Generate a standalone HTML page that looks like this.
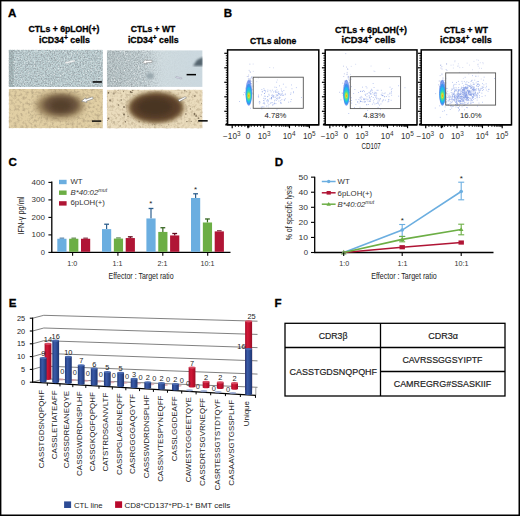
<!DOCTYPE html>
<html><head><meta charset="utf-8"><style>
html,body{margin:0;padding:0;background:#fff;}
svg{display:block;font-family:"Liberation Sans", sans-serif;}
text.hv{stroke:#222;stroke-width:0.2px;}
text[font-weight=bold]{stroke:#000;stroke-width:0.3px;}
</style></head><body>
<svg width="520" height="516" viewBox="0 0 520 516">
<rect width="520" height="516" fill="#fff"/>
<text x="8.1" y="17.3" font-size="11.6" font-weight="bold" fill="#000" >A</text>
<text x="223.8" y="17.3" font-size="11.6" font-weight="bold" fill="#000" >B</text>
<text x="8.6" y="165.5" font-size="11.6" font-weight="bold" fill="#000" >C</text>
<text x="274.7" y="165.6" font-size="11.6" font-weight="bold" fill="#000" >D</text>
<text x="8.7" y="307.0" font-size="11.6" font-weight="bold" fill="#000" >E</text>
<text x="274.5" y="307.1" font-size="11.6" font-weight="bold" fill="#000" >F</text>
<text x="64.0" y="32.2" font-size="8.7" font-weight="bold" text-anchor="middle" textLength="70.9" lengthAdjust="spacingAndGlyphs" fill="#000" >CTLs + 6pLOH(+)</text>
<text x="64.5" y="42.8" font-size="8.7" font-weight="bold" text-anchor="middle" textLength="51" lengthAdjust="spacingAndGlyphs">iCD34<tspan font-size="6.6" dy="-3.0">+</tspan><tspan dy="3.0"> cells</tspan></text>
<text x="153.0" y="32.1" font-size="8.7" font-weight="bold" text-anchor="middle" textLength="44.5" lengthAdjust="spacingAndGlyphs" fill="#000" >CTLs + WT</text>
<text x="153.3" y="42.8" font-size="8.7" font-weight="bold" text-anchor="middle" textLength="50.7" lengthAdjust="spacingAndGlyphs">iCD34<tspan font-size="6.6" dy="-3.0">+</tspan><tspan dy="3.0"> cells</tspan></text>
<defs>
<filter id="speck" x="0" y="0" width="100%" height="100%">
 <feTurbulence type="fractalNoise" baseFrequency="0.9" numOctaves="2" seed="3" result="n"/>
 <feColorMatrix in="n" type="matrix" values="0 0 0 0 0  0 0 0 0 0  0 0 0 0 0  0.9 0.9 0.9 0 -0.95" result="a"/>
 <feComposite in="SourceGraphic" in2="a" operator="over"/>
</filter>
<filter id="noiseD" x="0" y="0" width="100%" height="100%">
 <feTurbulence type="fractalNoise" baseFrequency="0.7" numOctaves="2" seed="5"/>
 <feColorMatrix type="matrix" values="0 0 0 0 0.25  0 0 0 0 0.28  0 0 0 0 0.3  0 0 0 -2.2 1.35"/>
</filter>
<filter id="noiseL" x="0" y="0" width="100%" height="100%">
 <feTurbulence type="fractalNoise" baseFrequency="0.7" numOctaves="2" seed="9"/>
 <feColorMatrix type="matrix" values="0 0 0 0 1  0 0 0 0 1  0 0 0 0 1  0 0 0 2.2 -1.25"/>
</filter>
<filter id="noiseB" x="0" y="0" width="100%" height="100%">
 <feTurbulence type="fractalNoise" baseFrequency="0.25" numOctaves="3" seed="11"/>
 <feColorMatrix type="matrix" values="0 0 0 0 0.45  0 0 0 0 0.35  0 0 0 0 0.2  0 0 0 -2.0 1.25"/>
</filter>
<filter id="blur1"><feGaussianBlur stdDeviation="1.2"/></filter>
<filter id="blur2"><feGaussianBlur stdDeviation="2.5"/></filter>
<filter id="blur3"><feGaussianBlur stdDeviation="4"/></filter>
<radialGradient id="blob1" cx="0.5" cy="0.5" r="0.5">
 <stop offset="0" stop-color="#5a4028"/><stop offset="0.55" stop-color="#6e5535"/><stop offset="0.8" stop-color="#98835e" stop-opacity="0.7"/><stop offset="1" stop-color="#c8b48a" stop-opacity="0"/>
</radialGradient>
<radialGradient id="blob2" cx="0.5" cy="0.5" r="0.5">
 <stop offset="0" stop-color="#4e3520"/><stop offset="0.6" stop-color="#5e4229"/><stop offset="0.85" stop-color="#7d6242" stop-opacity="0.85"/><stop offset="1" stop-color="#b09a74" stop-opacity="0"/>
</radialGradient>
<linearGradient id="g2top" x1="0" y1="0" x2="1" y2="0">
 <stop offset="0" stop-color="#b9c6c8"/><stop offset="0.35" stop-color="#c3d0d3"/><stop offset="0.55" stop-color="#d0dce0"/><stop offset="1" stop-color="#cbd8df"/>
</linearGradient>
<clipPath id="c1t"><rect x="8.7" y="49.7" width="94.2" height="37.3"/></clipPath>
<clipPath id="c1b"><rect x="8.7" y="89" width="94.2" height="39.3"/></clipPath>
<clipPath id="c2t"><rect x="106.8" y="50.2" width="95.8" height="36.7"/></clipPath>
<clipPath id="c2b"><rect x="106.8" y="89.6" width="95.8" height="38.8"/></clipPath>
</defs>
<defs>
<linearGradient id="m2g" x1="0" y1="0" x2="1" y2="0"><stop offset="0" stop-color="#fff"/><stop offset="0.38" stop-color="#fff"/><stop offset="0.6" stop-color="#fff" stop-opacity="0.15"/><stop offset="1" stop-color="#fff" stop-opacity="0"/></linearGradient>
<mask id="m2"><rect x="106.8" y="50.2" width="95.8" height="36.7" fill="url(#m2g)"/></mask>
<filter id="noiseB2" x="0" y="0" width="100%" height="100%">
 <feTurbulence type="fractalNoise" baseFrequency="0.35" numOctaves="3" seed="21"/>
 <feColorMatrix type="matrix" values="0 0 0 0 0.45  0 0 0 0 0.36  0 0 0 0 0.22  0 0 0 -2.6 1.45"/>
</filter>
<filter id="bl3"><feGaussianBlur stdDeviation="3"/></filter>
<filter id="bl2"><feGaussianBlur stdDeviation="2"/></filter>
<filter id="bl1"><feGaussianBlur stdDeviation="1"/></filter>
<filter id="bl05"><feGaussianBlur stdDeviation="0.5"/></filter>
</defs>
<g clip-path="url(#c1t)">
<rect x="8.70" y="49.70" width="94.20" height="37.30" fill="#c0d2d5" />
<rect x="8.70" y="49.70" width="5.00" height="37.30" fill="#9eb0b2" opacity="0.8"/>
<rect x="8.7" y="49.7" width="94.2" height="37.3" filter="url(#noiseD)" opacity="0.85"/>
<rect x="8.7" y="49.7" width="94.2" height="37.3" filter="url(#noiseL)"/>
<path d="M65,62.6 L73.5,60.2 L74.3,61.4 L65.8,63.6 Z" fill="#fff" stroke="#ccc" stroke-width="0.4"/>
<rect x="92.60" y="81.20" width="9.30" height="1.50" fill="#000" />
</g>
<g clip-path="url(#c1b)">
<rect x="8.70" y="89.00" width="94.20" height="39.30" fill="#e1cfa4" />
<rect x="8.7" y="89" width="94.2" height="39.3" filter="url(#noiseB2)" opacity="0.75"/>
<ellipse cx="60" cy="105.5" rx="24" ry="13" fill="#8f7854" filter="url(#bl3)"/>
<ellipse cx="61" cy="105" rx="17" ry="9.5" fill="#66503a" filter="url(#bl2)"/>
<ellipse cx="61" cy="105.5" rx="10" ry="5.5" fill="#54402c" filter="url(#bl2)"/>
<path d="M81.5,101.2 L85.5,97.8 L85.8,99.2 L92.5,96.8 L93.2,98.8 L86.5,101.2 L87,102.4 Z" fill="#fff" stroke="#6a6a6a" stroke-width="0.5" stroke-linejoin="round"/>
<rect x="92.00" y="120.40" width="9.30" height="1.40" fill="#000" />
</g>
<g clip-path="url(#c2t)">
<rect x="106.80" y="50.20" width="95.80" height="36.70" fill="url(#g2top)" />
<g mask="url(#m2)"><rect x="106.8" y="50.2" width="95.8" height="36.7" filter="url(#noiseD)" opacity="0.75"/><rect x="106.8" y="50.2" width="95.8" height="36.7" filter="url(#noiseL)"/></g>
<path d="M193,66 L197,60 L203,57 L203,66 Z" fill="#55656e" filter="url(#bl1)"/>
<ellipse cx="150" cy="76" rx="4" ry="3" fill="#9aa8ae" filter="url(#bl1)"/>
<path d="M142.5,62.5 L146,59.5 L146,60.6 L152,60.2 L152,62.4 L146.2,62.8 L146.4,64 Z" fill="#fff" stroke="#777" stroke-width="0.5"/>
<path d="M176,76.5 L182,78 L181.5,79 L175.5,77.5 Z" fill="#eef" stroke="#889" stroke-width="0.4"/>
<rect x="186.60" y="73.90" width="9.40" height="1.50" fill="#000" />
</g>
<g clip-path="url(#c2b)">
<rect x="106.80" y="89.60" width="95.80" height="38.80" fill="#eadcbd" />
<rect x="106.8" y="89.6" width="95.8" height="38.8" filter="url(#noiseB2)" opacity="0.6"/>
<circle cx="188.9" cy="96.7" r="0.56" fill="#5a4a35" opacity="0.41"/>
<circle cx="118.1" cy="90.3" r="0.51" fill="#5a4a35" opacity="0.66"/>
<circle cx="201.0" cy="116.4" r="0.66" fill="#5a4a35" opacity="0.60"/>
<circle cx="114.0" cy="122.0" r="0.83" fill="#5a4a35" opacity="0.46"/>
<circle cx="113.7" cy="93.6" r="1.07" fill="#5a4a35" opacity="0.45"/>
<circle cx="166.4" cy="126.8" r="0.42" fill="#5a4a35" opacity="0.59"/>
<circle cx="152.3" cy="124.8" r="0.53" fill="#5a4a35" opacity="0.53"/>
<circle cx="130.6" cy="91.9" r="0.87" fill="#5a4a35" opacity="0.81"/>
<circle cx="185.9" cy="114.0" r="0.81" fill="#5a4a35" opacity="0.67"/>
<circle cx="186.7" cy="91.7" r="0.51" fill="#5a4a35" opacity="0.51"/>
<circle cx="108.4" cy="118.6" r="0.85" fill="#5a4a35" opacity="0.67"/>
<circle cx="201.5" cy="103.6" r="0.54" fill="#5a4a35" opacity="0.46"/>
<circle cx="139.3" cy="121.8" r="0.82" fill="#5a4a35" opacity="0.43"/>
<circle cx="124.0" cy="114.4" r="0.98" fill="#5a4a35" opacity="0.71"/>
<circle cx="132.8" cy="90.3" r="0.59" fill="#5a4a35" opacity="0.74"/>
<circle cx="186.9" cy="121.6" r="0.60" fill="#5a4a35" opacity="0.88"/>
<circle cx="131.9" cy="92.5" r="0.76" fill="#5a4a35" opacity="0.83"/>
<circle cx="159.0" cy="125.8" r="0.45" fill="#5a4a35" opacity="0.53"/>
<circle cx="196.6" cy="115.0" r="0.45" fill="#5a4a35" opacity="0.62"/>
<circle cx="168.8" cy="124.7" r="0.46" fill="#5a4a35" opacity="0.85"/>
<circle cx="120.3" cy="125.9" r="0.58" fill="#5a4a35" opacity="0.52"/>
<circle cx="154.2" cy="124.6" r="0.46" fill="#5a4a35" opacity="0.86"/>
<circle cx="196.1" cy="116.0" r="0.96" fill="#5a4a35" opacity="0.59"/>
<circle cx="198.5" cy="118.2" r="0.88" fill="#5a4a35" opacity="0.62"/>
<circle cx="128.0" cy="116.3" r="0.92" fill="#5a4a35" opacity="0.40"/>
<circle cx="127.1" cy="94.9" r="0.53" fill="#5a4a35" opacity="0.41"/>
<circle cx="118.5" cy="104.9" r="0.75" fill="#5a4a35" opacity="0.72"/>
<circle cx="194.4" cy="114.0" r="0.88" fill="#5a4a35" opacity="0.74"/>
<circle cx="184.7" cy="90.6" r="0.96" fill="#5a4a35" opacity="0.46"/>
<circle cx="108.5" cy="92.9" r="0.79" fill="#5a4a35" opacity="0.83"/>
<circle cx="194.9" cy="96.0" r="0.70" fill="#5a4a35" opacity="0.87"/>
<circle cx="191.3" cy="121.4" r="0.57" fill="#5a4a35" opacity="0.54"/>
<circle cx="121.2" cy="100.0" r="0.68" fill="#5a4a35" opacity="0.80"/>
<circle cx="124.0" cy="107.1" r="1.02" fill="#5a4a35" opacity="0.64"/>
<circle cx="190.4" cy="108.9" r="0.66" fill="#5a4a35" opacity="0.63"/>
<circle cx="125.4" cy="121.8" r="0.74" fill="#5a4a35" opacity="0.72"/>
<circle cx="123.5" cy="91.6" r="0.56" fill="#5a4a35" opacity="0.61"/>
<circle cx="110.1" cy="100.4" r="1.06" fill="#5a4a35" opacity="0.62"/>
<circle cx="107.4" cy="120.5" r="0.61" fill="#5a4a35" opacity="0.49"/>
<ellipse cx="156" cy="107.5" rx="28" ry="15.5" fill="#8a7048" filter="url(#bl2)"/>
<ellipse cx="156" cy="107.5" rx="25" ry="13.5" fill="#5a4129" filter="url(#bl2)"/>
<ellipse cx="155" cy="107" rx="17" ry="8.5" fill="#4a3420" filter="url(#bl2)"/>
<path d="M178,100 L185,96.7 L186.5,97.8 L179.5,101.5 Z" fill="#fff" stroke="#666" stroke-width="0.5"/>
</g>
<rect x="198.20" y="120.10" width="9.50" height="1.50" fill="#000" />
<text x="273.1" y="44.1" font-size="8.9" font-weight="bold" text-anchor="middle" textLength="46.2" lengthAdjust="spacingAndGlyphs" fill="#000" >CTLs alone</text>
<text x="371.0" y="32.5" font-size="8.7" font-weight="bold" text-anchor="middle" textLength="72" lengthAdjust="spacingAndGlyphs" fill="#000" >CTLs + 6pLOH(+)</text>
<text x="368.5" y="42.6" font-size="8.7" font-weight="bold" text-anchor="middle" textLength="54.2" lengthAdjust="spacingAndGlyphs">iCD34<tspan font-size="6.6" dy="-3.0">+</tspan><tspan dy="3.0"> cells</tspan></text>
<text x="466.0" y="32.5" font-size="8.7" font-weight="bold" text-anchor="middle" textLength="44.0" lengthAdjust="spacingAndGlyphs" fill="#000" >CTLs + WT</text>
<text x="465.9" y="42.6" font-size="8.7" font-weight="bold" text-anchor="middle" textLength="51.8" lengthAdjust="spacingAndGlyphs">iCD34<tspan font-size="6.6" dy="-3.0">+</tspan><tspan dy="3.0"> cells</tspan></text>
<rect x="227.60" y="49.90" width="91.20" height="74.90" fill="#fff" stroke="#000" stroke-width="1.5"/>
<line x1="224.30" y1="53.30" x2="227.60" y2="53.30" stroke="#000" stroke-width="1.2" />
<line x1="225.80" y1="55.72" x2="227.60" y2="55.72" stroke="#000" stroke-width="0.9" />
<line x1="225.80" y1="58.13" x2="227.60" y2="58.13" stroke="#000" stroke-width="0.9" />
<line x1="225.80" y1="60.55" x2="227.60" y2="60.55" stroke="#000" stroke-width="0.9" />
<line x1="225.80" y1="62.97" x2="227.60" y2="62.97" stroke="#000" stroke-width="0.9" />
<line x1="225.80" y1="65.38" x2="227.60" y2="65.38" stroke="#000" stroke-width="0.9" />
<line x1="224.30" y1="67.80" x2="227.60" y2="67.80" stroke="#000" stroke-width="1.2" />
<line x1="225.80" y1="70.22" x2="227.60" y2="70.22" stroke="#000" stroke-width="0.9" />
<line x1="225.80" y1="72.63" x2="227.60" y2="72.63" stroke="#000" stroke-width="0.9" />
<line x1="225.80" y1="75.05" x2="227.60" y2="75.05" stroke="#000" stroke-width="0.9" />
<line x1="225.80" y1="77.47" x2="227.60" y2="77.47" stroke="#000" stroke-width="0.9" />
<line x1="225.80" y1="79.88" x2="227.60" y2="79.88" stroke="#000" stroke-width="0.9" />
<line x1="224.30" y1="82.30" x2="227.60" y2="82.30" stroke="#000" stroke-width="1.2" />
<line x1="225.80" y1="84.72" x2="227.60" y2="84.72" stroke="#000" stroke-width="0.9" />
<line x1="225.80" y1="87.13" x2="227.60" y2="87.13" stroke="#000" stroke-width="0.9" />
<line x1="225.80" y1="89.55" x2="227.60" y2="89.55" stroke="#000" stroke-width="0.9" />
<line x1="225.80" y1="91.97" x2="227.60" y2="91.97" stroke="#000" stroke-width="0.9" />
<line x1="225.80" y1="94.38" x2="227.60" y2="94.38" stroke="#000" stroke-width="0.9" />
<line x1="224.30" y1="96.80" x2="227.60" y2="96.80" stroke="#000" stroke-width="1.2" />
<line x1="225.80" y1="99.22" x2="227.60" y2="99.22" stroke="#000" stroke-width="0.9" />
<line x1="225.80" y1="101.63" x2="227.60" y2="101.63" stroke="#000" stroke-width="0.9" />
<line x1="225.80" y1="104.05" x2="227.60" y2="104.05" stroke="#000" stroke-width="0.9" />
<line x1="225.80" y1="106.47" x2="227.60" y2="106.47" stroke="#000" stroke-width="0.9" />
<line x1="225.80" y1="108.88" x2="227.60" y2="108.88" stroke="#000" stroke-width="0.9" />
<line x1="224.30" y1="111.30" x2="227.60" y2="111.30" stroke="#000" stroke-width="1.2" />
<line x1="225.80" y1="113.72" x2="227.60" y2="113.72" stroke="#000" stroke-width="0.9" />
<line x1="225.80" y1="116.13" x2="227.60" y2="116.13" stroke="#000" stroke-width="0.9" />
<line x1="225.80" y1="118.55" x2="227.60" y2="118.55" stroke="#000" stroke-width="0.9" />
<line x1="225.80" y1="120.97" x2="227.60" y2="120.97" stroke="#000" stroke-width="0.9" />
<line x1="225.80" y1="123.38" x2="227.60" y2="123.38" stroke="#000" stroke-width="0.9" />
<line x1="225.30" y1="124.80" x2="318.80" y2="124.80" stroke="#000" stroke-width="1.5" />
<line x1="232.19" y1="124.80" x2="232.19" y2="128.20" stroke="#000" stroke-width="1.2" />
<line x1="248.06" y1="124.80" x2="248.06" y2="128.20" stroke="#000" stroke-width="1.2" />
<line x1="263.82" y1="124.80" x2="263.82" y2="128.20" stroke="#000" stroke-width="1.2" />
<line x1="289.46" y1="124.80" x2="289.46" y2="128.20" stroke="#000" stroke-width="1.2" />
<line x1="309.42" y1="124.80" x2="309.42" y2="128.20" stroke="#000" stroke-width="1.2" />
<line x1="235.36" y1="124.80" x2="235.36" y2="126.80" stroke="#000" stroke-width="0.9" />
<line x1="238.54" y1="124.80" x2="238.54" y2="126.80" stroke="#000" stroke-width="0.9" />
<line x1="241.71" y1="124.80" x2="241.71" y2="126.80" stroke="#000" stroke-width="0.9" />
<line x1="244.88" y1="124.80" x2="244.88" y2="126.80" stroke="#000" stroke-width="0.9" />
<line x1="251.21" y1="124.80" x2="251.21" y2="126.80" stroke="#000" stroke-width="0.9" />
<line x1="254.36" y1="124.80" x2="254.36" y2="126.80" stroke="#000" stroke-width="0.9" />
<line x1="257.51" y1="124.80" x2="257.51" y2="126.80" stroke="#000" stroke-width="0.9" />
<line x1="260.67" y1="124.80" x2="260.67" y2="126.80" stroke="#000" stroke-width="0.9" />
<line x1="271.54" y1="124.80" x2="271.54" y2="126.80" stroke="#000" stroke-width="0.9" />
<line x1="276.06" y1="124.80" x2="276.06" y2="126.80" stroke="#000" stroke-width="0.9" />
<line x1="279.26" y1="124.80" x2="279.26" y2="126.80" stroke="#000" stroke-width="0.9" />
<line x1="281.74" y1="124.80" x2="281.74" y2="126.80" stroke="#000" stroke-width="0.9" />
<line x1="283.78" y1="124.80" x2="283.78" y2="126.80" stroke="#000" stroke-width="0.9" />
<line x1="285.49" y1="124.80" x2="285.49" y2="126.80" stroke="#000" stroke-width="0.9" />
<line x1="286.98" y1="124.80" x2="286.98" y2="126.80" stroke="#000" stroke-width="0.9" />
<line x1="288.29" y1="124.80" x2="288.29" y2="126.80" stroke="#000" stroke-width="0.9" />
<line x1="295.47" y1="124.80" x2="295.47" y2="126.80" stroke="#000" stroke-width="0.9" />
<line x1="298.99" y1="124.80" x2="298.99" y2="126.80" stroke="#000" stroke-width="0.9" />
<line x1="301.48" y1="124.80" x2="301.48" y2="126.80" stroke="#000" stroke-width="0.9" />
<line x1="303.41" y1="124.80" x2="303.41" y2="126.80" stroke="#000" stroke-width="0.9" />
<line x1="304.99" y1="124.80" x2="304.99" y2="126.80" stroke="#000" stroke-width="0.9" />
<line x1="306.33" y1="124.80" x2="306.33" y2="126.80" stroke="#000" stroke-width="0.9" />
<line x1="307.49" y1="124.80" x2="307.49" y2="126.80" stroke="#000" stroke-width="0.9" />
<line x1="308.51" y1="124.80" x2="308.51" y2="126.80" stroke="#000" stroke-width="0.9" />
<line x1="247.10" y1="126.30" x2="249.60" y2="126.30" stroke="#000" stroke-width="2.2" />
<text x="231.79" y="138.9" font-size="8.2" text-anchor="middle" fill="#333">&#8722;10<tspan font-size="6.4" dy="-3.1">3</tspan></text>
<text x="248.06" y="138.9" font-size="8.2" text-anchor="middle" fill="#333" >0</text>
<text x="264.12" y="138.9" font-size="8.2" text-anchor="middle" fill="#333">10<tspan font-size="6.4" dy="-3.1">3</tspan></text>
<text x="289.16" y="138.9" font-size="8.2" text-anchor="middle" fill="#333">10<tspan font-size="6.4" dy="-3.1">4</tspan></text>
<text x="309.22" y="138.9" font-size="8.2" text-anchor="middle" fill="#333">10<tspan font-size="6.4" dy="-3.1">5</tspan></text>
<rect x="251.4" y="76.0" width="0.9" height="0.9" fill="#8c9bd8" opacity="0.6"/>
<rect x="248.9" y="84.9" width="0.9" height="0.9" fill="#8c9bd8" opacity="0.6"/>
<rect x="246.6" y="94.4" width="0.9" height="0.9" fill="#8c9bd8" opacity="0.6"/>
<rect x="246.8" y="76.1" width="0.9" height="0.9" fill="#8c9bd8" opacity="0.6"/>
<rect x="249.2" y="93.1" width="0.9" height="0.9" fill="#8c9bd8" opacity="0.6"/>
<rect x="249.9" y="82.9" width="0.9" height="0.9" fill="#8c9bd8" opacity="0.6"/>
<rect x="248.8" y="94.0" width="0.9" height="0.9" fill="#8c9bd8" opacity="0.6"/>
<rect x="245.8" y="87.8" width="0.9" height="0.9" fill="#8c9bd8" opacity="0.6"/>
<rect x="249.4" y="63.7" width="0.9" height="0.9" fill="#8c9bd8" opacity="0.6"/>
<rect x="249.2" y="92.9" width="0.9" height="0.9" fill="#8c9bd8" opacity="0.6"/>
<rect x="251.3" y="92.2" width="0.9" height="0.9" fill="#8c9bd8" opacity="0.6"/>
<rect x="250.6" y="90.0" width="0.9" height="0.9" fill="#8c9bd8" opacity="0.6"/>
<rect x="249.2" y="81.5" width="0.9" height="0.9" fill="#8c9bd8" opacity="0.6"/>
<rect x="250.2" y="93.1" width="0.9" height="0.9" fill="#8c9bd8" opacity="0.6"/>
<rect x="246.6" y="89.0" width="0.9" height="0.9" fill="#8c9bd8" opacity="0.6"/>
<rect x="249.0" y="85.4" width="0.9" height="0.9" fill="#8c9bd8" opacity="0.6"/>
<rect x="249.2" y="80.7" width="0.9" height="0.9" fill="#8c9bd8" opacity="0.6"/>
<rect x="248.7" y="92.2" width="0.9" height="0.9" fill="#8c9bd8" opacity="0.6"/>
<rect x="250.1" y="80.7" width="0.9" height="0.9" fill="#8c9bd8" opacity="0.6"/>
<rect x="248.0" y="88.3" width="0.9" height="0.9" fill="#8c9bd8" opacity="0.6"/>
<rect x="252.8" y="93.6" width="0.9" height="0.9" fill="#8c9bd8" opacity="0.6"/>
<rect x="250.1" y="86.7" width="0.9" height="0.9" fill="#8c9bd8" opacity="0.6"/>
<rect x="248.2" y="74.6" width="0.9" height="0.9" fill="#8c9bd8" opacity="0.6"/>
<rect x="250.7" y="89.5" width="0.9" height="0.9" fill="#8c9bd8" opacity="0.6"/>
<rect x="250.2" y="77.8" width="0.9" height="0.9" fill="#8c9bd8" opacity="0.6"/>
<rect x="247.9" y="78.5" width="0.9" height="0.9" fill="#8c9bd8" opacity="0.6"/>
<rect x="251.7" y="77.9" width="0.9" height="0.9" fill="#8c9bd8" opacity="0.6"/>
<rect x="246.1" y="94.2" width="0.9" height="0.9" fill="#8c9bd8" opacity="0.6"/>
<rect x="250.3" y="92.7" width="0.9" height="0.9" fill="#8c9bd8" opacity="0.6"/>
<rect x="249.4" y="81.9" width="0.9" height="0.9" fill="#8c9bd8" opacity="0.6"/>
<rect x="250.0" y="80.3" width="0.9" height="0.9" fill="#8c9bd8" opacity="0.6"/>
<rect x="247.9" y="76.2" width="0.9" height="0.9" fill="#8c9bd8" opacity="0.6"/>
<rect x="247.3" y="84.9" width="0.9" height="0.9" fill="#8c9bd8" opacity="0.6"/>
<rect x="245.3" y="93.6" width="0.9" height="0.9" fill="#8c9bd8" opacity="0.6"/>
<rect x="246.8" y="93.1" width="0.9" height="0.9" fill="#8c9bd8" opacity="0.6"/>
<rect x="248.3" y="94.6" width="0.9" height="0.9" fill="#8c9bd8" opacity="0.6"/>
<rect x="251.8" y="89.3" width="0.9" height="0.9" fill="#8c9bd8" opacity="0.6"/>
<rect x="251.5" y="93.0" width="0.9" height="0.9" fill="#8c9bd8" opacity="0.6"/>
<rect x="247.8" y="89.9" width="0.9" height="0.9" fill="#8c9bd8" opacity="0.6"/>
<rect x="243.1" y="94.3" width="0.9" height="0.9" fill="#8c9bd8" opacity="0.6"/>
<rect x="249.1" y="78.7" width="0.9" height="0.9" fill="#8c9bd8" opacity="0.6"/>
<rect x="249.7" y="87.5" width="0.9" height="0.9" fill="#8c9bd8" opacity="0.6"/>
<rect x="243.9" y="92.0" width="0.9" height="0.9" fill="#8c9bd8" opacity="0.6"/>
<rect x="246.8" y="88.0" width="0.9" height="0.9" fill="#8c9bd8" opacity="0.6"/>
<rect x="248.5" y="78.5" width="0.9" height="0.9" fill="#8c9bd8" opacity="0.6"/>
<rect x="249.0" y="94.4" width="0.9" height="0.9" fill="#8c9bd8" opacity="0.6"/>
<rect x="249.6" y="71.2" width="0.9" height="0.9" fill="#8c9bd8" opacity="0.6"/>
<rect x="251.3" y="80.8" width="0.9" height="0.9" fill="#8c9bd8" opacity="0.6"/>
<rect x="249.7" y="80.2" width="0.9" height="0.9" fill="#8c9bd8" opacity="0.6"/>
<rect x="246.8" y="89.6" width="0.9" height="0.9" fill="#8c9bd8" opacity="0.6"/>
<rect x="252.6" y="85.7" width="0.9" height="0.9" fill="#8c9bd8" opacity="0.6"/>
<rect x="247.6" y="91.1" width="0.9" height="0.9" fill="#8c9bd8" opacity="0.6"/>
<rect x="246.5" y="94.4" width="0.9" height="0.9" fill="#8c9bd8" opacity="0.6"/>
<rect x="247.7" y="85.4" width="0.9" height="0.9" fill="#8c9bd8" opacity="0.6"/>
<rect x="246.1" y="90.4" width="0.9" height="0.9" fill="#8c9bd8" opacity="0.6"/>
<rect x="247.1" y="85.5" width="0.9" height="0.9" fill="#8c9bd8" opacity="0.6"/>
<rect x="250.2" y="93.2" width="0.9" height="0.9" fill="#8c9bd8" opacity="0.6"/>
<rect x="250.0" y="79.3" width="0.9" height="0.9" fill="#8c9bd8" opacity="0.6"/>
<rect x="251.1" y="77.0" width="0.9" height="0.9" fill="#8c9bd8" opacity="0.6"/>
<rect x="249.9" y="71.9" width="0.9" height="0.9" fill="#8c9bd8" opacity="0.6"/>
<rect x="248.7" y="69.9" width="0.9" height="0.9" fill="#8c9bd8" opacity="0.6"/>
<rect x="248.4" y="90.0" width="0.9" height="0.9" fill="#8c9bd8" opacity="0.6"/>
<rect x="249.1" y="94.6" width="0.9" height="0.9" fill="#8c9bd8" opacity="0.6"/>
<rect x="248.9" y="85.0" width="0.9" height="0.9" fill="#8c9bd8" opacity="0.6"/>
<rect x="251.0" y="83.2" width="0.9" height="0.9" fill="#8c9bd8" opacity="0.6"/>
<rect x="248.4" y="90.7" width="0.9" height="0.9" fill="#8c9bd8" opacity="0.6"/>
<rect x="250.1" y="81.4" width="0.9" height="0.9" fill="#8c9bd8" opacity="0.6"/>
<rect x="249.6" y="85.8" width="0.9" height="0.9" fill="#8c9bd8" opacity="0.6"/>
<rect x="248.3" y="80.9" width="0.9" height="0.9" fill="#8c9bd8" opacity="0.6"/>
<rect x="247.8" y="81.6" width="0.9" height="0.9" fill="#8c9bd8" opacity="0.6"/>
<rect x="252.8" y="70.9" width="0.9" height="0.9" fill="#b0bce6" opacity="0.6"/>
<rect x="269.3" y="67.0" width="0.9" height="0.9" fill="#b0bce6" opacity="0.6"/>
<rect x="256.3" y="81.2" width="0.9" height="0.9" fill="#b0bce6" opacity="0.6"/>
<rect x="273.0" y="67.4" width="0.9" height="0.9" fill="#b0bce6" opacity="0.6"/>
<rect x="276.9" y="79.5" width="0.9" height="0.9" fill="#b0bce6" opacity="0.6"/>
<rect x="252.7" y="63.6" width="0.9" height="0.9" fill="#b0bce6" opacity="0.6"/>
<rect x="257.9" y="77.6" width="0.9" height="0.9" fill="#b0bce6" opacity="0.6"/>
<rect x="280.2" y="102.2" width="0.9" height="0.9" fill="#7f98e4" opacity="0.6"/>
<rect x="265.0" y="91.5" width="0.9" height="0.9" fill="#7f98e4" opacity="0.6"/>
<rect x="276.5" y="109.3" width="0.9" height="0.9" fill="#7f98e4" opacity="0.6"/>
<rect x="274.9" y="90.3" width="0.9" height="0.9" fill="#7f98e4" opacity="0.6"/>
<rect x="273.7" y="103.4" width="0.9" height="0.9" fill="#7f98e4" opacity="0.6"/>
<rect x="259.6" y="101.7" width="0.9" height="0.9" fill="#7f98e4" opacity="0.6"/>
<rect x="264.3" y="103.5" width="0.9" height="0.9" fill="#7f98e4" opacity="0.6"/>
<rect x="279.6" y="97.2" width="0.9" height="0.9" fill="#7f98e4" opacity="0.6"/>
<rect x="293.0" y="92.3" width="0.9" height="0.9" fill="#7f98e4" opacity="0.6"/>
<rect x="263.5" y="106.5" width="0.9" height="0.9" fill="#7f98e4" opacity="0.6"/>
<rect x="261.4" y="108.5" width="0.9" height="0.9" fill="#7f98e4" opacity="0.6"/>
<rect x="270.6" y="91.4" width="0.9" height="0.9" fill="#7f98e4" opacity="0.6"/>
<rect x="271.0" y="97.2" width="0.9" height="0.9" fill="#7f98e4" opacity="0.6"/>
<rect x="273.2" y="95.3" width="0.9" height="0.9" fill="#7f98e4" opacity="0.6"/>
<rect x="282.9" y="83.7" width="0.9" height="0.9" fill="#7f98e4" opacity="0.6"/>
<rect x="264.9" y="95.8" width="0.9" height="0.9" fill="#7f98e4" opacity="0.6"/>
<rect x="291.0" y="84.5" width="0.9" height="0.9" fill="#7f98e4" opacity="0.6"/>
<rect x="267.3" y="91.2" width="0.9" height="0.9" fill="#7f98e4" opacity="0.6"/>
<rect x="263.7" y="100.4" width="0.9" height="0.9" fill="#7f98e4" opacity="0.6"/>
<rect x="275.5" y="103.2" width="0.9" height="0.9" fill="#7f98e4" opacity="0.6"/>
<rect x="264.4" y="98.5" width="0.9" height="0.9" fill="#7f98e4" opacity="0.6"/>
<rect x="283.9" y="99.7" width="0.9" height="0.9" fill="#7f98e4" opacity="0.6"/>
<rect x="267.3" y="102.5" width="0.9" height="0.9" fill="#7f98e4" opacity="0.6"/>
<rect x="260.8" y="106.5" width="0.9" height="0.9" fill="#7f98e4" opacity="0.6"/>
<rect x="272.7" y="95.8" width="0.9" height="0.9" fill="#7f98e4" opacity="0.6"/>
<rect x="274.0" y="100.4" width="0.9" height="0.9" fill="#7f98e4" opacity="0.6"/>
<rect x="290.2" y="93.9" width="0.9" height="0.9" fill="#7f98e4" opacity="0.6"/>
<rect x="267.0" y="99.8" width="0.9" height="0.9" fill="#7f98e4" opacity="0.6"/>
<rect x="261.4" y="89.0" width="0.9" height="0.9" fill="#7f98e4" opacity="0.6"/>
<rect x="280.2" y="93.7" width="0.9" height="0.9" fill="#7f98e4" opacity="0.6"/>
<rect x="283.4" y="90.1" width="0.9" height="0.9" fill="#7f98e4" opacity="0.6"/>
<rect x="239.1" y="101.1" width="0.9" height="0.9" fill="#7f98e4" opacity="0.6"/>
<rect x="272.7" y="104.3" width="0.9" height="0.9" fill="#7f98e4" opacity="0.6"/>
<rect x="276.8" y="97.5" width="0.9" height="0.9" fill="#7f98e4" opacity="0.6"/>
<rect x="277.5" y="94.0" width="0.9" height="0.9" fill="#7f98e4" opacity="0.6"/>
<rect x="271.9" y="89.7" width="0.9" height="0.9" fill="#7f98e4" opacity="0.6"/>
<rect x="276.7" y="91.9" width="0.9" height="0.9" fill="#7f98e4" opacity="0.6"/>
<rect x="266.1" y="100.5" width="0.9" height="0.9" fill="#7f98e4" opacity="0.6"/>
<rect x="281.1" y="90.5" width="0.9" height="0.9" fill="#7f98e4" opacity="0.6"/>
<rect x="293.0" y="91.3" width="0.9" height="0.9" fill="#7f98e4" opacity="0.6"/>
<rect x="280.2" y="100.3" width="0.9" height="0.9" fill="#7f98e4" opacity="0.6"/>
<rect x="273.5" y="97.1" width="0.9" height="0.9" fill="#7f98e4" opacity="0.6"/>
<rect x="290.8" y="99.0" width="0.9" height="0.9" fill="#7f98e4" opacity="0.6"/>
<rect x="275.9" y="86.9" width="0.9" height="0.9" fill="#7f98e4" opacity="0.6"/>
<rect x="262.8" y="103.1" width="0.9" height="0.9" fill="#7f98e4" opacity="0.6"/>
<rect x="273.1" y="91.5" width="0.9" height="0.9" fill="#7f98e4" opacity="0.6"/>
<rect x="263.9" y="95.7" width="0.9" height="0.9" fill="#7f98e4" opacity="0.6"/>
<rect x="278.5" y="97.7" width="0.9" height="0.9" fill="#7f98e4" opacity="0.6"/>
<rect x="282.0" y="91.3" width="0.9" height="0.9" fill="#7f98e4" opacity="0.6"/>
<rect x="281.8" y="92.9" width="0.9" height="0.9" fill="#7f98e4" opacity="0.6"/>
<rect x="267.7" y="105.5" width="0.9" height="0.9" fill="#7f98e4" opacity="0.6"/>
<rect x="271.8" y="95.7" width="0.9" height="0.9" fill="#7f98e4" opacity="0.6"/>
<rect x="268.7" y="94.8" width="0.9" height="0.9" fill="#7f98e4" opacity="0.6"/>
<rect x="288.2" y="101.7" width="0.9" height="0.9" fill="#7f98e4" opacity="0.6"/>
<rect x="278.9" y="96.6" width="0.9" height="0.9" fill="#7f98e4" opacity="0.6"/>
<rect x="282.5" y="95.0" width="0.9" height="0.9" fill="#7f98e4" opacity="0.6"/>
<rect x="276.0" y="98.0" width="0.9" height="0.9" fill="#7f98e4" opacity="0.6"/>
<rect x="272.0" y="104.6" width="0.9" height="0.9" fill="#7f98e4" opacity="0.6"/>
<rect x="290.3" y="101.2" width="0.9" height="0.9" fill="#7f98e4" opacity="0.6"/>
<rect x="250.0" y="107.8" width="0.9" height="0.9" fill="#7f98e4" opacity="0.6"/>
<rect x="278.7" y="93.5" width="0.9" height="0.9" fill="#7f98e4" opacity="0.6"/>
<rect x="270.7" y="102.2" width="0.9" height="0.9" fill="#7f98e4" opacity="0.6"/>
<rect x="283.9" y="99.5" width="0.9" height="0.9" fill="#7f98e4" opacity="0.6"/>
<rect x="272.5" y="96.5" width="0.9" height="0.9" fill="#7f98e4" opacity="0.6"/>
<rect x="280.2" y="95.1" width="0.9" height="0.9" fill="#7f98e4" opacity="0.6"/>
<rect x="261.1" y="94.4" width="0.9" height="0.9" fill="#7f98e4" opacity="0.6"/>
<rect x="269.5" y="98.3" width="0.9" height="0.9" fill="#7f98e4" opacity="0.6"/>
<rect x="295.9" y="87.2" width="0.9" height="0.9" fill="#7f98e4" opacity="0.6"/>
<rect x="276.2" y="95.5" width="0.9" height="0.9" fill="#7f98e4" opacity="0.6"/>
<rect x="274.3" y="102.9" width="0.9" height="0.9" fill="#7f98e4" opacity="0.6"/>
<rect x="284.7" y="94.3" width="0.9" height="0.9" fill="#7f98e4" opacity="0.6"/>
<rect x="264.9" y="90.3" width="0.9" height="0.9" fill="#7f98e4" opacity="0.6"/>
<rect x="270.2" y="102.8" width="0.9" height="0.9" fill="#7f98e4" opacity="0.6"/>
<rect x="268.1" y="100.3" width="0.9" height="0.9" fill="#7f98e4" opacity="0.6"/>
<rect x="278.8" y="97.7" width="0.9" height="0.9" fill="#7f98e4" opacity="0.6"/>
<rect x="282.9" y="94.7" width="0.9" height="0.9" fill="#7f98e4" opacity="0.6"/>
<rect x="261.9" y="91.5" width="0.9" height="0.9" fill="#7f98e4" opacity="0.6"/>
<rect x="281.2" y="93.7" width="0.9" height="0.9" fill="#7f98e4" opacity="0.6"/>
<rect x="267.6" y="101.0" width="0.9" height="0.9" fill="#7f98e4" opacity="0.6"/>
<rect x="262.3" y="106.2" width="0.9" height="0.9" fill="#7f98e4" opacity="0.6"/>
<rect x="278.3" y="93.1" width="0.9" height="0.9" fill="#7f98e4" opacity="0.6"/>
<rect x="264.0" y="102.6" width="0.9" height="0.9" fill="#7f98e4" opacity="0.6"/>
<rect x="258.0" y="94.6" width="0.9" height="0.9" fill="#7f98e4" opacity="0.6"/>
<rect x="271.1" y="97.5" width="0.9" height="0.9" fill="#7f98e4" opacity="0.6"/>
<rect x="271.2" y="98.4" width="0.9" height="0.9" fill="#7f98e4" opacity="0.6"/>
<rect x="267.0" y="96.3" width="0.9" height="0.9" fill="#7f98e4" opacity="0.6"/>
<rect x="284.9" y="98.3" width="0.9" height="0.9" fill="#7f98e4" opacity="0.6"/>
<rect x="266.1" y="105.6" width="0.9" height="0.9" fill="#7f98e4" opacity="0.6"/>
<rect x="249.1" y="99.1" width="0.9" height="0.9" fill="#7f98e4" opacity="0.6"/>
<rect x="278.4" y="100.6" width="0.9" height="0.9" fill="#7f98e4" opacity="0.6"/>
<rect x="272.2" y="94.5" width="0.9" height="0.9" fill="#7f98e4" opacity="0.6"/>
<rect x="277.4" y="94.9" width="0.9" height="0.9" fill="#7f98e4" opacity="0.6"/>
<rect x="276.2" y="81.7" width="0.9" height="0.9" fill="#7f98e4" opacity="0.6"/>
<rect x="275.2" y="92.1" width="0.9" height="0.9" fill="#7f98e4" opacity="0.6"/>
<rect x="281.4" y="99.2" width="0.9" height="0.9" fill="#7f98e4" opacity="0.6"/>
<rect x="279.0" y="93.7" width="0.9" height="0.9" fill="#7f98e4" opacity="0.6"/>
<rect x="275.8" y="94.3" width="0.9" height="0.9" fill="#7f98e4" opacity="0.6"/>
<rect x="273.4" y="95.6" width="0.9" height="0.9" fill="#7f98e4" opacity="0.6"/>
<rect x="261.4" y="107.3" width="0.9" height="0.9" fill="#7f98e4" opacity="0.6"/>
<rect x="279.0" y="85.4" width="0.9" height="0.9" fill="#7f98e4" opacity="0.6"/>
<rect x="280.8" y="88.5" width="0.9" height="0.9" fill="#7f98e4" opacity="0.6"/>
<rect x="268.4" y="93.8" width="0.9" height="0.9" fill="#7f98e4" opacity="0.6"/>
<rect x="265.1" y="98.3" width="0.9" height="0.9" fill="#7f98e4" opacity="0.6"/>
<rect x="267.4" y="89.6" width="0.9" height="0.9" fill="#7f98e4" opacity="0.6"/>
<rect x="270.9" y="98.3" width="0.9" height="0.9" fill="#7f98e4" opacity="0.6"/>
<rect x="290.5" y="92.5" width="0.9" height="0.9" fill="#7f98e4" opacity="0.6"/>
<rect x="257.9" y="95.9" width="0.9" height="0.9" fill="#7f98e4" opacity="0.6"/>
<rect x="278.2" y="91.4" width="0.9" height="0.9" fill="#7f98e4" opacity="0.6"/>
<rect x="263.1" y="100.1" width="0.9" height="0.9" fill="#7f98e4" opacity="0.6"/>
<rect x="270.9" y="97.6" width="0.9" height="0.9" fill="#7f98e4" opacity="0.6"/>
<rect x="264.1" y="93.1" width="0.9" height="0.9" fill="#7f98e4" opacity="0.6"/>
<rect x="267.4" y="96.1" width="0.9" height="0.9" fill="#7f98e4" opacity="0.6"/>
<rect x="267.3" y="99.0" width="0.9" height="0.9" fill="#7f98e4" opacity="0.6"/>
<rect x="277.0" y="98.6" width="0.9" height="0.9" fill="#7f98e4" opacity="0.6"/>
<rect x="276.3" y="91.5" width="0.9" height="0.9" fill="#7f98e4" opacity="0.6"/>
<rect x="258.7" y="101.7" width="0.9" height="0.9" fill="#7f98e4" opacity="0.6"/>
<rect x="271.1" y="97.1" width="0.9" height="0.9" fill="#7f98e4" opacity="0.6"/>
<rect x="258.2" y="96.7" width="0.9" height="0.9" fill="#7f98e4" opacity="0.6"/>
<rect x="264.0" y="92.9" width="0.9" height="0.9" fill="#7f98e4" opacity="0.6"/>
<rect x="264.1" y="89.7" width="0.9" height="0.9" fill="#7f98e4" opacity="0.6"/>
<rect x="271.9" y="102.2" width="0.9" height="0.9" fill="#7f98e4" opacity="0.6"/>
<rect x="263.2" y="97.8" width="0.9" height="0.9" fill="#7f98e4" opacity="0.6"/>
<rect x="259.0" y="101.1" width="0.9" height="0.9" fill="#7f98e4" opacity="0.6"/>
<rect x="291.5" y="88.3" width="0.9" height="0.9" fill="#7f98e4" opacity="0.6"/>
<rect x="268.5" y="103.9" width="0.9" height="0.9" fill="#7f98e4" opacity="0.6"/>
<rect x="275.0" y="96.7" width="0.9" height="0.9" fill="#7f98e4" opacity="0.6"/>
<rect x="248.5" y="98.0" width="0.9" height="0.9" fill="#7f98e4" opacity="0.6"/>
<rect x="281.1" y="102.7" width="0.9" height="0.9" fill="#7f98e4" opacity="0.6"/>
<rect x="278.1" y="92.9" width="0.9" height="0.9" fill="#7f98e4" opacity="0.6"/>
<rect x="263.4" y="88.2" width="0.9" height="0.9" fill="#7f98e4" opacity="0.6"/>
<rect x="259.2" y="103.3" width="0.9" height="0.9" fill="#7f98e4" opacity="0.6"/>
<rect x="269.7" y="89.9" width="0.9" height="0.9" fill="#7f98e4" opacity="0.6"/>
<rect x="285.5" y="86.7" width="0.9" height="0.9" fill="#7f98e4" opacity="0.6"/>
<rect x="284.9" y="93.5" width="0.9" height="0.9" fill="#7f98e4" opacity="0.6"/>
<rect x="274.7" y="99.5" width="0.9" height="0.9" fill="#7f98e4" opacity="0.6"/>
<rect x="273.9" y="102.6" width="0.9" height="0.9" fill="#7f98e4" opacity="0.6"/>
<rect x="271.2" y="94.8" width="0.9" height="0.9" fill="#7f98e4" opacity="0.6"/>
<rect x="263.7" y="90.0" width="0.9" height="0.9" fill="#7f98e4" opacity="0.6"/>
<rect x="263.4" y="102.2" width="0.9" height="0.9" fill="#7f98e4" opacity="0.6"/>
<rect x="280.1" y="102.6" width="0.9" height="0.9" fill="#7f98e4" opacity="0.6"/>
<rect x="301.0" y="97.1" width="0.9" height="0.9" fill="#7f98e4" opacity="0.6"/>
<rect x="276.5" y="89.4" width="0.9" height="0.9" fill="#7f98e4" opacity="0.6"/>
<rect x="268.3" y="107.7" width="0.9" height="0.9" fill="#7f98e4" opacity="0.6"/>
<rect x="276.8" y="95.2" width="0.9" height="0.9" fill="#7f98e4" opacity="0.6"/>
<rect x="274.4" y="86.7" width="0.9" height="0.9" fill="#7f98e4" opacity="0.6"/>
<rect x="261.8" y="90.9" width="0.9" height="0.9" fill="#7f98e4" opacity="0.6"/>
<rect x="247.5" y="102.7" width="0.9" height="0.9" fill="#7f98e4" opacity="0.6"/>
<rect x="281.6" y="94.6" width="0.9" height="0.9" fill="#7f98e4" opacity="0.6"/>
<rect x="274.8" y="91.1" width="0.9" height="0.9" fill="#7f98e4" opacity="0.6"/>
<rect x="276.0" y="99.8" width="0.9" height="0.9" fill="#7f98e4" opacity="0.6"/>
<g filter="url(#bl05)">
<ellipse cx="248.80" cy="92.80" rx="3.3" ry="13" fill="#5a80ea" opacity="0.75"/>
<ellipse cx="248.80" cy="94.30" rx="3.0" ry="10.5" fill="#3a94f0" opacity="1"/>
<ellipse cx="248.80" cy="95.10" rx="2.6" ry="8" fill="#20bce8" opacity="1"/>
<ellipse cx="248.80" cy="95.50" rx="2.1" ry="5.6" fill="#38d8b0" opacity="1"/>
<ellipse cx="248.80" cy="95.70" rx="1.6" ry="3.8" fill="#80e060" opacity="1"/>
<ellipse cx="248.80" cy="95.70" rx="1.1" ry="2.4" fill="#e0e830" opacity="1"/>
<ellipse cx="248.80" cy="95.70" rx="0.6" ry="1.2" fill="#f0a020" opacity="1"/>
</g>
<rect x="253.20" y="77.20" width="50.10" height="31.10" fill="none" stroke="#555" stroke-width="0.9"/>
<text x="275.5" y="118.2" font-size="7.7" text-anchor="middle" fill="#222" >4.78%</text>
<rect x="325.20" y="49.90" width="91.80" height="74.90" fill="#fff" stroke="#000" stroke-width="1.5"/>
<line x1="321.90" y1="53.30" x2="325.20" y2="53.30" stroke="#000" stroke-width="1.2" />
<line x1="323.40" y1="55.72" x2="325.20" y2="55.72" stroke="#000" stroke-width="0.9" />
<line x1="323.40" y1="58.13" x2="325.20" y2="58.13" stroke="#000" stroke-width="0.9" />
<line x1="323.40" y1="60.55" x2="325.20" y2="60.55" stroke="#000" stroke-width="0.9" />
<line x1="323.40" y1="62.97" x2="325.20" y2="62.97" stroke="#000" stroke-width="0.9" />
<line x1="323.40" y1="65.38" x2="325.20" y2="65.38" stroke="#000" stroke-width="0.9" />
<line x1="321.90" y1="67.80" x2="325.20" y2="67.80" stroke="#000" stroke-width="1.2" />
<line x1="323.40" y1="70.22" x2="325.20" y2="70.22" stroke="#000" stroke-width="0.9" />
<line x1="323.40" y1="72.63" x2="325.20" y2="72.63" stroke="#000" stroke-width="0.9" />
<line x1="323.40" y1="75.05" x2="325.20" y2="75.05" stroke="#000" stroke-width="0.9" />
<line x1="323.40" y1="77.47" x2="325.20" y2="77.47" stroke="#000" stroke-width="0.9" />
<line x1="323.40" y1="79.88" x2="325.20" y2="79.88" stroke="#000" stroke-width="0.9" />
<line x1="321.90" y1="82.30" x2="325.20" y2="82.30" stroke="#000" stroke-width="1.2" />
<line x1="323.40" y1="84.72" x2="325.20" y2="84.72" stroke="#000" stroke-width="0.9" />
<line x1="323.40" y1="87.13" x2="325.20" y2="87.13" stroke="#000" stroke-width="0.9" />
<line x1="323.40" y1="89.55" x2="325.20" y2="89.55" stroke="#000" stroke-width="0.9" />
<line x1="323.40" y1="91.97" x2="325.20" y2="91.97" stroke="#000" stroke-width="0.9" />
<line x1="323.40" y1="94.38" x2="325.20" y2="94.38" stroke="#000" stroke-width="0.9" />
<line x1="321.90" y1="96.80" x2="325.20" y2="96.80" stroke="#000" stroke-width="1.2" />
<line x1="323.40" y1="99.22" x2="325.20" y2="99.22" stroke="#000" stroke-width="0.9" />
<line x1="323.40" y1="101.63" x2="325.20" y2="101.63" stroke="#000" stroke-width="0.9" />
<line x1="323.40" y1="104.05" x2="325.20" y2="104.05" stroke="#000" stroke-width="0.9" />
<line x1="323.40" y1="106.47" x2="325.20" y2="106.47" stroke="#000" stroke-width="0.9" />
<line x1="323.40" y1="108.88" x2="325.20" y2="108.88" stroke="#000" stroke-width="0.9" />
<line x1="321.90" y1="111.30" x2="325.20" y2="111.30" stroke="#000" stroke-width="1.2" />
<line x1="323.40" y1="113.72" x2="325.20" y2="113.72" stroke="#000" stroke-width="0.9" />
<line x1="323.40" y1="116.13" x2="325.20" y2="116.13" stroke="#000" stroke-width="0.9" />
<line x1="323.40" y1="118.55" x2="325.20" y2="118.55" stroke="#000" stroke-width="0.9" />
<line x1="323.40" y1="120.97" x2="325.20" y2="120.97" stroke="#000" stroke-width="0.9" />
<line x1="323.40" y1="123.38" x2="325.20" y2="123.38" stroke="#000" stroke-width="0.9" />
<line x1="322.90" y1="124.80" x2="417.00" y2="124.80" stroke="#000" stroke-width="1.5" />
<line x1="329.82" y1="124.80" x2="329.82" y2="128.20" stroke="#000" stroke-width="1.2" />
<line x1="345.79" y1="124.80" x2="345.79" y2="128.20" stroke="#000" stroke-width="1.2" />
<line x1="361.66" y1="124.80" x2="361.66" y2="128.20" stroke="#000" stroke-width="1.2" />
<line x1="387.47" y1="124.80" x2="387.47" y2="128.20" stroke="#000" stroke-width="1.2" />
<line x1="407.56" y1="124.80" x2="407.56" y2="128.20" stroke="#000" stroke-width="1.2" />
<line x1="333.01" y1="124.80" x2="333.01" y2="126.80" stroke="#000" stroke-width="0.9" />
<line x1="336.21" y1="124.80" x2="336.21" y2="126.80" stroke="#000" stroke-width="0.9" />
<line x1="339.40" y1="124.80" x2="339.40" y2="126.80" stroke="#000" stroke-width="0.9" />
<line x1="342.60" y1="124.80" x2="342.60" y2="126.80" stroke="#000" stroke-width="0.9" />
<line x1="348.96" y1="124.80" x2="348.96" y2="126.80" stroke="#000" stroke-width="0.9" />
<line x1="352.14" y1="124.80" x2="352.14" y2="126.80" stroke="#000" stroke-width="0.9" />
<line x1="355.31" y1="124.80" x2="355.31" y2="126.80" stroke="#000" stroke-width="0.9" />
<line x1="358.49" y1="124.80" x2="358.49" y2="126.80" stroke="#000" stroke-width="0.9" />
<line x1="369.43" y1="124.80" x2="369.43" y2="126.80" stroke="#000" stroke-width="0.9" />
<line x1="373.97" y1="124.80" x2="373.97" y2="126.80" stroke="#000" stroke-width="0.9" />
<line x1="377.20" y1="124.80" x2="377.20" y2="126.80" stroke="#000" stroke-width="0.9" />
<line x1="379.70" y1="124.80" x2="379.70" y2="126.80" stroke="#000" stroke-width="0.9" />
<line x1="381.74" y1="124.80" x2="381.74" y2="126.80" stroke="#000" stroke-width="0.9" />
<line x1="383.47" y1="124.80" x2="383.47" y2="126.80" stroke="#000" stroke-width="0.9" />
<line x1="384.97" y1="124.80" x2="384.97" y2="126.80" stroke="#000" stroke-width="0.9" />
<line x1="386.29" y1="124.80" x2="386.29" y2="126.80" stroke="#000" stroke-width="0.9" />
<line x1="393.52" y1="124.80" x2="393.52" y2="126.80" stroke="#000" stroke-width="0.9" />
<line x1="397.06" y1="124.80" x2="397.06" y2="126.80" stroke="#000" stroke-width="0.9" />
<line x1="399.57" y1="124.80" x2="399.57" y2="126.80" stroke="#000" stroke-width="0.9" />
<line x1="401.51" y1="124.80" x2="401.51" y2="126.80" stroke="#000" stroke-width="0.9" />
<line x1="403.10" y1="124.80" x2="403.10" y2="126.80" stroke="#000" stroke-width="0.9" />
<line x1="404.45" y1="124.80" x2="404.45" y2="126.80" stroke="#000" stroke-width="0.9" />
<line x1="405.61" y1="124.80" x2="405.61" y2="126.80" stroke="#000" stroke-width="0.9" />
<line x1="406.64" y1="124.80" x2="406.64" y2="126.80" stroke="#000" stroke-width="0.9" />
<line x1="344.70" y1="126.30" x2="347.20" y2="126.30" stroke="#000" stroke-width="2.2" />
<text x="329.42" y="138.9" font-size="8.2" text-anchor="middle" fill="#333">&#8722;10<tspan font-size="6.4" dy="-3.1">3</tspan></text>
<text x="345.79" y="138.9" font-size="8.2" text-anchor="middle" fill="#333" >0</text>
<text x="361.96" y="138.9" font-size="8.2" text-anchor="middle" fill="#333">10<tspan font-size="6.4" dy="-3.1">3</tspan></text>
<text x="387.17" y="138.9" font-size="8.2" text-anchor="middle" fill="#333">10<tspan font-size="6.4" dy="-3.1">4</tspan></text>
<text x="407.36" y="138.9" font-size="8.2" text-anchor="middle" fill="#333">10<tspan font-size="6.4" dy="-3.1">5</tspan></text>
<rect x="351.1" y="86.2" width="0.9" height="0.9" fill="#8c9bd8" opacity="0.6"/>
<rect x="347.2" y="92.9" width="0.9" height="0.9" fill="#8c9bd8" opacity="0.6"/>
<rect x="348.1" y="76.6" width="0.9" height="0.9" fill="#8c9bd8" opacity="0.6"/>
<rect x="345.6" y="85.0" width="0.9" height="0.9" fill="#8c9bd8" opacity="0.6"/>
<rect x="344.3" y="83.8" width="0.9" height="0.9" fill="#8c9bd8" opacity="0.6"/>
<rect x="345.4" y="91.1" width="0.9" height="0.9" fill="#8c9bd8" opacity="0.6"/>
<rect x="344.6" y="89.3" width="0.9" height="0.9" fill="#8c9bd8" opacity="0.6"/>
<rect x="345.3" y="53.2" width="0.9" height="0.9" fill="#8c9bd8" opacity="0.6"/>
<rect x="348.8" y="89.7" width="0.9" height="0.9" fill="#8c9bd8" opacity="0.6"/>
<rect x="344.9" y="91.3" width="0.9" height="0.9" fill="#8c9bd8" opacity="0.6"/>
<rect x="346.9" y="94.1" width="0.9" height="0.9" fill="#8c9bd8" opacity="0.6"/>
<rect x="344.7" y="92.3" width="0.9" height="0.9" fill="#8c9bd8" opacity="0.6"/>
<rect x="343.3" y="76.0" width="0.9" height="0.9" fill="#8c9bd8" opacity="0.6"/>
<rect x="343.9" y="92.1" width="0.9" height="0.9" fill="#8c9bd8" opacity="0.6"/>
<rect x="346.4" y="92.0" width="0.9" height="0.9" fill="#8c9bd8" opacity="0.6"/>
<rect x="345.9" y="88.5" width="0.9" height="0.9" fill="#8c9bd8" opacity="0.6"/>
<rect x="339.1" y="91.8" width="0.9" height="0.9" fill="#8c9bd8" opacity="0.6"/>
<rect x="345.8" y="87.5" width="0.9" height="0.9" fill="#8c9bd8" opacity="0.6"/>
<rect x="349.2" y="80.4" width="0.9" height="0.9" fill="#8c9bd8" opacity="0.6"/>
<rect x="346.0" y="66.6" width="0.9" height="0.9" fill="#8c9bd8" opacity="0.6"/>
<rect x="346.7" y="71.9" width="0.9" height="0.9" fill="#8c9bd8" opacity="0.6"/>
<rect x="343.0" y="65.7" width="0.9" height="0.9" fill="#8c9bd8" opacity="0.6"/>
<rect x="347.6" y="93.0" width="0.9" height="0.9" fill="#8c9bd8" opacity="0.6"/>
<rect x="346.5" y="74.2" width="0.9" height="0.9" fill="#8c9bd8" opacity="0.6"/>
<rect x="344.0" y="91.0" width="0.9" height="0.9" fill="#8c9bd8" opacity="0.6"/>
<rect x="341.9" y="92.9" width="0.9" height="0.9" fill="#8c9bd8" opacity="0.6"/>
<rect x="342.6" y="94.7" width="0.9" height="0.9" fill="#8c9bd8" opacity="0.6"/>
<rect x="343.9" y="73.4" width="0.9" height="0.9" fill="#8c9bd8" opacity="0.6"/>
<rect x="348.2" y="86.3" width="0.9" height="0.9" fill="#8c9bd8" opacity="0.6"/>
<rect x="342.3" y="82.7" width="0.9" height="0.9" fill="#8c9bd8" opacity="0.6"/>
<rect x="346.0" y="80.0" width="0.9" height="0.9" fill="#8c9bd8" opacity="0.6"/>
<rect x="346.7" y="83.5" width="0.9" height="0.9" fill="#8c9bd8" opacity="0.6"/>
<rect x="346.0" y="87.4" width="0.9" height="0.9" fill="#8c9bd8" opacity="0.6"/>
<rect x="347.7" y="89.2" width="0.9" height="0.9" fill="#8c9bd8" opacity="0.6"/>
<rect x="347.9" y="88.9" width="0.9" height="0.9" fill="#8c9bd8" opacity="0.6"/>
<rect x="349.4" y="89.4" width="0.9" height="0.9" fill="#8c9bd8" opacity="0.6"/>
<rect x="344.0" y="94.4" width="0.9" height="0.9" fill="#8c9bd8" opacity="0.6"/>
<rect x="344.9" y="80.7" width="0.9" height="0.9" fill="#8c9bd8" opacity="0.6"/>
<rect x="345.9" y="86.6" width="0.9" height="0.9" fill="#8c9bd8" opacity="0.6"/>
<rect x="341.7" y="92.5" width="0.9" height="0.9" fill="#8c9bd8" opacity="0.6"/>
<rect x="345.8" y="91.2" width="0.9" height="0.9" fill="#8c9bd8" opacity="0.6"/>
<rect x="347.8" y="75.9" width="0.9" height="0.9" fill="#8c9bd8" opacity="0.6"/>
<rect x="347.5" y="90.2" width="0.9" height="0.9" fill="#8c9bd8" opacity="0.6"/>
<rect x="346.4" y="90.3" width="0.9" height="0.9" fill="#8c9bd8" opacity="0.6"/>
<rect x="345.5" y="86.3" width="0.9" height="0.9" fill="#8c9bd8" opacity="0.6"/>
<rect x="347.0" y="68.5" width="0.9" height="0.9" fill="#8c9bd8" opacity="0.6"/>
<rect x="348.3" y="85.0" width="0.9" height="0.9" fill="#8c9bd8" opacity="0.6"/>
<rect x="347.3" y="87.1" width="0.9" height="0.9" fill="#8c9bd8" opacity="0.6"/>
<rect x="347.4" y="68.8" width="0.9" height="0.9" fill="#8c9bd8" opacity="0.6"/>
<rect x="343.6" y="85.2" width="0.9" height="0.9" fill="#8c9bd8" opacity="0.6"/>
<rect x="348.3" y="92.3" width="0.9" height="0.9" fill="#8c9bd8" opacity="0.6"/>
<rect x="347.8" y="77.7" width="0.9" height="0.9" fill="#8c9bd8" opacity="0.6"/>
<rect x="350.7" y="78.7" width="0.9" height="0.9" fill="#8c9bd8" opacity="0.6"/>
<rect x="349.6" y="91.5" width="0.9" height="0.9" fill="#8c9bd8" opacity="0.6"/>
<rect x="347.9" y="93.5" width="0.9" height="0.9" fill="#8c9bd8" opacity="0.6"/>
<rect x="346.9" y="87.8" width="0.9" height="0.9" fill="#8c9bd8" opacity="0.6"/>
<rect x="347.6" y="76.6" width="0.9" height="0.9" fill="#8c9bd8" opacity="0.6"/>
<rect x="346.0" y="92.3" width="0.9" height="0.9" fill="#8c9bd8" opacity="0.6"/>
<rect x="347.5" y="94.3" width="0.9" height="0.9" fill="#8c9bd8" opacity="0.6"/>
<rect x="348.2" y="92.1" width="0.9" height="0.9" fill="#8c9bd8" opacity="0.6"/>
<rect x="343.9" y="80.6" width="0.9" height="0.9" fill="#8c9bd8" opacity="0.6"/>
<rect x="347.8" y="87.1" width="0.9" height="0.9" fill="#8c9bd8" opacity="0.6"/>
<rect x="348.5" y="92.1" width="0.9" height="0.9" fill="#8c9bd8" opacity="0.6"/>
<rect x="346.7" y="73.6" width="0.9" height="0.9" fill="#8c9bd8" opacity="0.6"/>
<rect x="349.1" y="82.2" width="0.9" height="0.9" fill="#8c9bd8" opacity="0.6"/>
<rect x="348.4" y="79.3" width="0.9" height="0.9" fill="#8c9bd8" opacity="0.6"/>
<rect x="345.0" y="93.2" width="0.9" height="0.9" fill="#8c9bd8" opacity="0.6"/>
<rect x="345.5" y="85.2" width="0.9" height="0.9" fill="#8c9bd8" opacity="0.6"/>
<rect x="348.1" y="86.3" width="0.9" height="0.9" fill="#8c9bd8" opacity="0.6"/>
<rect x="347.1" y="90.0" width="0.9" height="0.9" fill="#8c9bd8" opacity="0.6"/>
<rect x="373.5" y="70.6" width="0.9" height="0.9" fill="#b0bce6" opacity="0.6"/>
<rect x="370.6" y="65.6" width="0.9" height="0.9" fill="#b0bce6" opacity="0.6"/>
<rect x="388.9" y="67.9" width="0.9" height="0.9" fill="#b0bce6" opacity="0.6"/>
<rect x="374.4" y="71.1" width="0.9" height="0.9" fill="#b0bce6" opacity="0.6"/>
<rect x="350.1" y="73.9" width="0.9" height="0.9" fill="#b0bce6" opacity="0.6"/>
<rect x="355.2" y="63.8" width="0.9" height="0.9" fill="#b0bce6" opacity="0.6"/>
<rect x="350.8" y="65.9" width="0.9" height="0.9" fill="#b0bce6" opacity="0.6"/>
<rect x="384.9" y="99.7" width="0.9" height="0.9" fill="#7f98e4" opacity="0.6"/>
<rect x="340.5" y="99.4" width="0.9" height="0.9" fill="#7f98e4" opacity="0.6"/>
<rect x="404.5" y="87.3" width="0.9" height="0.9" fill="#7f98e4" opacity="0.6"/>
<rect x="373.3" y="102.3" width="0.9" height="0.9" fill="#7f98e4" opacity="0.6"/>
<rect x="371.9" y="103.7" width="0.9" height="0.9" fill="#7f98e4" opacity="0.6"/>
<rect x="358.0" y="92.1" width="0.9" height="0.9" fill="#7f98e4" opacity="0.6"/>
<rect x="369.9" y="93.5" width="0.9" height="0.9" fill="#7f98e4" opacity="0.6"/>
<rect x="360.1" y="101.0" width="0.9" height="0.9" fill="#7f98e4" opacity="0.6"/>
<rect x="375.0" y="96.7" width="0.9" height="0.9" fill="#7f98e4" opacity="0.6"/>
<rect x="367.5" y="98.8" width="0.9" height="0.9" fill="#7f98e4" opacity="0.6"/>
<rect x="370.7" y="93.5" width="0.9" height="0.9" fill="#7f98e4" opacity="0.6"/>
<rect x="377.6" y="98.3" width="0.9" height="0.9" fill="#7f98e4" opacity="0.6"/>
<rect x="372.9" y="100.4" width="0.9" height="0.9" fill="#7f98e4" opacity="0.6"/>
<rect x="359.8" y="97.5" width="0.9" height="0.9" fill="#7f98e4" opacity="0.6"/>
<rect x="366.2" y="104.2" width="0.9" height="0.9" fill="#7f98e4" opacity="0.6"/>
<rect x="377.6" y="107.0" width="0.9" height="0.9" fill="#7f98e4" opacity="0.6"/>
<rect x="389.3" y="93.4" width="0.9" height="0.9" fill="#7f98e4" opacity="0.6"/>
<rect x="360.0" y="100.6" width="0.9" height="0.9" fill="#7f98e4" opacity="0.6"/>
<rect x="368.9" y="96.5" width="0.9" height="0.9" fill="#7f98e4" opacity="0.6"/>
<rect x="360.3" y="101.2" width="0.9" height="0.9" fill="#7f98e4" opacity="0.6"/>
<rect x="374.0" y="98.8" width="0.9" height="0.9" fill="#7f98e4" opacity="0.6"/>
<rect x="375.4" y="92.1" width="0.9" height="0.9" fill="#7f98e4" opacity="0.6"/>
<rect x="347.4" y="98.1" width="0.9" height="0.9" fill="#7f98e4" opacity="0.6"/>
<rect x="365.0" y="95.1" width="0.9" height="0.9" fill="#7f98e4" opacity="0.6"/>
<rect x="382.6" y="95.4" width="0.9" height="0.9" fill="#7f98e4" opacity="0.6"/>
<rect x="388.6" y="96.2" width="0.9" height="0.9" fill="#7f98e4" opacity="0.6"/>
<rect x="379.6" y="98.8" width="0.9" height="0.9" fill="#7f98e4" opacity="0.6"/>
<rect x="380.9" y="89.8" width="0.9" height="0.9" fill="#7f98e4" opacity="0.6"/>
<rect x="384.0" y="96.3" width="0.9" height="0.9" fill="#7f98e4" opacity="0.6"/>
<rect x="361.3" y="101.1" width="0.9" height="0.9" fill="#7f98e4" opacity="0.6"/>
<rect x="375.8" y="103.1" width="0.9" height="0.9" fill="#7f98e4" opacity="0.6"/>
<rect x="380.0" y="98.0" width="0.9" height="0.9" fill="#7f98e4" opacity="0.6"/>
<rect x="354.0" y="107.2" width="0.9" height="0.9" fill="#7f98e4" opacity="0.6"/>
<rect x="388.4" y="99.2" width="0.9" height="0.9" fill="#7f98e4" opacity="0.6"/>
<rect x="377.1" y="102.6" width="0.9" height="0.9" fill="#7f98e4" opacity="0.6"/>
<rect x="362.5" y="101.5" width="0.9" height="0.9" fill="#7f98e4" opacity="0.6"/>
<rect x="372.2" y="92.0" width="0.9" height="0.9" fill="#7f98e4" opacity="0.6"/>
<rect x="376.0" y="98.4" width="0.9" height="0.9" fill="#7f98e4" opacity="0.6"/>
<rect x="390.7" y="99.8" width="0.9" height="0.9" fill="#7f98e4" opacity="0.6"/>
<rect x="354.4" y="89.0" width="0.9" height="0.9" fill="#7f98e4" opacity="0.6"/>
<rect x="371.1" y="96.0" width="0.9" height="0.9" fill="#7f98e4" opacity="0.6"/>
<rect x="361.7" y="90.7" width="0.9" height="0.9" fill="#7f98e4" opacity="0.6"/>
<rect x="369.9" y="91.4" width="0.9" height="0.9" fill="#7f98e4" opacity="0.6"/>
<rect x="364.4" y="102.1" width="0.9" height="0.9" fill="#7f98e4" opacity="0.6"/>
<rect x="374.6" y="93.0" width="0.9" height="0.9" fill="#7f98e4" opacity="0.6"/>
<rect x="359.6" y="97.3" width="0.9" height="0.9" fill="#7f98e4" opacity="0.6"/>
<rect x="391.1" y="92.6" width="0.9" height="0.9" fill="#7f98e4" opacity="0.6"/>
<rect x="391.0" y="91.2" width="0.9" height="0.9" fill="#7f98e4" opacity="0.6"/>
<rect x="369.7" y="100.7" width="0.9" height="0.9" fill="#7f98e4" opacity="0.6"/>
<rect x="363.5" y="98.1" width="0.9" height="0.9" fill="#7f98e4" opacity="0.6"/>
<rect x="357.1" y="101.8" width="0.9" height="0.9" fill="#7f98e4" opacity="0.6"/>
<rect x="384.7" y="92.5" width="0.9" height="0.9" fill="#7f98e4" opacity="0.6"/>
<rect x="374.0" y="94.8" width="0.9" height="0.9" fill="#7f98e4" opacity="0.6"/>
<rect x="348.3" y="113.1" width="0.9" height="0.9" fill="#7f98e4" opacity="0.6"/>
<rect x="378.9" y="100.4" width="0.9" height="0.9" fill="#7f98e4" opacity="0.6"/>
<rect x="376.3" y="97.4" width="0.9" height="0.9" fill="#7f98e4" opacity="0.6"/>
<rect x="398.1" y="85.3" width="0.9" height="0.9" fill="#7f98e4" opacity="0.6"/>
<rect x="368.6" y="95.2" width="0.9" height="0.9" fill="#7f98e4" opacity="0.6"/>
<rect x="369.7" y="100.7" width="0.9" height="0.9" fill="#7f98e4" opacity="0.6"/>
<rect x="364.1" y="91.2" width="0.9" height="0.9" fill="#7f98e4" opacity="0.6"/>
<rect x="359.6" y="100.5" width="0.9" height="0.9" fill="#7f98e4" opacity="0.6"/>
<rect x="382.5" y="100.0" width="0.9" height="0.9" fill="#7f98e4" opacity="0.6"/>
<rect x="389.6" y="92.6" width="0.9" height="0.9" fill="#7f98e4" opacity="0.6"/>
<rect x="382.9" y="99.3" width="0.9" height="0.9" fill="#7f98e4" opacity="0.6"/>
<rect x="370.2" y="93.4" width="0.9" height="0.9" fill="#7f98e4" opacity="0.6"/>
<rect x="381.7" y="92.6" width="0.9" height="0.9" fill="#7f98e4" opacity="0.6"/>
<rect x="368.8" y="92.5" width="0.9" height="0.9" fill="#7f98e4" opacity="0.6"/>
<rect x="391.2" y="94.8" width="0.9" height="0.9" fill="#7f98e4" opacity="0.6"/>
<rect x="366.5" y="96.3" width="0.9" height="0.9" fill="#7f98e4" opacity="0.6"/>
<rect x="369.5" y="97.7" width="0.9" height="0.9" fill="#7f98e4" opacity="0.6"/>
<rect x="353.2" y="93.1" width="0.9" height="0.9" fill="#7f98e4" opacity="0.6"/>
<rect x="377.6" y="101.9" width="0.9" height="0.9" fill="#7f98e4" opacity="0.6"/>
<rect x="360.9" y="98.7" width="0.9" height="0.9" fill="#7f98e4" opacity="0.6"/>
<rect x="365.6" y="86.2" width="0.9" height="0.9" fill="#7f98e4" opacity="0.6"/>
<rect x="368.6" y="91.9" width="0.9" height="0.9" fill="#7f98e4" opacity="0.6"/>
<rect x="381.6" y="95.0" width="0.9" height="0.9" fill="#7f98e4" opacity="0.6"/>
<rect x="371.6" y="89.7" width="0.9" height="0.9" fill="#7f98e4" opacity="0.6"/>
<rect x="373.6" y="87.1" width="0.9" height="0.9" fill="#7f98e4" opacity="0.6"/>
<rect x="374.4" y="103.6" width="0.9" height="0.9" fill="#7f98e4" opacity="0.6"/>
<rect x="358.6" y="102.6" width="0.9" height="0.9" fill="#7f98e4" opacity="0.6"/>
<rect x="387.5" y="94.4" width="0.9" height="0.9" fill="#7f98e4" opacity="0.6"/>
<rect x="384.3" y="96.2" width="0.9" height="0.9" fill="#7f98e4" opacity="0.6"/>
<rect x="366.5" y="87.5" width="0.9" height="0.9" fill="#7f98e4" opacity="0.6"/>
<rect x="360.1" y="90.7" width="0.9" height="0.9" fill="#7f98e4" opacity="0.6"/>
<rect x="398.2" y="95.7" width="0.9" height="0.9" fill="#7f98e4" opacity="0.6"/>
<rect x="370.1" y="90.4" width="0.9" height="0.9" fill="#7f98e4" opacity="0.6"/>
<rect x="390.9" y="89.3" width="0.9" height="0.9" fill="#7f98e4" opacity="0.6"/>
<rect x="388.3" y="100.8" width="0.9" height="0.9" fill="#7f98e4" opacity="0.6"/>
<rect x="372.8" y="93.6" width="0.9" height="0.9" fill="#7f98e4" opacity="0.6"/>
<rect x="371.5" y="90.4" width="0.9" height="0.9" fill="#7f98e4" opacity="0.6"/>
<rect x="379.1" y="104.7" width="0.9" height="0.9" fill="#7f98e4" opacity="0.6"/>
<rect x="381.8" y="101.3" width="0.9" height="0.9" fill="#7f98e4" opacity="0.6"/>
<rect x="364.3" y="99.3" width="0.9" height="0.9" fill="#7f98e4" opacity="0.6"/>
<rect x="360.7" y="95.9" width="0.9" height="0.9" fill="#7f98e4" opacity="0.6"/>
<rect x="380.0" y="108.7" width="0.9" height="0.9" fill="#7f98e4" opacity="0.6"/>
<rect x="372.8" y="97.1" width="0.9" height="0.9" fill="#7f98e4" opacity="0.6"/>
<rect x="351.1" y="100.0" width="0.9" height="0.9" fill="#7f98e4" opacity="0.6"/>
<rect x="362.0" y="91.0" width="0.9" height="0.9" fill="#7f98e4" opacity="0.6"/>
<rect x="355.6" y="99.3" width="0.9" height="0.9" fill="#7f98e4" opacity="0.6"/>
<rect x="367.6" y="100.8" width="0.9" height="0.9" fill="#7f98e4" opacity="0.6"/>
<rect x="369.4" y="97.2" width="0.9" height="0.9" fill="#7f98e4" opacity="0.6"/>
<rect x="388.2" y="99.4" width="0.9" height="0.9" fill="#7f98e4" opacity="0.6"/>
<rect x="380.5" y="103.5" width="0.9" height="0.9" fill="#7f98e4" opacity="0.6"/>
<rect x="374.4" y="91.8" width="0.9" height="0.9" fill="#7f98e4" opacity="0.6"/>
<rect x="363.2" y="90.0" width="0.9" height="0.9" fill="#7f98e4" opacity="0.6"/>
<rect x="375.9" y="94.6" width="0.9" height="0.9" fill="#7f98e4" opacity="0.6"/>
<rect x="377.6" y="100.6" width="0.9" height="0.9" fill="#7f98e4" opacity="0.6"/>
<rect x="363.0" y="98.8" width="0.9" height="0.9" fill="#7f98e4" opacity="0.6"/>
<rect x="386.0" y="96.0" width="0.9" height="0.9" fill="#7f98e4" opacity="0.6"/>
<rect x="382.3" y="95.0" width="0.9" height="0.9" fill="#7f98e4" opacity="0.6"/>
<rect x="361.5" y="96.9" width="0.9" height="0.9" fill="#7f98e4" opacity="0.6"/>
<rect x="351.2" y="102.6" width="0.9" height="0.9" fill="#7f98e4" opacity="0.6"/>
<rect x="366.3" y="104.3" width="0.9" height="0.9" fill="#7f98e4" opacity="0.6"/>
<rect x="358.4" y="99.0" width="0.9" height="0.9" fill="#7f98e4" opacity="0.6"/>
<rect x="375.8" y="95.6" width="0.9" height="0.9" fill="#7f98e4" opacity="0.6"/>
<rect x="376.2" y="92.8" width="0.9" height="0.9" fill="#7f98e4" opacity="0.6"/>
<rect x="360.1" y="91.1" width="0.9" height="0.9" fill="#7f98e4" opacity="0.6"/>
<rect x="365.7" y="93.5" width="0.9" height="0.9" fill="#7f98e4" opacity="0.6"/>
<rect x="374.6" y="94.9" width="0.9" height="0.9" fill="#7f98e4" opacity="0.6"/>
<rect x="364.7" y="94.0" width="0.9" height="0.9" fill="#7f98e4" opacity="0.6"/>
<rect x="350.9" y="97.3" width="0.9" height="0.9" fill="#7f98e4" opacity="0.6"/>
<rect x="376.6" y="89.8" width="0.9" height="0.9" fill="#7f98e4" opacity="0.6"/>
<rect x="369.1" y="100.7" width="0.9" height="0.9" fill="#7f98e4" opacity="0.6"/>
<rect x="364.3" y="98.7" width="0.9" height="0.9" fill="#7f98e4" opacity="0.6"/>
<rect x="367.2" y="109.9" width="0.9" height="0.9" fill="#7f98e4" opacity="0.6"/>
<rect x="387.5" y="101.4" width="0.9" height="0.9" fill="#7f98e4" opacity="0.6"/>
<rect x="364.4" y="101.0" width="0.9" height="0.9" fill="#7f98e4" opacity="0.6"/>
<rect x="370.2" y="99.0" width="0.9" height="0.9" fill="#7f98e4" opacity="0.6"/>
<rect x="365.6" y="98.4" width="0.9" height="0.9" fill="#7f98e4" opacity="0.6"/>
<rect x="363.5" y="99.3" width="0.9" height="0.9" fill="#7f98e4" opacity="0.6"/>
<rect x="391.6" y="88.1" width="0.9" height="0.9" fill="#7f98e4" opacity="0.6"/>
<rect x="357.3" y="101.0" width="0.9" height="0.9" fill="#7f98e4" opacity="0.6"/>
<rect x="380.8" y="94.2" width="0.9" height="0.9" fill="#7f98e4" opacity="0.6"/>
<rect x="378.6" y="98.5" width="0.9" height="0.9" fill="#7f98e4" opacity="0.6"/>
<rect x="378.1" y="103.4" width="0.9" height="0.9" fill="#7f98e4" opacity="0.6"/>
<rect x="364.8" y="101.1" width="0.9" height="0.9" fill="#7f98e4" opacity="0.6"/>
<rect x="374.2" y="93.3" width="0.9" height="0.9" fill="#7f98e4" opacity="0.6"/>
<rect x="377.6" y="89.8" width="0.9" height="0.9" fill="#7f98e4" opacity="0.6"/>
<rect x="355.4" y="104.1" width="0.9" height="0.9" fill="#7f98e4" opacity="0.6"/>
<rect x="359.6" y="106.8" width="0.9" height="0.9" fill="#7f98e4" opacity="0.6"/>
<rect x="383.6" y="93.2" width="0.9" height="0.9" fill="#7f98e4" opacity="0.6"/>
<rect x="362.1" y="86.7" width="0.9" height="0.9" fill="#7f98e4" opacity="0.6"/>
<rect x="371.1" y="88.8" width="0.9" height="0.9" fill="#7f98e4" opacity="0.6"/>
<rect x="389.6" y="86.7" width="0.9" height="0.9" fill="#7f98e4" opacity="0.6"/>
<rect x="372.7" y="83.0" width="0.9" height="0.9" fill="#7f98e4" opacity="0.6"/>
<rect x="368.0" y="104.1" width="0.9" height="0.9" fill="#7f98e4" opacity="0.6"/>
<rect x="367.0" y="93.3" width="0.9" height="0.9" fill="#7f98e4" opacity="0.6"/>
<rect x="366.6" y="99.4" width="0.9" height="0.9" fill="#7f98e4" opacity="0.6"/>
<rect x="381.9" y="94.8" width="0.9" height="0.9" fill="#7f98e4" opacity="0.6"/>
<rect x="349.0" y="100.9" width="0.9" height="0.9" fill="#7f98e4" opacity="0.6"/>
<g filter="url(#bl05)">
<ellipse cx="346.40" cy="92.80" rx="3.3" ry="13" fill="#5a80ea" opacity="0.75"/>
<ellipse cx="346.40" cy="94.30" rx="3.0" ry="10.5" fill="#3a94f0" opacity="1"/>
<ellipse cx="346.40" cy="95.10" rx="2.6" ry="8" fill="#20bce8" opacity="1"/>
<ellipse cx="346.40" cy="95.50" rx="2.1" ry="5.6" fill="#38d8b0" opacity="1"/>
<ellipse cx="346.40" cy="95.70" rx="1.6" ry="3.8" fill="#80e060" opacity="1"/>
<ellipse cx="346.40" cy="95.70" rx="1.1" ry="2.4" fill="#e0e830" opacity="1"/>
<ellipse cx="346.40" cy="95.70" rx="0.6" ry="1.2" fill="#f0a020" opacity="1"/>
</g>
<rect x="350.30" y="76.70" width="50.30" height="31.90" fill="none" stroke="#555" stroke-width="0.9"/>
<text x="374.2" y="118.2" font-size="7.7" text-anchor="middle" fill="#222" >4.83%</text>
<rect x="421.20" y="49.90" width="90.30" height="74.90" fill="#fff" stroke="#000" stroke-width="1.5"/>
<line x1="417.90" y1="53.30" x2="421.20" y2="53.30" stroke="#000" stroke-width="1.2" />
<line x1="419.40" y1="55.72" x2="421.20" y2="55.72" stroke="#000" stroke-width="0.9" />
<line x1="419.40" y1="58.13" x2="421.20" y2="58.13" stroke="#000" stroke-width="0.9" />
<line x1="419.40" y1="60.55" x2="421.20" y2="60.55" stroke="#000" stroke-width="0.9" />
<line x1="419.40" y1="62.97" x2="421.20" y2="62.97" stroke="#000" stroke-width="0.9" />
<line x1="419.40" y1="65.38" x2="421.20" y2="65.38" stroke="#000" stroke-width="0.9" />
<line x1="417.90" y1="67.80" x2="421.20" y2="67.80" stroke="#000" stroke-width="1.2" />
<line x1="419.40" y1="70.22" x2="421.20" y2="70.22" stroke="#000" stroke-width="0.9" />
<line x1="419.40" y1="72.63" x2="421.20" y2="72.63" stroke="#000" stroke-width="0.9" />
<line x1="419.40" y1="75.05" x2="421.20" y2="75.05" stroke="#000" stroke-width="0.9" />
<line x1="419.40" y1="77.47" x2="421.20" y2="77.47" stroke="#000" stroke-width="0.9" />
<line x1="419.40" y1="79.88" x2="421.20" y2="79.88" stroke="#000" stroke-width="0.9" />
<line x1="417.90" y1="82.30" x2="421.20" y2="82.30" stroke="#000" stroke-width="1.2" />
<line x1="419.40" y1="84.72" x2="421.20" y2="84.72" stroke="#000" stroke-width="0.9" />
<line x1="419.40" y1="87.13" x2="421.20" y2="87.13" stroke="#000" stroke-width="0.9" />
<line x1="419.40" y1="89.55" x2="421.20" y2="89.55" stroke="#000" stroke-width="0.9" />
<line x1="419.40" y1="91.97" x2="421.20" y2="91.97" stroke="#000" stroke-width="0.9" />
<line x1="419.40" y1="94.38" x2="421.20" y2="94.38" stroke="#000" stroke-width="0.9" />
<line x1="417.90" y1="96.80" x2="421.20" y2="96.80" stroke="#000" stroke-width="1.2" />
<line x1="419.40" y1="99.22" x2="421.20" y2="99.22" stroke="#000" stroke-width="0.9" />
<line x1="419.40" y1="101.63" x2="421.20" y2="101.63" stroke="#000" stroke-width="0.9" />
<line x1="419.40" y1="104.05" x2="421.20" y2="104.05" stroke="#000" stroke-width="0.9" />
<line x1="419.40" y1="106.47" x2="421.20" y2="106.47" stroke="#000" stroke-width="0.9" />
<line x1="419.40" y1="108.88" x2="421.20" y2="108.88" stroke="#000" stroke-width="0.9" />
<line x1="417.90" y1="111.30" x2="421.20" y2="111.30" stroke="#000" stroke-width="1.2" />
<line x1="419.40" y1="113.72" x2="421.20" y2="113.72" stroke="#000" stroke-width="0.9" />
<line x1="419.40" y1="116.13" x2="421.20" y2="116.13" stroke="#000" stroke-width="0.9" />
<line x1="419.40" y1="118.55" x2="421.20" y2="118.55" stroke="#000" stroke-width="0.9" />
<line x1="419.40" y1="120.97" x2="421.20" y2="120.97" stroke="#000" stroke-width="0.9" />
<line x1="419.40" y1="123.38" x2="421.20" y2="123.38" stroke="#000" stroke-width="0.9" />
<line x1="418.90" y1="124.80" x2="511.50" y2="124.80" stroke="#000" stroke-width="1.5" />
<line x1="425.74" y1="124.80" x2="425.74" y2="128.20" stroke="#000" stroke-width="1.2" />
<line x1="441.45" y1="124.80" x2="441.45" y2="128.20" stroke="#000" stroke-width="1.2" />
<line x1="457.06" y1="124.80" x2="457.06" y2="128.20" stroke="#000" stroke-width="1.2" />
<line x1="482.45" y1="124.80" x2="482.45" y2="128.20" stroke="#000" stroke-width="1.2" />
<line x1="502.21" y1="124.80" x2="502.21" y2="128.20" stroke="#000" stroke-width="1.2" />
<line x1="428.89" y1="124.80" x2="428.89" y2="126.80" stroke="#000" stroke-width="0.9" />
<line x1="432.03" y1="124.80" x2="432.03" y2="126.80" stroke="#000" stroke-width="0.9" />
<line x1="435.17" y1="124.80" x2="435.17" y2="126.80" stroke="#000" stroke-width="0.9" />
<line x1="438.31" y1="124.80" x2="438.31" y2="126.80" stroke="#000" stroke-width="0.9" />
<line x1="444.58" y1="124.80" x2="444.58" y2="126.80" stroke="#000" stroke-width="0.9" />
<line x1="447.70" y1="124.80" x2="447.70" y2="126.80" stroke="#000" stroke-width="0.9" />
<line x1="450.82" y1="124.80" x2="450.82" y2="126.80" stroke="#000" stroke-width="0.9" />
<line x1="453.94" y1="124.80" x2="453.94" y2="126.80" stroke="#000" stroke-width="0.9" />
<line x1="464.71" y1="124.80" x2="464.71" y2="126.80" stroke="#000" stroke-width="0.9" />
<line x1="469.18" y1="124.80" x2="469.18" y2="126.80" stroke="#000" stroke-width="0.9" />
<line x1="472.35" y1="124.80" x2="472.35" y2="126.80" stroke="#000" stroke-width="0.9" />
<line x1="474.81" y1="124.80" x2="474.81" y2="126.80" stroke="#000" stroke-width="0.9" />
<line x1="476.82" y1="124.80" x2="476.82" y2="126.80" stroke="#000" stroke-width="0.9" />
<line x1="478.52" y1="124.80" x2="478.52" y2="126.80" stroke="#000" stroke-width="0.9" />
<line x1="479.99" y1="124.80" x2="479.99" y2="126.80" stroke="#000" stroke-width="0.9" />
<line x1="481.29" y1="124.80" x2="481.29" y2="126.80" stroke="#000" stroke-width="0.9" />
<line x1="488.40" y1="124.80" x2="488.40" y2="126.80" stroke="#000" stroke-width="0.9" />
<line x1="491.88" y1="124.80" x2="491.88" y2="126.80" stroke="#000" stroke-width="0.9" />
<line x1="494.35" y1="124.80" x2="494.35" y2="126.80" stroke="#000" stroke-width="0.9" />
<line x1="496.26" y1="124.80" x2="496.26" y2="126.80" stroke="#000" stroke-width="0.9" />
<line x1="497.83" y1="124.80" x2="497.83" y2="126.80" stroke="#000" stroke-width="0.9" />
<line x1="499.15" y1="124.80" x2="499.15" y2="126.80" stroke="#000" stroke-width="0.9" />
<line x1="500.30" y1="124.80" x2="500.30" y2="126.80" stroke="#000" stroke-width="0.9" />
<line x1="501.31" y1="124.80" x2="501.31" y2="126.80" stroke="#000" stroke-width="0.9" />
<line x1="440.70" y1="126.30" x2="443.20" y2="126.30" stroke="#000" stroke-width="2.2" />
<text x="425.35" y="138.9" font-size="8.2" text-anchor="middle" fill="#333">&#8722;10<tspan font-size="6.4" dy="-3.1">3</tspan></text>
<text x="441.45" y="138.9" font-size="8.2" text-anchor="middle" fill="#333" >0</text>
<text x="457.36" y="138.9" font-size="8.2" text-anchor="middle" fill="#333">10<tspan font-size="6.4" dy="-3.1">3</tspan></text>
<text x="482.16" y="138.9" font-size="8.2" text-anchor="middle" fill="#333">10<tspan font-size="6.4" dy="-3.1">4</tspan></text>
<text x="502.02" y="138.9" font-size="8.2" text-anchor="middle" fill="#333">10<tspan font-size="6.4" dy="-3.1">5</tspan></text>
<rect x="442.6" y="78.5" width="0.9" height="0.9" fill="#8c9bd8" opacity="0.6"/>
<rect x="440.5" y="81.9" width="0.9" height="0.9" fill="#8c9bd8" opacity="0.6"/>
<rect x="441.9" y="91.4" width="0.9" height="0.9" fill="#8c9bd8" opacity="0.6"/>
<rect x="446.2" y="92.8" width="0.9" height="0.9" fill="#8c9bd8" opacity="0.6"/>
<rect x="442.3" y="85.3" width="0.9" height="0.9" fill="#8c9bd8" opacity="0.6"/>
<rect x="444.7" y="94.4" width="0.9" height="0.9" fill="#8c9bd8" opacity="0.6"/>
<rect x="443.6" y="82.1" width="0.9" height="0.9" fill="#8c9bd8" opacity="0.6"/>
<rect x="441.7" y="89.1" width="0.9" height="0.9" fill="#8c9bd8" opacity="0.6"/>
<rect x="439.7" y="75.2" width="0.9" height="0.9" fill="#8c9bd8" opacity="0.6"/>
<rect x="439.1" y="91.7" width="0.9" height="0.9" fill="#8c9bd8" opacity="0.6"/>
<rect x="442.1" y="90.6" width="0.9" height="0.9" fill="#8c9bd8" opacity="0.6"/>
<rect x="442.5" y="77.4" width="0.9" height="0.9" fill="#8c9bd8" opacity="0.6"/>
<rect x="442.2" y="91.7" width="0.9" height="0.9" fill="#8c9bd8" opacity="0.6"/>
<rect x="443.9" y="83.8" width="0.9" height="0.9" fill="#8c9bd8" opacity="0.6"/>
<rect x="441.6" y="68.6" width="0.9" height="0.9" fill="#8c9bd8" opacity="0.6"/>
<rect x="441.4" y="66.2" width="0.9" height="0.9" fill="#8c9bd8" opacity="0.6"/>
<rect x="439.6" y="80.5" width="0.9" height="0.9" fill="#8c9bd8" opacity="0.6"/>
<rect x="438.0" y="84.4" width="0.9" height="0.9" fill="#8c9bd8" opacity="0.6"/>
<rect x="443.1" y="90.7" width="0.9" height="0.9" fill="#8c9bd8" opacity="0.6"/>
<rect x="443.3" y="87.9" width="0.9" height="0.9" fill="#8c9bd8" opacity="0.6"/>
<rect x="444.5" y="91.8" width="0.9" height="0.9" fill="#8c9bd8" opacity="0.6"/>
<rect x="441.2" y="86.9" width="0.9" height="0.9" fill="#8c9bd8" opacity="0.6"/>
<rect x="440.4" y="94.2" width="0.9" height="0.9" fill="#8c9bd8" opacity="0.6"/>
<rect x="440.8" y="80.9" width="0.9" height="0.9" fill="#8c9bd8" opacity="0.6"/>
<rect x="438.7" y="80.6" width="0.9" height="0.9" fill="#8c9bd8" opacity="0.6"/>
<rect x="440.5" y="67.6" width="0.9" height="0.9" fill="#8c9bd8" opacity="0.6"/>
<rect x="446.2" y="63.5" width="0.9" height="0.9" fill="#8c9bd8" opacity="0.6"/>
<rect x="441.8" y="88.0" width="0.9" height="0.9" fill="#8c9bd8" opacity="0.6"/>
<rect x="445.7" y="69.0" width="0.9" height="0.9" fill="#8c9bd8" opacity="0.6"/>
<rect x="444.5" y="85.3" width="0.9" height="0.9" fill="#8c9bd8" opacity="0.6"/>
<rect x="442.1" y="86.1" width="0.9" height="0.9" fill="#8c9bd8" opacity="0.6"/>
<rect x="443.7" y="80.0" width="0.9" height="0.9" fill="#8c9bd8" opacity="0.6"/>
<rect x="442.2" y="90.2" width="0.9" height="0.9" fill="#8c9bd8" opacity="0.6"/>
<rect x="446.1" y="63.5" width="0.9" height="0.9" fill="#8c9bd8" opacity="0.6"/>
<rect x="445.5" y="82.5" width="0.9" height="0.9" fill="#8c9bd8" opacity="0.6"/>
<rect x="441.4" y="90.8" width="0.9" height="0.9" fill="#8c9bd8" opacity="0.6"/>
<rect x="441.5" y="73.4" width="0.9" height="0.9" fill="#8c9bd8" opacity="0.6"/>
<rect x="442.8" y="92.0" width="0.9" height="0.9" fill="#8c9bd8" opacity="0.6"/>
<rect x="441.9" y="92.2" width="0.9" height="0.9" fill="#8c9bd8" opacity="0.6"/>
<rect x="442.0" y="83.4" width="0.9" height="0.9" fill="#8c9bd8" opacity="0.6"/>
<rect x="446.5" y="70.0" width="0.9" height="0.9" fill="#8c9bd8" opacity="0.6"/>
<rect x="435.2" y="93.2" width="0.9" height="0.9" fill="#8c9bd8" opacity="0.6"/>
<rect x="442.1" y="90.0" width="0.9" height="0.9" fill="#8c9bd8" opacity="0.6"/>
<rect x="442.0" y="92.9" width="0.9" height="0.9" fill="#8c9bd8" opacity="0.6"/>
<rect x="443.1" y="82.2" width="0.9" height="0.9" fill="#8c9bd8" opacity="0.6"/>
<rect x="441.5" y="90.0" width="0.9" height="0.9" fill="#8c9bd8" opacity="0.6"/>
<rect x="446.3" y="87.9" width="0.9" height="0.9" fill="#8c9bd8" opacity="0.6"/>
<rect x="440.4" y="64.6" width="0.9" height="0.9" fill="#8c9bd8" opacity="0.6"/>
<rect x="444.0" y="87.1" width="0.9" height="0.9" fill="#8c9bd8" opacity="0.6"/>
<rect x="440.1" y="90.9" width="0.9" height="0.9" fill="#8c9bd8" opacity="0.6"/>
<rect x="440.7" y="81.1" width="0.9" height="0.9" fill="#8c9bd8" opacity="0.6"/>
<rect x="439.8" y="88.2" width="0.9" height="0.9" fill="#8c9bd8" opacity="0.6"/>
<rect x="444.6" y="89.2" width="0.9" height="0.9" fill="#8c9bd8" opacity="0.6"/>
<rect x="439.5" y="86.1" width="0.9" height="0.9" fill="#8c9bd8" opacity="0.6"/>
<rect x="442.5" y="83.8" width="0.9" height="0.9" fill="#8c9bd8" opacity="0.6"/>
<rect x="444.8" y="92.6" width="0.9" height="0.9" fill="#8c9bd8" opacity="0.6"/>
<rect x="442.1" y="94.2" width="0.9" height="0.9" fill="#8c9bd8" opacity="0.6"/>
<rect x="440.1" y="86.1" width="0.9" height="0.9" fill="#8c9bd8" opacity="0.6"/>
<rect x="445.1" y="92.5" width="0.9" height="0.9" fill="#8c9bd8" opacity="0.6"/>
<rect x="441.9" y="91.4" width="0.9" height="0.9" fill="#8c9bd8" opacity="0.6"/>
<rect x="440.8" y="84.3" width="0.9" height="0.9" fill="#8c9bd8" opacity="0.6"/>
<rect x="441.6" y="83.9" width="0.9" height="0.9" fill="#8c9bd8" opacity="0.6"/>
<rect x="441.5" y="74.3" width="0.9" height="0.9" fill="#8c9bd8" opacity="0.6"/>
<rect x="443.1" y="94.2" width="0.9" height="0.9" fill="#8c9bd8" opacity="0.6"/>
<rect x="440.1" y="64.9" width="0.9" height="0.9" fill="#8c9bd8" opacity="0.6"/>
<rect x="442.4" y="80.4" width="0.9" height="0.9" fill="#8c9bd8" opacity="0.6"/>
<rect x="440.9" y="88.5" width="0.9" height="0.9" fill="#8c9bd8" opacity="0.6"/>
<rect x="441.3" y="86.3" width="0.9" height="0.9" fill="#8c9bd8" opacity="0.6"/>
<rect x="440.6" y="82.0" width="0.9" height="0.9" fill="#8c9bd8" opacity="0.6"/>
<rect x="441.8" y="82.8" width="0.9" height="0.9" fill="#8c9bd8" opacity="0.6"/>
<rect x="476.4" y="59.4" width="0.9" height="0.9" fill="#b0bce6" opacity="0.6"/>
<rect x="468.3" y="73.6" width="0.9" height="0.9" fill="#b0bce6" opacity="0.6"/>
<rect x="457.9" y="63.4" width="0.9" height="0.9" fill="#b0bce6" opacity="0.6"/>
<rect x="477.7" y="63.7" width="0.9" height="0.9" fill="#b0bce6" opacity="0.6"/>
<rect x="452.9" y="67.6" width="0.9" height="0.9" fill="#b0bce6" opacity="0.6"/>
<rect x="473.5" y="60.9" width="0.9" height="0.9" fill="#b0bce6" opacity="0.6"/>
<rect x="458.3" y="65.6" width="0.9" height="0.9" fill="#b0bce6" opacity="0.6"/>
<rect x="478.9" y="67.7" width="0.9" height="0.9" fill="#b0bce6" opacity="0.6"/>
<rect x="479.8" y="62.3" width="0.9" height="0.9" fill="#b0bce6" opacity="0.6"/>
<rect x="458.9" y="71.9" width="0.9" height="0.9" fill="#b0bce6" opacity="0.6"/>
<rect x="481.0" y="67.9" width="0.9" height="0.9" fill="#b0bce6" opacity="0.6"/>
<rect x="454.4" y="61.3" width="0.9" height="0.9" fill="#b0bce6" opacity="0.6"/>
<rect x="466.7" y="62.7" width="0.9" height="0.9" fill="#b0bce6" opacity="0.6"/>
<rect x="477.8" y="75.7" width="0.9" height="0.9" fill="#b0bce6" opacity="0.6"/>
<rect x="452.8" y="64.5" width="0.9" height="0.9" fill="#b0bce6" opacity="0.6"/>
<rect x="477.9" y="71.7" width="0.9" height="0.9" fill="#b0bce6" opacity="0.6"/>
<rect x="477.8" y="65.8" width="0.9" height="0.9" fill="#b0bce6" opacity="0.6"/>
<rect x="450.6" y="64.7" width="0.9" height="0.9" fill="#b0bce6" opacity="0.6"/>
<rect x="477.3" y="64.3" width="0.9" height="0.9" fill="#b0bce6" opacity="0.6"/>
<rect x="459.3" y="67.2" width="0.9" height="0.9" fill="#b0bce6" opacity="0.6"/>
<rect x="462.3" y="67.1" width="0.9" height="0.9" fill="#b0bce6" opacity="0.6"/>
<rect x="482.4" y="62.0" width="0.9" height="0.9" fill="#b0bce6" opacity="0.6"/>
<rect x="445.6" y="77.8" width="0.9" height="0.9" fill="#b0bce6" opacity="0.6"/>
<rect x="480.8" y="78.6" width="0.9" height="0.9" fill="#b0bce6" opacity="0.6"/>
<rect x="462.9" y="77.9" width="0.9" height="0.9" fill="#b0bce6" opacity="0.6"/>
<rect x="482.7" y="63.3" width="0.9" height="0.9" fill="#b0bce6" opacity="0.6"/>
<rect x="475.4" y="75.6" width="0.9" height="0.9" fill="#b0bce6" opacity="0.6"/>
<rect x="472.1" y="69.3" width="0.9" height="0.9" fill="#b0bce6" opacity="0.6"/>
<rect x="457.0" y="65.7" width="0.9" height="0.9" fill="#b0bce6" opacity="0.6"/>
<rect x="454.5" y="60.3" width="0.9" height="0.9" fill="#b0bce6" opacity="0.6"/>
<rect x="469.1" y="64.6" width="0.9" height="0.9" fill="#b0bce6" opacity="0.6"/>
<rect x="478.0" y="59.8" width="0.9" height="0.9" fill="#b0bce6" opacity="0.6"/>
<rect x="476.0" y="85.6" width="0.9" height="0.9" fill="#7f98e4" opacity="0.6"/>
<rect x="482.0" y="83.2" width="0.9" height="0.9" fill="#7f98e4" opacity="0.6"/>
<rect x="474.1" y="86.7" width="0.9" height="0.9" fill="#7f98e4" opacity="0.6"/>
<rect x="479.7" y="90.1" width="0.9" height="0.9" fill="#7f98e4" opacity="0.6"/>
<rect x="467.8" y="97.0" width="0.9" height="0.9" fill="#7f98e4" opacity="0.6"/>
<rect x="458.0" y="90.1" width="0.9" height="0.9" fill="#7f98e4" opacity="0.6"/>
<rect x="444.7" y="106.5" width="0.9" height="0.9" fill="#7f98e4" opacity="0.6"/>
<rect x="457.4" y="92.7" width="0.9" height="0.9" fill="#7f98e4" opacity="0.6"/>
<rect x="463.7" y="105.0" width="0.9" height="0.9" fill="#7f98e4" opacity="0.6"/>
<rect x="447.6" y="100.3" width="0.9" height="0.9" fill="#7f98e4" opacity="0.6"/>
<rect x="460.2" y="98.1" width="0.9" height="0.9" fill="#7f98e4" opacity="0.6"/>
<rect x="446.9" y="96.9" width="0.9" height="0.9" fill="#7f98e4" opacity="0.6"/>
<rect x="472.0" y="100.2" width="0.9" height="0.9" fill="#7f98e4" opacity="0.6"/>
<rect x="479.2" y="84.7" width="0.9" height="0.9" fill="#7f98e4" opacity="0.6"/>
<rect x="464.5" y="93.2" width="0.9" height="0.9" fill="#7f98e4" opacity="0.6"/>
<rect x="450.9" y="90.0" width="0.9" height="0.9" fill="#7f98e4" opacity="0.6"/>
<rect x="471.2" y="93.2" width="0.9" height="0.9" fill="#7f98e4" opacity="0.6"/>
<rect x="462.6" y="101.1" width="0.9" height="0.9" fill="#7f98e4" opacity="0.6"/>
<rect x="454.5" y="99.8" width="0.9" height="0.9" fill="#7f98e4" opacity="0.6"/>
<rect x="464.1" y="93.6" width="0.9" height="0.9" fill="#7f98e4" opacity="0.6"/>
<rect x="468.7" y="93.6" width="0.9" height="0.9" fill="#7f98e4" opacity="0.6"/>
<rect x="466.5" y="94.7" width="0.9" height="0.9" fill="#7f98e4" opacity="0.6"/>
<rect x="482.4" y="86.8" width="0.9" height="0.9" fill="#7f98e4" opacity="0.6"/>
<rect x="473.6" y="94.5" width="0.9" height="0.9" fill="#7f98e4" opacity="0.6"/>
<rect x="460.7" y="99.4" width="0.9" height="0.9" fill="#7f98e4" opacity="0.6"/>
<rect x="455.9" y="102.8" width="0.9" height="0.9" fill="#7f98e4" opacity="0.6"/>
<rect x="456.3" y="93.6" width="0.9" height="0.9" fill="#7f98e4" opacity="0.6"/>
<rect x="467.1" y="97.7" width="0.9" height="0.9" fill="#7f98e4" opacity="0.6"/>
<rect x="472.6" y="96.3" width="0.9" height="0.9" fill="#7f98e4" opacity="0.6"/>
<rect x="462.0" y="89.3" width="0.9" height="0.9" fill="#7f98e4" opacity="0.6"/>
<rect x="469.2" y="94.1" width="0.9" height="0.9" fill="#7f98e4" opacity="0.6"/>
<rect x="455.0" y="102.1" width="0.9" height="0.9" fill="#7f98e4" opacity="0.6"/>
<rect x="465.9" y="88.2" width="0.9" height="0.9" fill="#7f98e4" opacity="0.6"/>
<rect x="468.2" y="85.5" width="0.9" height="0.9" fill="#7f98e4" opacity="0.6"/>
<rect x="455.7" y="98.7" width="0.9" height="0.9" fill="#7f98e4" opacity="0.6"/>
<rect x="449.2" y="98.6" width="0.9" height="0.9" fill="#7f98e4" opacity="0.6"/>
<rect x="451.2" y="101.9" width="0.9" height="0.9" fill="#7f98e4" opacity="0.6"/>
<rect x="457.1" y="97.1" width="0.9" height="0.9" fill="#7f98e4" opacity="0.6"/>
<rect x="449.7" y="96.4" width="0.9" height="0.9" fill="#7f98e4" opacity="0.6"/>
<rect x="473.0" y="93.8" width="0.9" height="0.9" fill="#7f98e4" opacity="0.6"/>
<rect x="446.5" y="104.3" width="0.9" height="0.9" fill="#7f98e4" opacity="0.6"/>
<rect x="472.5" y="89.4" width="0.9" height="0.9" fill="#7f98e4" opacity="0.6"/>
<rect x="477.5" y="84.1" width="0.9" height="0.9" fill="#7f98e4" opacity="0.6"/>
<rect x="463.2" y="100.4" width="0.9" height="0.9" fill="#7f98e4" opacity="0.6"/>
<rect x="476.4" y="97.3" width="0.9" height="0.9" fill="#7f98e4" opacity="0.6"/>
<rect x="453.6" y="87.3" width="0.9" height="0.9" fill="#7f98e4" opacity="0.6"/>
<rect x="467.7" y="85.0" width="0.9" height="0.9" fill="#7f98e4" opacity="0.6"/>
<rect x="462.8" y="87.3" width="0.9" height="0.9" fill="#7f98e4" opacity="0.6"/>
<rect x="474.1" y="95.4" width="0.9" height="0.9" fill="#7f98e4" opacity="0.6"/>
<rect x="469.3" y="92.5" width="0.9" height="0.9" fill="#7f98e4" opacity="0.6"/>
<rect x="464.4" y="92.2" width="0.9" height="0.9" fill="#7f98e4" opacity="0.6"/>
<rect x="467.6" y="94.3" width="0.9" height="0.9" fill="#7f98e4" opacity="0.6"/>
<rect x="468.4" y="90.3" width="0.9" height="0.9" fill="#7f98e4" opacity="0.6"/>
<rect x="482.0" y="90.1" width="0.9" height="0.9" fill="#7f98e4" opacity="0.6"/>
<rect x="477.2" y="97.3" width="0.9" height="0.9" fill="#7f98e4" opacity="0.6"/>
<rect x="455.6" y="87.2" width="0.9" height="0.9" fill="#7f98e4" opacity="0.6"/>
<rect x="475.9" y="88.3" width="0.9" height="0.9" fill="#7f98e4" opacity="0.6"/>
<rect x="464.8" y="92.3" width="0.9" height="0.9" fill="#7f98e4" opacity="0.6"/>
<rect x="465.2" y="87.1" width="0.9" height="0.9" fill="#7f98e4" opacity="0.6"/>
<rect x="463.0" y="91.7" width="0.9" height="0.9" fill="#7f98e4" opacity="0.6"/>
<rect x="463.9" y="81.2" width="0.9" height="0.9" fill="#7f98e4" opacity="0.6"/>
<rect x="471.8" y="93.5" width="0.9" height="0.9" fill="#7f98e4" opacity="0.6"/>
<rect x="447.6" y="94.9" width="0.9" height="0.9" fill="#7f98e4" opacity="0.6"/>
<rect x="464.3" y="97.4" width="0.9" height="0.9" fill="#7f98e4" opacity="0.6"/>
<rect x="464.0" y="101.6" width="0.9" height="0.9" fill="#7f98e4" opacity="0.6"/>
<rect x="464.2" y="88.4" width="0.9" height="0.9" fill="#7f98e4" opacity="0.6"/>
<rect x="457.6" y="100.0" width="0.9" height="0.9" fill="#7f98e4" opacity="0.6"/>
<rect x="458.2" y="100.4" width="0.9" height="0.9" fill="#7f98e4" opacity="0.6"/>
<rect x="473.7" y="94.3" width="0.9" height="0.9" fill="#7f98e4" opacity="0.6"/>
<rect x="473.7" y="90.1" width="0.9" height="0.9" fill="#7f98e4" opacity="0.6"/>
<rect x="463.9" y="90.8" width="0.9" height="0.9" fill="#7f98e4" opacity="0.6"/>
<rect x="458.2" y="87.1" width="0.9" height="0.9" fill="#7f98e4" opacity="0.6"/>
<rect x="458.7" y="89.7" width="0.9" height="0.9" fill="#7f98e4" opacity="0.6"/>
<rect x="450.4" y="98.9" width="0.9" height="0.9" fill="#7f98e4" opacity="0.6"/>
<rect x="468.3" y="90.8" width="0.9" height="0.9" fill="#7f98e4" opacity="0.6"/>
<rect x="477.0" y="95.3" width="0.9" height="0.9" fill="#7f98e4" opacity="0.6"/>
<rect x="473.9" y="87.7" width="0.9" height="0.9" fill="#7f98e4" opacity="0.6"/>
<rect x="449.8" y="101.3" width="0.9" height="0.9" fill="#7f98e4" opacity="0.6"/>
<rect x="466.9" y="97.1" width="0.9" height="0.9" fill="#7f98e4" opacity="0.6"/>
<rect x="468.0" y="99.7" width="0.9" height="0.9" fill="#7f98e4" opacity="0.6"/>
<rect x="461.3" y="98.5" width="0.9" height="0.9" fill="#7f98e4" opacity="0.6"/>
<rect x="455.5" y="83.9" width="0.9" height="0.9" fill="#7f98e4" opacity="0.6"/>
<rect x="459.8" y="103.5" width="0.9" height="0.9" fill="#7f98e4" opacity="0.6"/>
<rect x="448.1" y="104.4" width="0.9" height="0.9" fill="#7f98e4" opacity="0.6"/>
<rect x="457.5" y="93.7" width="0.9" height="0.9" fill="#7f98e4" opacity="0.6"/>
<rect x="464.4" y="95.0" width="0.9" height="0.9" fill="#7f98e4" opacity="0.6"/>
<rect x="454.7" y="97.5" width="0.9" height="0.9" fill="#7f98e4" opacity="0.6"/>
<rect x="468.2" y="97.3" width="0.9" height="0.9" fill="#7f98e4" opacity="0.6"/>
<rect x="456.8" y="104.7" width="0.9" height="0.9" fill="#7f98e4" opacity="0.6"/>
<rect x="482.1" y="101.8" width="0.9" height="0.9" fill="#7f98e4" opacity="0.6"/>
<rect x="451.3" y="98.8" width="0.9" height="0.9" fill="#7f98e4" opacity="0.6"/>
<rect x="446.3" y="101.4" width="0.9" height="0.9" fill="#7f98e4" opacity="0.6"/>
<rect x="469.3" y="86.1" width="0.9" height="0.9" fill="#7f98e4" opacity="0.6"/>
<rect x="448.9" y="99.6" width="0.9" height="0.9" fill="#7f98e4" opacity="0.6"/>
<rect x="470.0" y="87.9" width="0.9" height="0.9" fill="#7f98e4" opacity="0.6"/>
<rect x="461.5" y="80.9" width="0.9" height="0.9" fill="#7f98e4" opacity="0.6"/>
<rect x="457.3" y="96.8" width="0.9" height="0.9" fill="#7f98e4" opacity="0.6"/>
<rect x="465.4" y="102.3" width="0.9" height="0.9" fill="#7f98e4" opacity="0.6"/>
<rect x="453.2" y="84.9" width="0.9" height="0.9" fill="#7f98e4" opacity="0.6"/>
<rect x="468.3" y="89.5" width="0.9" height="0.9" fill="#7f98e4" opacity="0.6"/>
<rect x="466.7" y="97.1" width="0.9" height="0.9" fill="#7f98e4" opacity="0.6"/>
<rect x="469.7" y="100.2" width="0.9" height="0.9" fill="#7f98e4" opacity="0.6"/>
<rect x="476.8" y="81.0" width="0.9" height="0.9" fill="#7f98e4" opacity="0.6"/>
<rect x="463.4" y="105.2" width="0.9" height="0.9" fill="#7f98e4" opacity="0.6"/>
<rect x="460.1" y="100.5" width="0.9" height="0.9" fill="#7f98e4" opacity="0.6"/>
<rect x="463.5" y="91.8" width="0.9" height="0.9" fill="#7f98e4" opacity="0.6"/>
<rect x="479.0" y="95.2" width="0.9" height="0.9" fill="#7f98e4" opacity="0.6"/>
<rect x="461.7" y="99.7" width="0.9" height="0.9" fill="#7f98e4" opacity="0.6"/>
<rect x="451.5" y="93.8" width="0.9" height="0.9" fill="#7f98e4" opacity="0.6"/>
<rect x="472.6" y="91.6" width="0.9" height="0.9" fill="#7f98e4" opacity="0.6"/>
<rect x="453.9" y="99.5" width="0.9" height="0.9" fill="#7f98e4" opacity="0.6"/>
<rect x="467.1" y="100.1" width="0.9" height="0.9" fill="#7f98e4" opacity="0.6"/>
<rect x="473.1" y="89.8" width="0.9" height="0.9" fill="#7f98e4" opacity="0.6"/>
<rect x="459.4" y="94.6" width="0.9" height="0.9" fill="#7f98e4" opacity="0.6"/>
<rect x="461.8" y="102.7" width="0.9" height="0.9" fill="#7f98e4" opacity="0.6"/>
<rect x="479.1" y="96.9" width="0.9" height="0.9" fill="#7f98e4" opacity="0.6"/>
<rect x="467.6" y="91.6" width="0.9" height="0.9" fill="#7f98e4" opacity="0.6"/>
<rect x="472.6" y="89.5" width="0.9" height="0.9" fill="#7f98e4" opacity="0.6"/>
<rect x="466.2" y="84.2" width="0.9" height="0.9" fill="#7f98e4" opacity="0.6"/>
<rect x="460.0" y="103.1" width="0.9" height="0.9" fill="#7f98e4" opacity="0.6"/>
<rect x="454.2" y="88.7" width="0.9" height="0.9" fill="#7f98e4" opacity="0.6"/>
<rect x="462.4" y="103.6" width="0.9" height="0.9" fill="#7f98e4" opacity="0.6"/>
<rect x="477.8" y="87.9" width="0.9" height="0.9" fill="#7f98e4" opacity="0.6"/>
<rect x="459.5" y="94.8" width="0.9" height="0.9" fill="#7f98e4" opacity="0.6"/>
<rect x="455.2" y="96.9" width="0.9" height="0.9" fill="#7f98e4" opacity="0.6"/>
<rect x="461.1" y="86.7" width="0.9" height="0.9" fill="#7f98e4" opacity="0.6"/>
<rect x="458.5" y="94.2" width="0.9" height="0.9" fill="#7f98e4" opacity="0.6"/>
<rect x="455.8" y="90.3" width="0.9" height="0.9" fill="#7f98e4" opacity="0.6"/>
<rect x="472.6" y="101.8" width="0.9" height="0.9" fill="#7f98e4" opacity="0.6"/>
<rect x="461.3" y="92.5" width="0.9" height="0.9" fill="#7f98e4" opacity="0.6"/>
<rect x="468.8" y="91.3" width="0.9" height="0.9" fill="#7f98e4" opacity="0.6"/>
<rect x="456.6" y="103.9" width="0.9" height="0.9" fill="#7f98e4" opacity="0.6"/>
<rect x="454.1" y="92.9" width="0.9" height="0.9" fill="#7f98e4" opacity="0.6"/>
<rect x="457.7" y="91.0" width="0.9" height="0.9" fill="#7f98e4" opacity="0.6"/>
<rect x="461.7" y="97.8" width="0.9" height="0.9" fill="#7f98e4" opacity="0.6"/>
<rect x="477.7" y="93.5" width="0.9" height="0.9" fill="#7f98e4" opacity="0.6"/>
<rect x="464.3" y="87.0" width="0.9" height="0.9" fill="#7f98e4" opacity="0.6"/>
<rect x="463.4" y="89.0" width="0.9" height="0.9" fill="#7f98e4" opacity="0.6"/>
<rect x="463.1" y="99.7" width="0.9" height="0.9" fill="#7f98e4" opacity="0.6"/>
<rect x="465.9" y="92.3" width="0.9" height="0.9" fill="#7f98e4" opacity="0.6"/>
<rect x="456.8" y="96.0" width="0.9" height="0.9" fill="#7f98e4" opacity="0.6"/>
<rect x="465.1" y="88.6" width="0.9" height="0.9" fill="#7f98e4" opacity="0.6"/>
<rect x="459.2" y="100.3" width="0.9" height="0.9" fill="#7f98e4" opacity="0.6"/>
<rect x="448.2" y="96.3" width="0.9" height="0.9" fill="#7f98e4" opacity="0.6"/>
<rect x="452.9" y="105.8" width="0.9" height="0.9" fill="#7f98e4" opacity="0.6"/>
<rect x="469.7" y="95.1" width="0.9" height="0.9" fill="#7f98e4" opacity="0.6"/>
<rect x="467.8" y="94.4" width="0.9" height="0.9" fill="#7f98e4" opacity="0.6"/>
<rect x="466.8" y="84.4" width="0.9" height="0.9" fill="#7f98e4" opacity="0.6"/>
<rect x="466.4" y="96.5" width="0.9" height="0.9" fill="#7f98e4" opacity="0.6"/>
<rect x="450.4" y="102.6" width="0.9" height="0.9" fill="#7f98e4" opacity="0.6"/>
<rect x="470.3" y="83.7" width="0.9" height="0.9" fill="#7f98e4" opacity="0.6"/>
<rect x="459.5" y="93.7" width="0.9" height="0.9" fill="#7f98e4" opacity="0.6"/>
<rect x="459.0" y="97.7" width="0.9" height="0.9" fill="#7f98e4" opacity="0.6"/>
<rect x="451.9" y="96.4" width="0.9" height="0.9" fill="#7f98e4" opacity="0.6"/>
<rect x="466.1" y="97.3" width="0.9" height="0.9" fill="#7f98e4" opacity="0.6"/>
<rect x="464.5" y="92.5" width="0.9" height="0.9" fill="#7f98e4" opacity="0.6"/>
<rect x="470.6" y="81.1" width="0.9" height="0.9" fill="#7f98e4" opacity="0.6"/>
<rect x="472.9" y="89.6" width="0.9" height="0.9" fill="#7f98e4" opacity="0.6"/>
<rect x="452.1" y="95.2" width="0.9" height="0.9" fill="#7f98e4" opacity="0.6"/>
<rect x="446.6" y="88.0" width="0.9" height="0.9" fill="#7f98e4" opacity="0.6"/>
<rect x="460.9" y="90.7" width="0.9" height="0.9" fill="#7f98e4" opacity="0.6"/>
<rect x="471.0" y="87.0" width="0.9" height="0.9" fill="#7f98e4" opacity="0.6"/>
<rect x="451.7" y="92.4" width="0.9" height="0.9" fill="#7f98e4" opacity="0.6"/>
<rect x="480.3" y="89.3" width="0.9" height="0.9" fill="#7f98e4" opacity="0.6"/>
<rect x="458.2" y="90.3" width="0.9" height="0.9" fill="#7f98e4" opacity="0.6"/>
<rect x="453.6" y="96.2" width="0.9" height="0.9" fill="#7f98e4" opacity="0.6"/>
<rect x="468.1" y="99.1" width="0.9" height="0.9" fill="#7f98e4" opacity="0.6"/>
<rect x="474.9" y="92.2" width="0.9" height="0.9" fill="#7f98e4" opacity="0.6"/>
<rect x="457.7" y="91.1" width="0.9" height="0.9" fill="#7f98e4" opacity="0.6"/>
<rect x="442.0" y="95.0" width="0.9" height="0.9" fill="#7f98e4" opacity="0.6"/>
<rect x="468.0" y="90.9" width="0.9" height="0.9" fill="#7f98e4" opacity="0.6"/>
<rect x="467.5" y="85.5" width="0.9" height="0.9" fill="#7f98e4" opacity="0.6"/>
<rect x="472.5" y="93.1" width="0.9" height="0.9" fill="#7f98e4" opacity="0.6"/>
<rect x="464.4" y="96.1" width="0.9" height="0.9" fill="#7f98e4" opacity="0.6"/>
<rect x="442.8" y="97.3" width="0.9" height="0.9" fill="#7f98e4" opacity="0.6"/>
<rect x="455.5" y="106.5" width="0.9" height="0.9" fill="#7f98e4" opacity="0.6"/>
<rect x="462.3" y="91.7" width="0.9" height="0.9" fill="#7f98e4" opacity="0.6"/>
<rect x="472.1" y="85.8" width="0.9" height="0.9" fill="#7f98e4" opacity="0.6"/>
<rect x="477.5" y="86.1" width="0.9" height="0.9" fill="#7f98e4" opacity="0.6"/>
<rect x="463.4" y="89.1" width="0.9" height="0.9" fill="#7f98e4" opacity="0.6"/>
<rect x="471.7" y="79.8" width="0.9" height="0.9" fill="#7f98e4" opacity="0.6"/>
<rect x="470.6" y="87.5" width="0.9" height="0.9" fill="#7f98e4" opacity="0.6"/>
<rect x="464.5" y="87.5" width="0.9" height="0.9" fill="#7f98e4" opacity="0.6"/>
<rect x="466.2" y="94.4" width="0.9" height="0.9" fill="#7f98e4" opacity="0.6"/>
<rect x="469.6" y="94.0" width="0.9" height="0.9" fill="#7f98e4" opacity="0.6"/>
<rect x="469.9" y="97.7" width="0.9" height="0.9" fill="#7f98e4" opacity="0.6"/>
<rect x="460.3" y="88.6" width="0.9" height="0.9" fill="#7f98e4" opacity="0.6"/>
<rect x="451.9" y="101.4" width="0.9" height="0.9" fill="#7f98e4" opacity="0.6"/>
<rect x="460.4" y="100.9" width="0.9" height="0.9" fill="#7f98e4" opacity="0.6"/>
<rect x="464.4" y="88.3" width="0.9" height="0.9" fill="#7f98e4" opacity="0.6"/>
<rect x="472.6" y="102.1" width="0.9" height="0.9" fill="#7f98e4" opacity="0.6"/>
<rect x="462.3" y="89.4" width="0.9" height="0.9" fill="#7f98e4" opacity="0.6"/>
<rect x="456.0" y="101.3" width="0.9" height="0.9" fill="#7f98e4" opacity="0.6"/>
<rect x="458.4" y="93.4" width="0.9" height="0.9" fill="#7f98e4" opacity="0.6"/>
<rect x="470.5" y="92.1" width="0.9" height="0.9" fill="#7f98e4" opacity="0.6"/>
<rect x="465.1" y="90.7" width="0.9" height="0.9" fill="#7f98e4" opacity="0.6"/>
<rect x="457.9" y="96.7" width="0.9" height="0.9" fill="#7f98e4" opacity="0.6"/>
<rect x="465.5" y="96.8" width="0.9" height="0.9" fill="#7f98e4" opacity="0.6"/>
<rect x="459.3" y="97.3" width="0.9" height="0.9" fill="#7f98e4" opacity="0.6"/>
<rect x="468.5" y="93.1" width="0.9" height="0.9" fill="#7f98e4" opacity="0.6"/>
<rect x="469.4" y="97.9" width="0.9" height="0.9" fill="#7f98e4" opacity="0.6"/>
<rect x="465.9" y="93.9" width="0.9" height="0.9" fill="#7f98e4" opacity="0.6"/>
<rect x="454.8" y="98.6" width="0.9" height="0.9" fill="#7f98e4" opacity="0.6"/>
<rect x="463.1" y="92.6" width="0.9" height="0.9" fill="#7f98e4" opacity="0.6"/>
<rect x="456.2" y="99.5" width="0.9" height="0.9" fill="#7f98e4" opacity="0.6"/>
<rect x="488.3" y="89.1" width="0.9" height="0.9" fill="#7f98e4" opacity="0.6"/>
<rect x="464.8" y="96.2" width="0.9" height="0.9" fill="#7f98e4" opacity="0.6"/>
<rect x="458.4" y="96.2" width="0.9" height="0.9" fill="#7f98e4" opacity="0.6"/>
<rect x="457.7" y="92.4" width="0.9" height="0.9" fill="#7f98e4" opacity="0.6"/>
<rect x="466.2" y="94.6" width="0.9" height="0.9" fill="#7f98e4" opacity="0.6"/>
<rect x="462.9" y="90.0" width="0.9" height="0.9" fill="#7f98e4" opacity="0.6"/>
<rect x="466.5" y="87.3" width="0.9" height="0.9" fill="#7f98e4" opacity="0.6"/>
<rect x="471.3" y="89.9" width="0.9" height="0.9" fill="#7f98e4" opacity="0.6"/>
<rect x="464.0" y="98.3" width="0.9" height="0.9" fill="#7f98e4" opacity="0.6"/>
<rect x="469.3" y="85.3" width="0.9" height="0.9" fill="#7f98e4" opacity="0.6"/>
<rect x="461.6" y="96.7" width="0.9" height="0.9" fill="#7f98e4" opacity="0.6"/>
<rect x="453.7" y="83.9" width="0.9" height="0.9" fill="#7f98e4" opacity="0.6"/>
<rect x="463.3" y="93.9" width="0.9" height="0.9" fill="#7f98e4" opacity="0.6"/>
<rect x="468.1" y="93.2" width="0.9" height="0.9" fill="#7f98e4" opacity="0.6"/>
<rect x="465.2" y="94.9" width="0.9" height="0.9" fill="#7f98e4" opacity="0.6"/>
<rect x="477.1" y="92.7" width="0.9" height="0.9" fill="#7f98e4" opacity="0.6"/>
<rect x="469.2" y="90.3" width="0.9" height="0.9" fill="#7f98e4" opacity="0.6"/>
<rect x="474.7" y="89.8" width="0.9" height="0.9" fill="#7f98e4" opacity="0.6"/>
<rect x="471.0" y="80.3" width="0.9" height="0.9" fill="#7f98e4" opacity="0.6"/>
<rect x="466.3" y="92.8" width="0.9" height="0.9" fill="#7f98e4" opacity="0.6"/>
<rect x="459.6" y="102.4" width="0.9" height="0.9" fill="#7f98e4" opacity="0.6"/>
<rect x="467.8" y="92.1" width="0.9" height="0.9" fill="#7f98e4" opacity="0.6"/>
<rect x="459.0" y="105.8" width="0.9" height="0.9" fill="#7f98e4" opacity="0.6"/>
<rect x="471.1" y="95.5" width="0.9" height="0.9" fill="#7f98e4" opacity="0.6"/>
<rect x="456.8" y="103.3" width="0.9" height="0.9" fill="#7f98e4" opacity="0.6"/>
<rect x="469.3" y="90.9" width="0.9" height="0.9" fill="#7f98e4" opacity="0.6"/>
<rect x="463.0" y="85.4" width="0.9" height="0.9" fill="#7f98e4" opacity="0.6"/>
<rect x="470.2" y="86.1" width="0.9" height="0.9" fill="#7f98e4" opacity="0.6"/>
<rect x="472.0" y="89.2" width="0.9" height="0.9" fill="#7f98e4" opacity="0.6"/>
<rect x="458.1" y="97.8" width="0.9" height="0.9" fill="#7f98e4" opacity="0.6"/>
<rect x="466.0" y="87.2" width="0.9" height="0.9" fill="#7f98e4" opacity="0.6"/>
<rect x="463.3" y="97.5" width="0.9" height="0.9" fill="#7f98e4" opacity="0.6"/>
<rect x="461.6" y="87.3" width="0.9" height="0.9" fill="#7f98e4" opacity="0.6"/>
<rect x="461.7" y="89.4" width="0.9" height="0.9" fill="#7f98e4" opacity="0.6"/>
<rect x="458.5" y="95.9" width="0.9" height="0.9" fill="#7f98e4" opacity="0.6"/>
<rect x="463.5" y="93.0" width="0.9" height="0.9" fill="#7f98e4" opacity="0.6"/>
<rect x="448.3" y="100.6" width="0.9" height="0.9" fill="#7f98e4" opacity="0.6"/>
<rect x="462.1" y="92.3" width="0.9" height="0.9" fill="#7f98e4" opacity="0.6"/>
<rect x="465.5" y="104.1" width="0.9" height="0.9" fill="#7f98e4" opacity="0.6"/>
<rect x="451.8" y="88.9" width="0.9" height="0.9" fill="#7f98e4" opacity="0.6"/>
<rect x="471.2" y="87.5" width="0.9" height="0.9" fill="#7f98e4" opacity="0.6"/>
<rect x="476.3" y="84.9" width="0.9" height="0.9" fill="#7f98e4" opacity="0.6"/>
<rect x="459.4" y="99.9" width="0.9" height="0.9" fill="#7f98e4" opacity="0.6"/>
<rect x="472.6" y="93.8" width="0.9" height="0.9" fill="#7f98e4" opacity="0.6"/>
<rect x="468.3" y="92.0" width="0.9" height="0.9" fill="#7f98e4" opacity="0.6"/>
<rect x="459.8" y="94.1" width="0.9" height="0.9" fill="#7f98e4" opacity="0.6"/>
<rect x="476.0" y="94.3" width="0.9" height="0.9" fill="#7f98e4" opacity="0.6"/>
<rect x="464.2" y="95.7" width="0.9" height="0.9" fill="#7f98e4" opacity="0.6"/>
<rect x="471.8" y="98.1" width="0.9" height="0.9" fill="#7f98e4" opacity="0.6"/>
<rect x="462.8" y="93.9" width="0.9" height="0.9" fill="#7f98e4" opacity="0.6"/>
<rect x="467.1" y="107.3" width="0.9" height="0.9" fill="#7f98e4" opacity="0.6"/>
<rect x="466.3" y="100.3" width="0.9" height="0.9" fill="#7f98e4" opacity="0.6"/>
<rect x="449.5" y="103.0" width="0.9" height="0.9" fill="#7f98e4" opacity="0.6"/>
<rect x="450.7" y="92.1" width="0.9" height="0.9" fill="#7f98e4" opacity="0.6"/>
<rect x="458.0" y="95.0" width="0.9" height="0.9" fill="#7f98e4" opacity="0.6"/>
<rect x="465.7" y="95.5" width="0.9" height="0.9" fill="#7f98e4" opacity="0.6"/>
<rect x="466.1" y="91.0" width="0.9" height="0.9" fill="#7f98e4" opacity="0.6"/>
<rect x="488.5" y="88.8" width="0.9" height="0.9" fill="#7f98e4" opacity="0.6"/>
<rect x="470.3" y="103.2" width="0.9" height="0.9" fill="#7f98e4" opacity="0.6"/>
<rect x="473.1" y="94.4" width="0.9" height="0.9" fill="#7f98e4" opacity="0.6"/>
<rect x="467.0" y="103.3" width="0.9" height="0.9" fill="#7f98e4" opacity="0.6"/>
<rect x="453.8" y="91.8" width="0.9" height="0.9" fill="#7f98e4" opacity="0.6"/>
<rect x="465.4" y="82.5" width="0.9" height="0.9" fill="#7f98e4" opacity="0.6"/>
<rect x="456.7" y="102.4" width="0.9" height="0.9" fill="#7f98e4" opacity="0.6"/>
<rect x="459.7" y="96.2" width="0.9" height="0.9" fill="#7f98e4" opacity="0.6"/>
<rect x="470.5" y="85.7" width="0.9" height="0.9" fill="#7f98e4" opacity="0.6"/>
<rect x="466.6" y="89.8" width="0.9" height="0.9" fill="#7f98e4" opacity="0.6"/>
<rect x="453.7" y="95.6" width="0.9" height="0.9" fill="#7f98e4" opacity="0.6"/>
<rect x="463.5" y="92.0" width="0.9" height="0.9" fill="#7f98e4" opacity="0.6"/>
<rect x="457.8" y="101.1" width="0.9" height="0.9" fill="#7f98e4" opacity="0.6"/>
<rect x="474.9" y="93.8" width="0.9" height="0.9" fill="#7f98e4" opacity="0.6"/>
<rect x="463.1" y="88.5" width="0.9" height="0.9" fill="#7f98e4" opacity="0.6"/>
<rect x="456.3" y="90.3" width="0.9" height="0.9" fill="#7f98e4" opacity="0.6"/>
<rect x="466.0" y="98.4" width="0.9" height="0.9" fill="#7f98e4" opacity="0.6"/>
<rect x="472.6" y="91.3" width="0.9" height="0.9" fill="#7f98e4" opacity="0.6"/>
<rect x="460.4" y="96.1" width="0.9" height="0.9" fill="#7f98e4" opacity="0.6"/>
<rect x="465.1" y="96.9" width="0.9" height="0.9" fill="#7f98e4" opacity="0.6"/>
<rect x="477.9" y="86.1" width="0.9" height="0.9" fill="#7f98e4" opacity="0.6"/>
<rect x="483.7" y="76.7" width="0.9" height="0.9" fill="#7f98e4" opacity="0.6"/>
<rect x="447.2" y="90.8" width="0.9" height="0.9" fill="#7f98e4" opacity="0.6"/>
<rect x="454.4" y="95.6" width="0.9" height="0.9" fill="#7f98e4" opacity="0.6"/>
<rect x="483.4" y="84.4" width="0.9" height="0.9" fill="#7f98e4" opacity="0.6"/>
<rect x="474.4" y="88.9" width="0.9" height="0.9" fill="#7f98e4" opacity="0.6"/>
<rect x="465.4" y="88.0" width="0.9" height="0.9" fill="#7f98e4" opacity="0.6"/>
<rect x="485.4" y="87.4" width="0.9" height="0.9" fill="#7f98e4" opacity="0.6"/>
<rect x="458.2" y="108.1" width="0.9" height="0.9" fill="#7f98e4" opacity="0.6"/>
<rect x="465.7" y="95.8" width="0.9" height="0.9" fill="#7f98e4" opacity="0.6"/>
<rect x="462.6" y="89.9" width="0.9" height="0.9" fill="#7f98e4" opacity="0.6"/>
<rect x="450.5" y="97.1" width="0.9" height="0.9" fill="#7f98e4" opacity="0.6"/>
<rect x="479.2" y="91.7" width="0.9" height="0.9" fill="#7f98e4" opacity="0.6"/>
<rect x="462.4" y="100.3" width="0.9" height="0.9" fill="#7f98e4" opacity="0.6"/>
<rect x="455.2" y="104.1" width="0.9" height="0.9" fill="#7f98e4" opacity="0.6"/>
<rect x="463.8" y="89.5" width="0.9" height="0.9" fill="#7f98e4" opacity="0.6"/>
<rect x="470.4" y="94.9" width="0.9" height="0.9" fill="#7f98e4" opacity="0.6"/>
<rect x="460.8" y="96.1" width="0.9" height="0.9" fill="#7f98e4" opacity="0.6"/>
<rect x="473.2" y="98.9" width="0.9" height="0.9" fill="#7f98e4" opacity="0.6"/>
<rect x="456.0" y="82.1" width="0.9" height="0.9" fill="#7f98e4" opacity="0.6"/>
<rect x="483.3" y="86.8" width="0.9" height="0.9" fill="#7f98e4" opacity="0.6"/>
<rect x="460.1" y="97.5" width="0.9" height="0.9" fill="#7f98e4" opacity="0.6"/>
<rect x="460.0" y="100.9" width="0.9" height="0.9" fill="#7f98e4" opacity="0.6"/>
<rect x="452.3" y="96.4" width="0.9" height="0.9" fill="#7f98e4" opacity="0.6"/>
<rect x="452.2" y="105.9" width="0.9" height="0.9" fill="#7f98e4" opacity="0.6"/>
<rect x="461.7" y="100.7" width="0.9" height="0.9" fill="#7f98e4" opacity="0.6"/>
<rect x="477.1" y="83.6" width="0.9" height="0.9" fill="#7f98e4" opacity="0.6"/>
<rect x="461.9" y="98.5" width="0.9" height="0.9" fill="#7f98e4" opacity="0.6"/>
<rect x="464.5" y="93.1" width="0.9" height="0.9" fill="#7f98e4" opacity="0.6"/>
<rect x="471.9" y="96.6" width="0.9" height="0.9" fill="#7f98e4" opacity="0.6"/>
<rect x="458.4" y="94.9" width="0.9" height="0.9" fill="#7f98e4" opacity="0.6"/>
<rect x="470.1" y="93.3" width="0.9" height="0.9" fill="#7f98e4" opacity="0.6"/>
<rect x="465.3" y="87.5" width="0.9" height="0.9" fill="#7f98e4" opacity="0.6"/>
<rect x="480.5" y="87.8" width="0.9" height="0.9" fill="#7f98e4" opacity="0.6"/>
<rect x="466.5" y="93.1" width="0.9" height="0.9" fill="#7f98e4" opacity="0.6"/>
<rect x="464.6" y="94.6" width="0.9" height="0.9" fill="#7f98e4" opacity="0.6"/>
<rect x="456.1" y="98.4" width="0.9" height="0.9" fill="#7f98e4" opacity="0.6"/>
<rect x="475.3" y="92.8" width="0.9" height="0.9" fill="#7f98e4" opacity="0.6"/>
<rect x="470.8" y="94.6" width="0.9" height="0.9" fill="#7f98e4" opacity="0.6"/>
<rect x="464.3" y="103.8" width="0.9" height="0.9" fill="#7f98e4" opacity="0.6"/>
<rect x="457.6" y="98.0" width="0.9" height="0.9" fill="#7f98e4" opacity="0.6"/>
<rect x="473.7" y="92.7" width="0.9" height="0.9" fill="#7f98e4" opacity="0.6"/>
<rect x="454.1" y="91.1" width="0.9" height="0.9" fill="#7f98e4" opacity="0.6"/>
<rect x="478.7" y="84.4" width="0.9" height="0.9" fill="#7f98e4" opacity="0.6"/>
<rect x="464.1" y="96.9" width="0.9" height="0.9" fill="#7f98e4" opacity="0.6"/>
<rect x="464.9" y="84.0" width="0.9" height="0.9" fill="#7f98e4" opacity="0.6"/>
<rect x="446.1" y="98.8" width="0.9" height="0.9" fill="#7f98e4" opacity="0.6"/>
<rect x="456.7" y="94.8" width="0.9" height="0.9" fill="#7f98e4" opacity="0.6"/>
<rect x="464.9" y="94.6" width="0.9" height="0.9" fill="#7f98e4" opacity="0.6"/>
<rect x="451.4" y="88.6" width="0.9" height="0.9" fill="#7f98e4" opacity="0.6"/>
<rect x="472.9" y="87.9" width="0.9" height="0.9" fill="#7f98e4" opacity="0.6"/>
<rect x="452.9" y="86.4" width="0.9" height="0.9" fill="#7f98e4" opacity="0.6"/>
<rect x="469.1" y="85.6" width="0.9" height="0.9" fill="#7f98e4" opacity="0.6"/>
<rect x="454.1" y="100.4" width="0.9" height="0.9" fill="#7f98e4" opacity="0.6"/>
<rect x="466.9" y="96.2" width="0.9" height="0.9" fill="#7f98e4" opacity="0.6"/>
<rect x="452.1" y="81.9" width="0.9" height="0.9" fill="#7f98e4" opacity="0.6"/>
<rect x="454.7" y="95.2" width="0.9" height="0.9" fill="#7f98e4" opacity="0.6"/>
<rect x="457.7" y="100.7" width="0.9" height="0.9" fill="#7f98e4" opacity="0.6"/>
<rect x="467.4" y="87.3" width="0.9" height="0.9" fill="#7f98e4" opacity="0.6"/>
<rect x="469.3" y="91.6" width="0.9" height="0.9" fill="#7f98e4" opacity="0.6"/>
<rect x="459.4" y="101.5" width="0.9" height="0.9" fill="#7f98e4" opacity="0.6"/>
<rect x="448.2" y="104.4" width="0.9" height="0.9" fill="#7f98e4" opacity="0.6"/>
<rect x="474.3" y="79.7" width="0.9" height="0.9" fill="#7f98e4" opacity="0.6"/>
<rect x="462.2" y="93.7" width="0.9" height="0.9" fill="#7f98e4" opacity="0.6"/>
<rect x="453.3" y="94.1" width="0.9" height="0.9" fill="#7f98e4" opacity="0.6"/>
<rect x="456.3" y="96.6" width="0.9" height="0.9" fill="#7f98e4" opacity="0.6"/>
<rect x="458.7" y="83.9" width="0.9" height="0.9" fill="#7f98e4" opacity="0.6"/>
<rect x="475.3" y="95.5" width="0.9" height="0.9" fill="#7f98e4" opacity="0.6"/>
<rect x="456.1" y="101.2" width="0.9" height="0.9" fill="#7f98e4" opacity="0.6"/>
<rect x="483.1" y="79.7" width="0.9" height="0.9" fill="#7f98e4" opacity="0.6"/>
<rect x="460.1" y="92.3" width="0.9" height="0.9" fill="#7f98e4" opacity="0.6"/>
<rect x="469.3" y="90.8" width="0.9" height="0.9" fill="#7f98e4" opacity="0.6"/>
<rect x="450.8" y="104.9" width="0.9" height="0.9" fill="#7f98e4" opacity="0.6"/>
<rect x="460.9" y="98.9" width="0.9" height="0.9" fill="#7f98e4" opacity="0.6"/>
<rect x="485.7" y="83.4" width="0.9" height="0.9" fill="#7f98e4" opacity="0.6"/>
<rect x="460.1" y="100.2" width="0.9" height="0.9" fill="#7f98e4" opacity="0.6"/>
<rect x="463.0" y="97.2" width="0.9" height="0.9" fill="#7f98e4" opacity="0.6"/>
<rect x="464.0" y="109.4" width="0.9" height="0.9" fill="#7f98e4" opacity="0.6"/>
<rect x="470.0" y="94.1" width="0.9" height="0.9" fill="#7f98e4" opacity="0.6"/>
<rect x="465.2" y="95.8" width="0.9" height="0.9" fill="#7f98e4" opacity="0.6"/>
<rect x="448.6" y="97.1" width="0.9" height="0.9" fill="#7f98e4" opacity="0.6"/>
<rect x="471.1" y="85.3" width="0.9" height="0.9" fill="#7f98e4" opacity="0.6"/>
<rect x="464.4" y="93.4" width="0.9" height="0.9" fill="#7f98e4" opacity="0.6"/>
<rect x="459.1" y="109.2" width="0.9" height="0.9" fill="#7f98e4" opacity="0.6"/>
<rect x="470.8" y="93.8" width="0.9" height="0.9" fill="#7f98e4" opacity="0.6"/>
<rect x="456.5" y="96.7" width="0.9" height="0.9" fill="#7f98e4" opacity="0.6"/>
<rect x="461.2" y="94.4" width="0.9" height="0.9" fill="#7f98e4" opacity="0.6"/>
<rect x="466.1" y="107.1" width="0.9" height="0.9" fill="#7f98e4" opacity="0.6"/>
<rect x="476.7" y="99.6" width="0.9" height="0.9" fill="#7f98e4" opacity="0.6"/>
<rect x="477.1" y="105.6" width="0.9" height="0.9" fill="#7f98e4" opacity="0.6"/>
<rect x="457.7" y="88.8" width="0.9" height="0.9" fill="#7f98e4" opacity="0.6"/>
<rect x="466.0" y="94.8" width="0.9" height="0.9" fill="#7f98e4" opacity="0.6"/>
<rect x="464.4" y="90.5" width="0.9" height="0.9" fill="#7f98e4" opacity="0.6"/>
<rect x="470.5" y="101.5" width="0.9" height="0.9" fill="#7f98e4" opacity="0.6"/>
<rect x="466.1" y="92.1" width="0.9" height="0.9" fill="#7f98e4" opacity="0.6"/>
<rect x="475.4" y="88.9" width="0.9" height="0.9" fill="#7f98e4" opacity="0.6"/>
<rect x="460.7" y="96.8" width="0.9" height="0.9" fill="#7f98e4" opacity="0.6"/>
<rect x="442.3" y="110.9" width="0.9" height="0.9" fill="#7f98e4" opacity="0.6"/>
<rect x="463.0" y="97.2" width="0.9" height="0.9" fill="#7f98e4" opacity="0.6"/>
<rect x="467.0" y="95.4" width="0.9" height="0.9" fill="#7f98e4" opacity="0.6"/>
<rect x="451.3" y="107.6" width="0.9" height="0.9" fill="#7f98e4" opacity="0.6"/>
<rect x="469.5" y="94.0" width="0.9" height="0.9" fill="#7f98e4" opacity="0.6"/>
<rect x="494.0" y="78.1" width="0.9" height="0.9" fill="#7f98e4" opacity="0.6"/>
<rect x="471.1" y="91.4" width="0.9" height="0.9" fill="#7f98e4" opacity="0.6"/>
<rect x="449.8" y="109.0" width="0.9" height="0.9" fill="#7f98e4" opacity="0.6"/>
<rect x="449.3" y="99.2" width="0.9" height="0.9" fill="#7f98e4" opacity="0.6"/>
<rect x="463.2" y="95.3" width="0.9" height="0.9" fill="#7f98e4" opacity="0.6"/>
<rect x="455.1" y="104.2" width="0.9" height="0.9" fill="#7f98e4" opacity="0.6"/>
<rect x="466.5" y="86.3" width="0.9" height="0.9" fill="#7f98e4" opacity="0.6"/>
<rect x="452.5" y="99.0" width="0.9" height="0.9" fill="#7f98e4" opacity="0.6"/>
<rect x="453.0" y="99.7" width="0.9" height="0.9" fill="#7f98e4" opacity="0.6"/>
<rect x="467.2" y="89.9" width="0.9" height="0.9" fill="#7f98e4" opacity="0.6"/>
<rect x="445.7" y="92.4" width="0.9" height="0.9" fill="#7f98e4" opacity="0.6"/>
<rect x="467.5" y="90.1" width="0.9" height="0.9" fill="#7f98e4" opacity="0.6"/>
<rect x="481.7" y="86.3" width="0.9" height="0.9" fill="#7f98e4" opacity="0.6"/>
<rect x="467.7" y="96.7" width="0.9" height="0.9" fill="#7f98e4" opacity="0.6"/>
<rect x="464.9" y="95.5" width="0.9" height="0.9" fill="#7f98e4" opacity="0.6"/>
<rect x="473.7" y="90.3" width="0.9" height="0.9" fill="#7f98e4" opacity="0.6"/>
<rect x="467.3" y="91.1" width="0.9" height="0.9" fill="#7f98e4" opacity="0.6"/>
<rect x="483.1" y="89.2" width="0.9" height="0.9" fill="#7f98e4" opacity="0.6"/>
<rect x="472.0" y="75.2" width="0.9" height="0.9" fill="#7f98e4" opacity="0.6"/>
<rect x="459.4" y="89.2" width="0.9" height="0.9" fill="#7f98e4" opacity="0.6"/>
<rect x="464.4" y="91.5" width="0.9" height="0.9" fill="#7f98e4" opacity="0.6"/>
<rect x="454.1" y="95.5" width="0.9" height="0.9" fill="#7f98e4" opacity="0.6"/>
<rect x="471.8" y="97.6" width="0.9" height="0.9" fill="#7f98e4" opacity="0.6"/>
<rect x="459.0" y="101.4" width="0.9" height="0.9" fill="#7f98e4" opacity="0.6"/>
<rect x="458.2" y="99.2" width="0.9" height="0.9" fill="#7f98e4" opacity="0.6"/>
<rect x="455.9" y="102.2" width="0.9" height="0.9" fill="#7f98e4" opacity="0.6"/>
<rect x="486.1" y="85.8" width="0.9" height="0.9" fill="#7f98e4" opacity="0.6"/>
<rect x="475.7" y="82.5" width="0.9" height="0.9" fill="#7f98e4" opacity="0.6"/>
<rect x="458.0" y="110.5" width="0.9" height="0.9" fill="#7f98e4" opacity="0.6"/>
<rect x="463.4" y="97.0" width="0.9" height="0.9" fill="#7f98e4" opacity="0.6"/>
<rect x="448.6" y="98.6" width="0.9" height="0.9" fill="#7f98e4" opacity="0.6"/>
<rect x="456.6" y="102.9" width="0.9" height="0.9" fill="#7f98e4" opacity="0.6"/>
<rect x="459.0" y="109.6" width="0.9" height="0.9" fill="#7f98e4" opacity="0.6"/>
<rect x="453.6" y="98.9" width="0.9" height="0.9" fill="#7f98e4" opacity="0.6"/>
<rect x="445.0" y="97.5" width="0.9" height="0.9" fill="#7f98e4" opacity="0.6"/>
<rect x="475.6" y="89.9" width="0.9" height="0.9" fill="#7f98e4" opacity="0.6"/>
<rect x="451.7" y="100.4" width="0.9" height="0.9" fill="#7f98e4" opacity="0.6"/>
<rect x="473.1" y="93.7" width="0.9" height="0.9" fill="#7f98e4" opacity="0.6"/>
<rect x="473.5" y="83.4" width="0.9" height="0.9" fill="#7f98e4" opacity="0.6"/>
<rect x="481.4" y="92.7" width="0.9" height="0.9" fill="#7f98e4" opacity="0.6"/>
<rect x="444.0" y="110.3" width="0.9" height="0.9" fill="#7f98e4" opacity="0.6"/>
<rect x="459.6" y="98.2" width="0.9" height="0.9" fill="#7f98e4" opacity="0.6"/>
<rect x="445.2" y="96.2" width="0.9" height="0.9" fill="#7f98e4" opacity="0.6"/>
<rect x="446.7" y="103.8" width="0.9" height="0.9" fill="#7f98e4" opacity="0.6"/>
<rect x="461.8" y="89.6" width="0.9" height="0.9" fill="#7f98e4" opacity="0.6"/>
<rect x="460.5" y="101.3" width="0.9" height="0.9" fill="#7f98e4" opacity="0.6"/>
<rect x="456.6" y="99.4" width="0.9" height="0.9" fill="#7f98e4" opacity="0.6"/>
<rect x="452.8" y="88.2" width="0.9" height="0.9" fill="#7f98e4" opacity="0.6"/>
<rect x="459.4" y="93.8" width="0.9" height="0.9" fill="#7f98e4" opacity="0.6"/>
<rect x="465.7" y="98.7" width="0.9" height="0.9" fill="#7f98e4" opacity="0.6"/>
<rect x="460.1" y="93.2" width="0.9" height="0.9" fill="#7f98e4" opacity="0.6"/>
<rect x="471.3" y="94.2" width="0.9" height="0.9" fill="#7f98e4" opacity="0.6"/>
<rect x="463.5" y="95.5" width="0.9" height="0.9" fill="#7f98e4" opacity="0.6"/>
<rect x="443.2" y="97.2" width="0.9" height="0.9" fill="#7f98e4" opacity="0.6"/>
<rect x="448.8" y="96.6" width="0.9" height="0.9" fill="#7f98e4" opacity="0.6"/>
<rect x="472.6" y="82.2" width="0.9" height="0.9" fill="#7f98e4" opacity="0.6"/>
<rect x="472.8" y="88.3" width="0.9" height="0.9" fill="#7f98e4" opacity="0.6"/>
<rect x="462.0" y="92.1" width="0.9" height="0.9" fill="#7f98e4" opacity="0.6"/>
<rect x="470.8" y="88.3" width="0.9" height="0.9" fill="#7f98e4" opacity="0.6"/>
<rect x="444.3" y="101.7" width="0.9" height="0.9" fill="#7f98e4" opacity="0.6"/>
<rect x="462.6" y="97.9" width="0.9" height="0.9" fill="#7f98e4" opacity="0.6"/>
<rect x="469.7" y="85.6" width="0.9" height="0.9" fill="#7f98e4" opacity="0.6"/>
<rect x="466.0" y="94.1" width="0.9" height="0.9" fill="#7f98e4" opacity="0.6"/>
<rect x="463.3" y="94.7" width="0.9" height="0.9" fill="#7f98e4" opacity="0.6"/>
<rect x="467.0" y="90.1" width="0.9" height="0.9" fill="#7f98e4" opacity="0.6"/>
<rect x="462.6" y="99.8" width="0.9" height="0.9" fill="#7f98e4" opacity="0.6"/>
<rect x="453.9" y="96.6" width="0.9" height="0.9" fill="#7f98e4" opacity="0.6"/>
<rect x="454.4" y="91.0" width="0.9" height="0.9" fill="#7f98e4" opacity="0.6"/>
<rect x="460.0" y="96.2" width="0.9" height="0.9" fill="#7f98e4" opacity="0.6"/>
<rect x="478.4" y="88.6" width="0.9" height="0.9" fill="#7f98e4" opacity="0.6"/>
<rect x="472.9" y="94.3" width="0.9" height="0.9" fill="#7f98e4" opacity="0.6"/>
<rect x="464.7" y="76.8" width="0.9" height="0.9" fill="#7f98e4" opacity="0.6"/>
<rect x="465.2" y="93.9" width="0.9" height="0.9" fill="#7f98e4" opacity="0.6"/>
<rect x="454.1" y="97.7" width="0.9" height="0.9" fill="#7f98e4" opacity="0.6"/>
<rect x="478.0" y="83.5" width="0.9" height="0.9" fill="#7f98e4" opacity="0.6"/>
<rect x="459.1" y="100.4" width="0.9" height="0.9" fill="#7f98e4" opacity="0.6"/>
<rect x="446.9" y="93.5" width="0.9" height="0.9" fill="#7f98e4" opacity="0.6"/>
<rect x="466.8" y="98.4" width="0.9" height="0.9" fill="#7f98e4" opacity="0.6"/>
<rect x="475.6" y="94.7" width="0.9" height="0.9" fill="#7f98e4" opacity="0.6"/>
<rect x="485.9" y="89.6" width="0.9" height="0.9" fill="#7f98e4" opacity="0.6"/>
<rect x="451.7" y="96.6" width="0.9" height="0.9" fill="#7f98e4" opacity="0.6"/>
<rect x="469.9" y="94.3" width="0.9" height="0.9" fill="#7f98e4" opacity="0.6"/>
<rect x="445.6" y="101.6" width="0.9" height="0.9" fill="#7f98e4" opacity="0.6"/>
<rect x="456.5" y="95.2" width="0.9" height="0.9" fill="#7f98e4" opacity="0.6"/>
<rect x="477.9" y="88.9" width="0.9" height="0.9" fill="#7f98e4" opacity="0.6"/>
<rect x="457.7" y="95.2" width="0.9" height="0.9" fill="#7f98e4" opacity="0.6"/>
<rect x="457.9" y="107.1" width="0.9" height="0.9" fill="#7f98e4" opacity="0.6"/>
<rect x="471.9" y="96.7" width="0.9" height="0.9" fill="#7f98e4" opacity="0.6"/>
<rect x="457.5" y="92.4" width="0.9" height="0.9" fill="#7f98e4" opacity="0.6"/>
<rect x="466.4" y="81.3" width="0.9" height="0.9" fill="#7f98e4" opacity="0.6"/>
<rect x="473.7" y="84.1" width="0.9" height="0.9" fill="#7f98e4" opacity="0.6"/>
<rect x="465.0" y="95.6" width="0.9" height="0.9" fill="#7f98e4" opacity="0.6"/>
<rect x="456.5" y="98.2" width="0.9" height="0.9" fill="#7f98e4" opacity="0.6"/>
<rect x="470.6" y="102.5" width="0.9" height="0.9" fill="#7f98e4" opacity="0.6"/>
<rect x="467.7" y="102.9" width="0.9" height="0.9" fill="#7f98e4" opacity="0.6"/>
<rect x="468.4" y="91.6" width="0.9" height="0.9" fill="#7f98e4" opacity="0.6"/>
<rect x="472.2" y="88.7" width="0.9" height="0.9" fill="#7f98e4" opacity="0.6"/>
<rect x="465.4" y="97.0" width="0.9" height="0.9" fill="#7f98e4" opacity="0.6"/>
<rect x="474.9" y="92.3" width="0.9" height="0.9" fill="#7f98e4" opacity="0.6"/>
<rect x="450.1" y="105.3" width="0.9" height="0.9" fill="#7f98e4" opacity="0.6"/>
<rect x="465.6" y="91.9" width="0.9" height="0.9" fill="#7f98e4" opacity="0.6"/>
<rect x="456.3" y="99.5" width="0.9" height="0.9" fill="#7f98e4" opacity="0.6"/>
<rect x="467.2" y="96.8" width="0.9" height="0.9" fill="#7f98e4" opacity="0.6"/>
<rect x="462.8" y="102.8" width="0.9" height="0.9" fill="#7f98e4" opacity="0.6"/>
<rect x="461.5" y="97.0" width="0.9" height="0.9" fill="#7f98e4" opacity="0.6"/>
<rect x="465.9" y="99.3" width="0.9" height="0.9" fill="#7f98e4" opacity="0.6"/>
<rect x="457.5" y="94.3" width="0.9" height="0.9" fill="#7f98e4" opacity="0.6"/>
<rect x="461.9" y="91.0" width="0.9" height="0.9" fill="#7f98e4" opacity="0.6"/>
<rect x="457.8" y="89.2" width="0.9" height="0.9" fill="#7f98e4" opacity="0.6"/>
<rect x="471.1" y="100.1" width="0.9" height="0.9" fill="#7f98e4" opacity="0.6"/>
<rect x="454.7" y="101.0" width="0.9" height="0.9" fill="#7f98e4" opacity="0.6"/>
<rect x="453.1" y="92.8" width="0.9" height="0.9" fill="#7f98e4" opacity="0.6"/>
<rect x="461.0" y="95.6" width="0.9" height="0.9" fill="#7f98e4" opacity="0.6"/>
<rect x="468.3" y="82.1" width="0.9" height="0.9" fill="#7f98e4" opacity="0.6"/>
<rect x="451.5" y="98.2" width="0.9" height="0.9" fill="#7f98e4" opacity="0.6"/>
<rect x="461.6" y="106.4" width="0.9" height="0.9" fill="#7f98e4" opacity="0.6"/>
<rect x="461.4" y="91.2" width="0.9" height="0.9" fill="#7f98e4" opacity="0.6"/>
<rect x="475.4" y="75.9" width="0.9" height="0.9" fill="#7f98e4" opacity="0.6"/>
<rect x="446.3" y="114.2" width="0.9" height="0.9" fill="#7f98e4" opacity="0.6"/>
<rect x="458.1" y="96.1" width="0.9" height="0.9" fill="#7f98e4" opacity="0.6"/>
<rect x="462.2" y="89.6" width="0.9" height="0.9" fill="#7f98e4" opacity="0.6"/>
<rect x="462.6" y="87.2" width="0.9" height="0.9" fill="#7f98e4" opacity="0.6"/>
<rect x="473.1" y="95.5" width="0.9" height="0.9" fill="#7f98e4" opacity="0.6"/>
<rect x="470.4" y="87.0" width="0.9" height="0.9" fill="#7f98e4" opacity="0.6"/>
<rect x="445.6" y="96.8" width="0.9" height="0.9" fill="#7f98e4" opacity="0.6"/>
<rect x="453.5" y="99.2" width="0.9" height="0.9" fill="#7f98e4" opacity="0.6"/>
<rect x="448.6" y="93.5" width="0.9" height="0.9" fill="#7f98e4" opacity="0.6"/>
<rect x="465.2" y="96.0" width="0.9" height="0.9" fill="#7f98e4" opacity="0.6"/>
<rect x="464.8" y="86.8" width="0.9" height="0.9" fill="#7f98e4" opacity="0.6"/>
<rect x="457.5" y="106.9" width="0.9" height="0.9" fill="#7f98e4" opacity="0.6"/>
<rect x="472.9" y="86.8" width="0.9" height="0.9" fill="#7f98e4" opacity="0.6"/>
<rect x="482.0" y="87.8" width="0.9" height="0.9" fill="#7f98e4" opacity="0.6"/>
<rect x="463.9" y="89.5" width="0.9" height="0.9" fill="#7f98e4" opacity="0.6"/>
<rect x="478.3" y="90.3" width="0.9" height="0.9" fill="#7f98e4" opacity="0.6"/>
<rect x="463.2" y="89.2" width="0.9" height="0.9" fill="#7f98e4" opacity="0.6"/>
<rect x="451.8" y="98.6" width="0.9" height="0.9" fill="#7f98e4" opacity="0.6"/>
<rect x="464.0" y="102.5" width="0.9" height="0.9" fill="#7f98e4" opacity="0.6"/>
<rect x="455.3" y="94.5" width="0.9" height="0.9" fill="#7f98e4" opacity="0.6"/>
<rect x="473.3" y="95.6" width="0.9" height="0.9" fill="#7f98e4" opacity="0.6"/>
<rect x="457.5" y="103.9" width="0.9" height="0.9" fill="#7f98e4" opacity="0.6"/>
<rect x="468.5" y="97.5" width="0.9" height="0.9" fill="#7f98e4" opacity="0.6"/>
<rect x="467.2" y="98.3" width="0.9" height="0.9" fill="#7f98e4" opacity="0.6"/>
<rect x="460.0" y="94.0" width="0.9" height="0.9" fill="#7f98e4" opacity="0.6"/>
<rect x="474.3" y="93.1" width="0.9" height="0.9" fill="#7f98e4" opacity="0.6"/>
<rect x="467.4" y="99.2" width="0.9" height="0.9" fill="#7f98e4" opacity="0.6"/>
<rect x="466.2" y="95.5" width="0.9" height="0.9" fill="#7f98e4" opacity="0.6"/>
<rect x="443.1" y="97.4" width="0.9" height="0.9" fill="#7f98e4" opacity="0.6"/>
<rect x="471.8" y="86.8" width="0.9" height="0.9" fill="#7f98e4" opacity="0.6"/>
<rect x="461.2" y="96.1" width="0.9" height="0.9" fill="#7f98e4" opacity="0.6"/>
<rect x="462.6" y="99.1" width="0.9" height="0.9" fill="#7f98e4" opacity="0.6"/>
<rect x="468.4" y="91.7" width="0.9" height="0.9" fill="#7f98e4" opacity="0.6"/>
<rect x="474.2" y="88.9" width="0.9" height="0.9" fill="#7f98e4" opacity="0.6"/>
<rect x="457.2" y="97.8" width="0.9" height="0.9" fill="#7f98e4" opacity="0.6"/>
<rect x="469.9" y="91.4" width="0.9" height="0.9" fill="#7f98e4" opacity="0.6"/>
<rect x="453.8" y="94.2" width="0.9" height="0.9" fill="#7f98e4" opacity="0.6"/>
<rect x="466.1" y="97.1" width="0.9" height="0.9" fill="#7f98e4" opacity="0.6"/>
<rect x="480.7" y="88.1" width="0.9" height="0.9" fill="#7f98e4" opacity="0.6"/>
<rect x="461.9" y="82.8" width="0.9" height="0.9" fill="#7f98e4" opacity="0.6"/>
<rect x="476.1" y="95.4" width="0.9" height="0.9" fill="#7f98e4" opacity="0.6"/>
<rect x="464.0" y="90.1" width="0.9" height="0.9" fill="#7f98e4" opacity="0.6"/>
<rect x="439.2" y="105.4" width="0.9" height="0.9" fill="#7f98e4" opacity="0.6"/>
<rect x="456.5" y="104.5" width="0.9" height="0.9" fill="#7f98e4" opacity="0.6"/>
<rect x="471.2" y="98.9" width="0.9" height="0.9" fill="#7f98e4" opacity="0.6"/>
<rect x="462.6" y="100.9" width="0.9" height="0.9" fill="#7f98e4" opacity="0.6"/>
<rect x="450.6" y="106.0" width="0.9" height="0.9" fill="#7f98e4" opacity="0.6"/>
<rect x="463.6" y="87.6" width="0.9" height="0.9" fill="#7f98e4" opacity="0.6"/>
<rect x="460.1" y="89.8" width="0.9" height="0.9" fill="#7f98e4" opacity="0.6"/>
<rect x="466.5" y="89.3" width="0.9" height="0.9" fill="#7f98e4" opacity="0.6"/>
<rect x="451.9" y="95.6" width="0.9" height="0.9" fill="#7f98e4" opacity="0.6"/>
<rect x="461.8" y="95.8" width="0.9" height="0.9" fill="#7f98e4" opacity="0.6"/>
<rect x="470.5" y="98.9" width="0.9" height="0.9" fill="#7f98e4" opacity="0.6"/>
<rect x="467.8" y="101.8" width="0.9" height="0.9" fill="#7f98e4" opacity="0.6"/>
<rect x="440.5" y="100.6" width="0.9" height="0.9" fill="#7f98e4" opacity="0.6"/>
<rect x="472.8" y="84.1" width="0.9" height="0.9" fill="#7f98e4" opacity="0.6"/>
<rect x="462.0" y="95.8" width="0.9" height="0.9" fill="#7f98e4" opacity="0.6"/>
<rect x="449.3" y="95.2" width="0.9" height="0.9" fill="#7f98e4" opacity="0.6"/>
<rect x="469.6" y="90.6" width="0.9" height="0.9" fill="#7f98e4" opacity="0.6"/>
<rect x="478.5" y="102.6" width="0.9" height="0.9" fill="#7f98e4" opacity="0.6"/>
<rect x="463.3" y="87.9" width="0.9" height="0.9" fill="#7f98e4" opacity="0.6"/>
<rect x="463.6" y="91.0" width="0.9" height="0.9" fill="#7f98e4" opacity="0.6"/>
<rect x="450.4" y="95.8" width="0.9" height="0.9" fill="#7f98e4" opacity="0.6"/>
<rect x="459.5" y="93.4" width="0.9" height="0.9" fill="#7f98e4" opacity="0.6"/>
<rect x="472.7" y="97.2" width="0.9" height="0.9" fill="#7f98e4" opacity="0.6"/>
<rect x="467.9" y="90.8" width="0.9" height="0.9" fill="#7f98e4" opacity="0.6"/>
<rect x="467.9" y="92.9" width="0.9" height="0.9" fill="#7f98e4" opacity="0.6"/>
<rect x="466.1" y="88.0" width="0.9" height="0.9" fill="#7f98e4" opacity="0.6"/>
<rect x="434.8" y="107.6" width="0.9" height="0.9" fill="#7f98e4" opacity="0.6"/>
<rect x="458.3" y="92.9" width="0.9" height="0.9" fill="#7f98e4" opacity="0.6"/>
<rect x="463.8" y="93.7" width="0.9" height="0.9" fill="#7f98e4" opacity="0.6"/>
<rect x="461.1" y="103.2" width="0.9" height="0.9" fill="#7f98e4" opacity="0.6"/>
<rect x="465.2" y="94.9" width="0.9" height="0.9" fill="#7f98e4" opacity="0.6"/>
<rect x="455.6" y="96.0" width="0.9" height="0.9" fill="#7f98e4" opacity="0.6"/>
<rect x="468.3" y="92.2" width="0.9" height="0.9" fill="#7f98e4" opacity="0.6"/>
<rect x="467.0" y="87.9" width="0.9" height="0.9" fill="#7f98e4" opacity="0.6"/>
<rect x="467.5" y="87.3" width="0.9" height="0.9" fill="#7f98e4" opacity="0.6"/>
<rect x="459.8" y="91.0" width="0.9" height="0.9" fill="#7f98e4" opacity="0.6"/>
<rect x="465.7" y="99.5" width="0.9" height="0.9" fill="#7f98e4" opacity="0.6"/>
<rect x="466.7" y="88.4" width="0.9" height="0.9" fill="#7f98e4" opacity="0.6"/>
<rect x="465.2" y="99.3" width="0.9" height="0.9" fill="#7f98e4" opacity="0.6"/>
<rect x="470.8" y="94.7" width="0.9" height="0.9" fill="#7f98e4" opacity="0.6"/>
<rect x="453.3" y="94.2" width="0.9" height="0.9" fill="#7f98e4" opacity="0.6"/>
<rect x="457.6" y="93.3" width="0.9" height="0.9" fill="#7f98e4" opacity="0.6"/>
<rect x="466.2" y="93.5" width="0.9" height="0.9" fill="#7f98e4" opacity="0.6"/>
<rect x="460.7" y="98.1" width="0.9" height="0.9" fill="#7f98e4" opacity="0.6"/>
<rect x="457.2" y="94.2" width="0.9" height="0.9" fill="#7f98e4" opacity="0.6"/>
<rect x="465.0" y="86.3" width="0.9" height="0.9" fill="#7f98e4" opacity="0.6"/>
<rect x="455.9" y="88.8" width="0.9" height="0.9" fill="#7f98e4" opacity="0.6"/>
<rect x="454.1" y="96.2" width="0.9" height="0.9" fill="#7f98e4" opacity="0.6"/>
<rect x="462.8" y="96.2" width="0.9" height="0.9" fill="#7f98e4" opacity="0.6"/>
<rect x="467.1" y="86.8" width="0.9" height="0.9" fill="#7f98e4" opacity="0.6"/>
<rect x="481.6" y="96.1" width="0.9" height="0.9" fill="#7f98e4" opacity="0.6"/>
<rect x="452.4" y="93.7" width="0.9" height="0.9" fill="#7f98e4" opacity="0.6"/>
<rect x="459.4" y="96.4" width="0.9" height="0.9" fill="#7f98e4" opacity="0.6"/>
<rect x="469.8" y="92.3" width="0.9" height="0.9" fill="#7f98e4" opacity="0.6"/>
<rect x="439.8" y="116.9" width="0.9" height="0.9" fill="#7f98e4" opacity="0.6"/>
<rect x="472.0" y="96.1" width="0.9" height="0.9" fill="#7f98e4" opacity="0.6"/>
<rect x="456.9" y="96.7" width="0.9" height="0.9" fill="#7f98e4" opacity="0.6"/>
<rect x="472.7" y="88.8" width="0.9" height="0.9" fill="#7f98e4" opacity="0.6"/>
<rect x="474.7" y="91.2" width="0.9" height="0.9" fill="#7f98e4" opacity="0.6"/>
<rect x="478.9" y="89.8" width="0.9" height="0.9" fill="#7f98e4" opacity="0.6"/>
<rect x="478.0" y="81.0" width="0.9" height="0.9" fill="#7f98e4" opacity="0.6"/>
<rect x="477.6" y="92.4" width="0.9" height="0.9" fill="#7f98e4" opacity="0.6"/>
<rect x="460.4" y="100.9" width="0.9" height="0.9" fill="#7f98e4" opacity="0.6"/>
<rect x="461.5" y="99.2" width="0.9" height="0.9" fill="#7f98e4" opacity="0.6"/>
<rect x="472.9" y="97.0" width="0.9" height="0.9" fill="#7f98e4" opacity="0.6"/>
<rect x="484.8" y="95.3" width="0.9" height="0.9" fill="#7f98e4" opacity="0.6"/>
<rect x="487.6" y="90.8" width="0.9" height="0.9" fill="#7f98e4" opacity="0.6"/>
<rect x="465.4" y="95.7" width="0.9" height="0.9" fill="#7f98e4" opacity="0.6"/>
<rect x="463.6" y="87.4" width="0.9" height="0.9" fill="#7f98e4" opacity="0.6"/>
<rect x="465.3" y="87.1" width="0.9" height="0.9" fill="#7f98e4" opacity="0.6"/>
<rect x="461.3" y="93.1" width="0.9" height="0.9" fill="#7f98e4" opacity="0.6"/>
<rect x="458.8" y="89.7" width="0.9" height="0.9" fill="#7f98e4" opacity="0.6"/>
<rect x="465.0" y="93.5" width="0.9" height="0.9" fill="#7f98e4" opacity="0.6"/>
<rect x="477.0" y="93.5" width="0.9" height="0.9" fill="#7f98e4" opacity="0.6"/>
<rect x="472.9" y="88.8" width="0.9" height="0.9" fill="#7f98e4" opacity="0.6"/>
<rect x="461.0" y="88.0" width="0.9" height="0.9" fill="#7f98e4" opacity="0.6"/>
<rect x="455.8" y="100.4" width="0.9" height="0.9" fill="#7f98e4" opacity="0.6"/>
<rect x="462.2" y="93.8" width="0.9" height="0.9" fill="#7f98e4" opacity="0.6"/>
<rect x="458.7" y="104.1" width="0.9" height="0.9" fill="#7f98e4" opacity="0.6"/>
<rect x="463.5" y="100.4" width="0.9" height="0.9" fill="#7f98e4" opacity="0.6"/>
<rect x="463.6" y="99.3" width="0.9" height="0.9" fill="#7f98e4" opacity="0.6"/>
<rect x="454.8" y="89.4" width="0.9" height="0.9" fill="#7f98e4" opacity="0.6"/>
<rect x="474.4" y="89.2" width="0.9" height="0.9" fill="#7f98e4" opacity="0.6"/>
<rect x="466.5" y="98.0" width="0.9" height="0.9" fill="#7f98e4" opacity="0.6"/>
<rect x="470.6" y="93.5" width="0.9" height="0.9" fill="#7f98e4" opacity="0.6"/>
<rect x="452.7" y="93.5" width="0.9" height="0.9" fill="#7f98e4" opacity="0.6"/>
<rect x="464.3" y="97.4" width="0.9" height="0.9" fill="#7f98e4" opacity="0.6"/>
<rect x="468.9" y="94.5" width="0.9" height="0.9" fill="#7f98e4" opacity="0.6"/>
<rect x="456.7" y="96.2" width="0.9" height="0.9" fill="#7f98e4" opacity="0.6"/>
<rect x="473.1" y="86.5" width="0.9" height="0.9" fill="#7f98e4" opacity="0.6"/>
<rect x="458.6" y="100.6" width="0.9" height="0.9" fill="#7f98e4" opacity="0.6"/>
<rect x="479.0" y="91.7" width="0.9" height="0.9" fill="#7f98e4" opacity="0.6"/>
<rect x="464.1" y="88.8" width="0.9" height="0.9" fill="#7f98e4" opacity="0.6"/>
<rect x="462.8" y="90.0" width="0.9" height="0.9" fill="#7f98e4" opacity="0.6"/>
<rect x="465.3" y="97.5" width="0.9" height="0.9" fill="#7f98e4" opacity="0.6"/>
<rect x="468.3" y="99.8" width="0.9" height="0.9" fill="#7f98e4" opacity="0.6"/>
<rect x="454.4" y="90.0" width="0.9" height="0.9" fill="#7f98e4" opacity="0.6"/>
<rect x="476.9" y="95.8" width="0.9" height="0.9" fill="#7f98e4" opacity="0.6"/>
<rect x="454.8" y="97.5" width="0.9" height="0.9" fill="#7f98e4" opacity="0.6"/>
<rect x="453.9" y="96.9" width="0.9" height="0.9" fill="#7f98e4" opacity="0.6"/>
<rect x="466.9" y="98.4" width="0.9" height="0.9" fill="#7f98e4" opacity="0.6"/>
<rect x="454.9" y="89.8" width="0.9" height="0.9" fill="#7f98e4" opacity="0.6"/>
<rect x="469.4" y="90.5" width="0.9" height="0.9" fill="#7f98e4" opacity="0.6"/>
<rect x="477.2" y="83.8" width="0.9" height="0.9" fill="#7f98e4" opacity="0.6"/>
<rect x="457.9" y="80.9" width="0.9" height="0.9" fill="#7f98e4" opacity="0.6"/>
<rect x="474.7" y="98.1" width="0.9" height="0.9" fill="#7f98e4" opacity="0.6"/>
<g filter="url(#bl05)">
<ellipse cx="442.40" cy="92.80" rx="3.3" ry="13" fill="#5a80ea" opacity="0.75"/>
<ellipse cx="442.40" cy="94.30" rx="3.0" ry="10.5" fill="#3a94f0" opacity="1"/>
<ellipse cx="442.40" cy="95.10" rx="2.6" ry="8" fill="#20bce8" opacity="1"/>
<ellipse cx="442.40" cy="95.50" rx="2.1" ry="5.6" fill="#38d8b0" opacity="1"/>
<ellipse cx="442.40" cy="95.70" rx="1.6" ry="3.8" fill="#80e060" opacity="1"/>
<ellipse cx="442.40" cy="95.70" rx="1.1" ry="2.4" fill="#e0e830" opacity="1"/>
<ellipse cx="442.40" cy="95.70" rx="0.6" ry="1.2" fill="#f0a020" opacity="1"/>
</g>
<rect x="445.70" y="72.90" width="49.90" height="32.20" fill="none" stroke="#555" stroke-width="0.9"/>
<text x="470.8" y="118.2" font-size="7.7" text-anchor="middle" fill="#222" >16.0%</text>
<text x="371.2" y="148.5" font-size="8.6" text-anchor="middle" textLength="19.2" lengthAdjust="spacingAndGlyphs" fill="#222" >CD107</text>
<line x1="51.80" y1="181.50" x2="51.80" y2="253.00" stroke="#000" stroke-width="1.3" />
<line x1="51.20" y1="252.40" x2="230.50" y2="252.40" stroke="#000" stroke-width="1.3" />
<line x1="48.40" y1="252.40" x2="51.80" y2="252.40" stroke="#000" stroke-width="1.1" />
<text x="44.9" y="254.9" font-size="7.4" text-anchor="end" textLength="4.2" lengthAdjust="spacingAndGlyphs" fill="#333" >0</text>
<line x1="48.40" y1="234.90" x2="51.80" y2="234.90" stroke="#000" stroke-width="1.1" />
<text x="44.9" y="237.4" font-size="7.4" text-anchor="end" textLength="13.4" lengthAdjust="spacingAndGlyphs" fill="#333" >100</text>
<line x1="48.40" y1="217.40" x2="51.80" y2="217.40" stroke="#000" stroke-width="1.1" />
<text x="44.9" y="219.9" font-size="7.4" text-anchor="end" textLength="13.4" lengthAdjust="spacingAndGlyphs" fill="#333" >200</text>
<line x1="48.40" y1="199.90" x2="51.80" y2="199.90" stroke="#000" stroke-width="1.1" />
<text x="44.9" y="202.4" font-size="7.4" text-anchor="end" textLength="13.4" lengthAdjust="spacingAndGlyphs" fill="#333" >300</text>
<line x1="48.40" y1="182.40" x2="51.80" y2="182.40" stroke="#000" stroke-width="1.1" />
<text x="44.9" y="184.9" font-size="7.4" text-anchor="end" textLength="13.4" lengthAdjust="spacingAndGlyphs" fill="#333" >400</text>
<text transform="translate(24.4,215.6) rotate(-90)" font-size="8.2" text-anchor="middle" textLength="38" lengthAdjust="spacingAndGlyphs" fill="#222">IFN-&#947; pg/ml</text>
<rect x="59.00" y="179.80" width="7.60" height="4.40" fill="#6baee0" />
<text x="70.5" y="184.00" font-size="7.8" fill="#333">WT</text>
<rect x="59.00" y="190.50" width="7.60" height="4.40" fill="#6cae45" />
<text x="70.5" y="194.70" font-size="7.8" fill="#333"><tspan font-style="italic">B*40:02</tspan><tspan font-style="italic" font-size="5.4" dy="-2.6">mut</tspan></text>
<rect x="59.00" y="201.20" width="7.60" height="4.40" fill="#b01535" />
<text x="70.5" y="205.40" font-size="7.8" fill="#333">6pLOH(+)</text>
<line x1="59.60" y1="238.15" x2="64.20" y2="238.15" stroke="#2e5f8e" stroke-width="1.0" />
<rect x="57.30" y="238.75" width="9.20" height="13.05" fill="#6baee0" />
<line x1="71.45" y1="238.15" x2="76.05" y2="238.15" stroke="#35651f" stroke-width="1.0" />
<rect x="69.15" y="238.75" width="9.20" height="13.05" fill="#6cae45" />
<line x1="83.30" y1="238.15" x2="87.90" y2="238.15" stroke="#62081c" stroke-width="1.0" />
<rect x="81.00" y="238.75" width="9.20" height="13.05" fill="#b01535" />
<line x1="106.60" y1="224.23" x2="106.60" y2="229.12" stroke="#2e5f8e" stroke-width="1.2" />
<line x1="104.20" y1="224.23" x2="109.00" y2="224.23" stroke="#2e5f8e" stroke-width="1.3" />
<rect x="102.00" y="229.12" width="9.20" height="22.68" fill="#6baee0" />
<line x1="116.15" y1="237.98" x2="120.75" y2="237.98" stroke="#35651f" stroke-width="1.0" />
<rect x="113.85" y="238.58" width="9.20" height="13.22" fill="#6cae45" />
<line x1="130.30" y1="236.83" x2="130.30" y2="238.05" stroke="#62081c" stroke-width="1.2" />
<line x1="127.90" y1="236.83" x2="132.70" y2="236.83" stroke="#62081c" stroke-width="1.3" />
<rect x="125.70" y="238.05" width="9.20" height="13.75" fill="#b01535" />
<line x1="151.00" y1="208.48" x2="151.00" y2="218.45" stroke="#2e5f8e" stroke-width="1.2" />
<line x1="148.60" y1="208.48" x2="153.40" y2="208.48" stroke="#2e5f8e" stroke-width="1.3" />
<rect x="146.40" y="218.45" width="9.20" height="33.35" fill="#6baee0" />
<line x1="162.85" y1="227.73" x2="162.85" y2="231.93" stroke="#35651f" stroke-width="1.2" />
<line x1="160.45" y1="227.73" x2="165.25" y2="227.73" stroke="#35651f" stroke-width="1.3" />
<rect x="158.25" y="231.93" width="9.20" height="19.87" fill="#6cae45" />
<line x1="174.70" y1="233.50" x2="174.70" y2="235.43" stroke="#62081c" stroke-width="1.2" />
<line x1="172.30" y1="233.50" x2="177.10" y2="233.50" stroke="#62081c" stroke-width="1.3" />
<rect x="170.10" y="235.43" width="9.20" height="16.37" fill="#b01535" />
<line x1="195.60" y1="193.78" x2="195.60" y2="197.98" stroke="#2e5f8e" stroke-width="1.2" />
<line x1="193.20" y1="193.78" x2="198.00" y2="193.78" stroke="#2e5f8e" stroke-width="1.3" />
<rect x="191.00" y="197.98" width="9.20" height="53.82" fill="#6baee0" />
<line x1="207.45" y1="218.98" x2="207.45" y2="222.48" stroke="#35651f" stroke-width="1.2" />
<line x1="205.05" y1="218.98" x2="209.85" y2="218.98" stroke="#35651f" stroke-width="1.3" />
<rect x="202.85" y="222.48" width="9.20" height="29.32" fill="#6cae45" />
<line x1="217.00" y1="230.80" x2="221.60" y2="230.80" stroke="#62081c" stroke-width="1.0" />
<rect x="214.70" y="231.40" width="9.20" height="20.40" fill="#b01535" />
<text x="150.9" y="206.0" font-size="8" text-anchor="middle" fill="#222" >*</text>
<text x="195.6" y="192.3" font-size="8" text-anchor="middle" fill="#222" >*</text>
<text x="72.3" y="266.4" font-size="7.2" text-anchor="middle" fill="#333" >1:0</text>
<line x1="72.60" y1="252.40" x2="72.60" y2="255.80" stroke="#000" stroke-width="1.1" />
<text x="117.6" y="266.4" font-size="7.2" text-anchor="middle" fill="#333" >1:1</text>
<line x1="117.90" y1="252.40" x2="117.90" y2="255.80" stroke="#000" stroke-width="1.1" />
<text x="162.5" y="266.4" font-size="7.2" text-anchor="middle" fill="#333" >2:1</text>
<line x1="162.80" y1="252.40" x2="162.80" y2="255.80" stroke="#000" stroke-width="1.1" />
<text x="207.4" y="266.4" font-size="7.2" text-anchor="middle" fill="#333" >10:1</text>
<line x1="207.70" y1="252.40" x2="207.70" y2="255.80" stroke="#000" stroke-width="1.1" />
<text x="141.1" y="279.2" font-size="9.6" text-anchor="middle" textLength="65" lengthAdjust="spacingAndGlyphs" fill="#222" >Effector : Target ratio</text>
<line x1="314.70" y1="176.70" x2="314.70" y2="253.10" stroke="#000" stroke-width="1.3" />
<line x1="314.10" y1="252.50" x2="493.50" y2="252.50" stroke="#000" stroke-width="1.3" />
<line x1="311.00" y1="252.50" x2="314.70" y2="252.50" stroke="#000" stroke-width="1.1" />
<text x="308.0" y="255.0" font-size="7.4" text-anchor="end" textLength="4.3" lengthAdjust="spacingAndGlyphs" fill="#333" >0</text>
<line x1="311.00" y1="237.43" x2="314.70" y2="237.43" stroke="#000" stroke-width="1.1" />
<text x="308.0" y="239.93" font-size="7.4" text-anchor="end" textLength="9.5" lengthAdjust="spacingAndGlyphs" fill="#333" >10</text>
<line x1="311.00" y1="222.36" x2="314.70" y2="222.36" stroke="#000" stroke-width="1.1" />
<text x="308.0" y="224.86" font-size="7.4" text-anchor="end" textLength="9.5" lengthAdjust="spacingAndGlyphs" fill="#333" >20</text>
<line x1="311.00" y1="207.29" x2="314.70" y2="207.29" stroke="#000" stroke-width="1.1" />
<text x="308.0" y="209.79000000000002" font-size="7.4" text-anchor="end" textLength="9.5" lengthAdjust="spacingAndGlyphs" fill="#333" >30</text>
<line x1="311.00" y1="192.22" x2="314.70" y2="192.22" stroke="#000" stroke-width="1.1" />
<text x="308.0" y="194.72" font-size="7.4" text-anchor="end" textLength="9.5" lengthAdjust="spacingAndGlyphs" fill="#333" >40</text>
<line x1="311.00" y1="177.15" x2="314.70" y2="177.15" stroke="#000" stroke-width="1.1" />
<text x="308.0" y="179.65" font-size="7.4" text-anchor="end" textLength="9.5" lengthAdjust="spacingAndGlyphs" fill="#333" >50</text>
<text transform="translate(292.2,213) rotate(-90)" font-size="8.6" text-anchor="middle" textLength="54.5" lengthAdjust="spacingAndGlyphs" fill="#222">% of specific lysis</text>
<polyline points="343.70,252.50 402.20,230.05 461.20,191.47" fill="none" stroke="#6baee0" stroke-width="1.6"/>
<line x1="402.20" y1="224.50" x2="402.20" y2="236.50" stroke="#6baee0" stroke-width="1.1" />
<line x1="399.20" y1="224.50" x2="405.20" y2="224.50" stroke="#6baee0" stroke-width="1.1" />
<line x1="399.20" y1="236.50" x2="405.20" y2="236.50" stroke="#6baee0" stroke-width="1.1" />
<circle cx="402.20" cy="230.05" r="1.8" fill="#6baee0"/>
<line x1="461.20" y1="182.20" x2="461.20" y2="199.80" stroke="#6baee0" stroke-width="1.1" />
<line x1="458.20" y1="182.20" x2="464.20" y2="182.20" stroke="#6baee0" stroke-width="1.1" />
<line x1="458.20" y1="199.80" x2="464.20" y2="199.80" stroke="#6baee0" stroke-width="1.1" />
<circle cx="461.20" cy="191.47" r="1.8" fill="#6baee0"/>
<polyline points="343.70,252.50 402.20,247.23 461.20,242.55" fill="none" stroke="#b01535" stroke-width="1.6"/>
<rect x="399.50" y="245.13" width="5.40" height="4.20" fill="#b01535" />
<rect x="458.50" y="240.45" width="5.40" height="4.20" fill="#b01535" />
<polyline points="343.70,252.50 402.20,239.39 461.20,229.44" fill="none" stroke="#6cae45" stroke-width="1.6"/>
<path d="M340.82,254.50 L346.57,254.50 L343.70,249.75 Z" fill="#6f9a58"/>
<line x1="402.20" y1="236.40" x2="402.20" y2="241.80" stroke="#6cae45" stroke-width="1.1" />
<line x1="399.20" y1="236.40" x2="405.20" y2="236.40" stroke="#6cae45" stroke-width="1.1" />
<line x1="399.20" y1="241.80" x2="405.20" y2="241.80" stroke="#6cae45" stroke-width="1.1" />
<path d="M399.90,240.99 L404.50,240.99 L402.20,237.19 Z" fill="#6cae45"/>
<line x1="461.20" y1="224.20" x2="461.20" y2="234.80" stroke="#6cae45" stroke-width="1.1" />
<line x1="458.20" y1="224.20" x2="464.20" y2="224.20" stroke="#6cae45" stroke-width="1.1" />
<line x1="458.20" y1="234.80" x2="464.20" y2="234.80" stroke="#6cae45" stroke-width="1.1" />
<path d="M458.90,231.04 L463.50,231.04 L461.20,227.24 Z" fill="#6cae45"/>
<text x="402.4" y="223.0" font-size="8" text-anchor="middle" fill="#222" >*</text>
<text x="461.2" y="180.8" font-size="8" text-anchor="middle" fill="#222" >*</text>
<line x1="321.80" y1="181.50" x2="335.60" y2="181.50" stroke="#6baee0" stroke-width="1.5" />
<circle cx="328.7" cy="181.5" r="1.7" fill="#6baee0"/>
<text x="337.6" y="184.20" font-size="7.8" fill="#333">WT</text>
<line x1="321.80" y1="192.80" x2="335.60" y2="192.80" stroke="#b01535" stroke-width="1.5" />
<rect x="326.60" y="191.00" width="4.20" height="3.60" fill="#b01535" />
<text x="337.6" y="195.50" font-size="7.8" fill="#333">6pLOH(+)</text>
<line x1="321.80" y1="204.20" x2="335.60" y2="204.20" stroke="#6cae45" stroke-width="1.5" />
<path d="M326.5,205.7 L330.9,205.7 L328.7,202.1 Z" fill="#6cae45"/>
<text x="337.6" y="206.90" font-size="7.8" fill="#333"><tspan font-style="italic">B*40:02</tspan><tspan font-style="italic" font-size="5.4" dy="-2.6">mut</tspan></text>
<text x="344.2" y="265.8" font-size="7.2" text-anchor="middle" fill="#333" >1:0</text>
<text x="402.5" y="265.8" font-size="7.2" text-anchor="middle" fill="#333" >1:1</text>
<text x="461.5" y="265.8" font-size="7.2" text-anchor="middle" fill="#333" >10:1</text>
<line x1="343.70" y1="252.50" x2="343.70" y2="256.00" stroke="#000" stroke-width="1.1" />
<line x1="402.20" y1="252.50" x2="402.20" y2="256.00" stroke="#000" stroke-width="1.1" />
<line x1="461.20" y1="252.50" x2="461.20" y2="256.00" stroke="#000" stroke-width="1.1" />
<text x="404.0" y="279.4" font-size="9.6" text-anchor="middle" textLength="65.5" lengthAdjust="spacingAndGlyphs" fill="#222" >Effector : Target ratio</text>
<g fill="none" stroke="#000" stroke-width="1.3">
<rect x="285" y="323.3" width="220" height="72.7"/>
</g>
<line x1="285.00" y1="347.50" x2="505.00" y2="347.50" stroke="#000" stroke-width="1.3" />
<line x1="380.50" y1="371.50" x2="505.00" y2="371.50" stroke="#000" stroke-width="1.3" />
<line x1="380.50" y1="323.30" x2="380.50" y2="396.00" stroke="#000" stroke-width="1.3" />
<text x="333.1" y="338.6" font-size="9.9" text-anchor="middle" textLength="28.8" lengthAdjust="spacingAndGlyphs" fill="#222" class="hv">CDR3&#946;</text>
<text x="443.1" y="338.9" font-size="9.9" text-anchor="middle" textLength="29.8" lengthAdjust="spacingAndGlyphs" fill="#222" class="hv">CDR3&#945;</text>
<text x="333.3" y="374.9" font-size="9.5" text-anchor="middle" textLength="87.5" lengthAdjust="spacingAndGlyphs" fill="#222" class="hv">CASSTGDSNQPQHF</text>
<text x="442.5" y="363.2" font-size="9.5" text-anchor="middle" textLength="80" lengthAdjust="spacingAndGlyphs" fill="#222" class="hv">CAVRSSGGSYIPTF</text>
<text x="442.5" y="387.1" font-size="9.5" text-anchor="middle" textLength="97.5" lengthAdjust="spacingAndGlyphs" fill="#222" class="hv">CAMREGRG#SSASKIIF</text>
<defs>
<linearGradient id="cylB" x1="0" y1="0" x2="1" y2="0">
 <stop offset="0" stop-color="#22397a"/><stop offset="0.35" stop-color="#3a5aa6"/><stop offset="0.6" stop-color="#2f4e98"/><stop offset="1" stop-color="#1e356f"/>
</linearGradient>
<linearGradient id="cylR" x1="0" y1="0" x2="1" y2="0">
 <stop offset="0" stop-color="#a80e2a"/><stop offset="0.35" stop-color="#d01838"/><stop offset="0.6" stop-color="#c2122f"/><stop offset="1" stop-color="#9a0c26"/>
</linearGradient>
</defs>
<polyline points="32.60,382.20 43.80,378.80 257.50,387.30" fill="none" stroke="#7a7a7a" stroke-width="0.95"/>
<polyline points="32.60,369.40 43.80,366.10 257.50,374.08" fill="none" stroke="#7a7a7a" stroke-width="0.95"/>
<polyline points="32.60,356.60 43.80,353.40 257.50,360.86" fill="none" stroke="#7a7a7a" stroke-width="0.95"/>
<polyline points="32.60,343.80 43.80,340.70 257.50,347.64" fill="none" stroke="#7a7a7a" stroke-width="0.95"/>
<polyline points="32.60,331.00 43.80,328.00 257.50,334.42" fill="none" stroke="#7a7a7a" stroke-width="0.95"/>
<polyline points="32.60,318.20 43.80,315.30 257.50,321.20" fill="none" stroke="#7a7a7a" stroke-width="0.95"/>
<line x1="255.80" y1="395.30" x2="255.80" y2="387.30" stroke="#8a8a8a" stroke-width="0.8" />
<line x1="32.60" y1="317.60" x2="32.60" y2="382.60" stroke="#000" stroke-width="1.2" />
<line x1="29.80" y1="382.20" x2="32.60" y2="382.20" stroke="#000" stroke-width="1.1" />
<text x="25.2" y="384.7" font-size="7.4" text-anchor="end" textLength="4.1" lengthAdjust="spacingAndGlyphs" fill="#222" >0</text>
<line x1="29.80" y1="369.40" x2="32.60" y2="369.40" stroke="#000" stroke-width="1.1" />
<text x="25.2" y="371.9" font-size="7.4" text-anchor="end" textLength="4.1" lengthAdjust="spacingAndGlyphs" fill="#222" >5</text>
<line x1="29.80" y1="356.60" x2="32.60" y2="356.60" stroke="#000" stroke-width="1.1" />
<text x="25.2" y="359.09999999999997" font-size="7.4" text-anchor="end" textLength="8.2" lengthAdjust="spacingAndGlyphs" fill="#222" >10</text>
<line x1="29.80" y1="343.80" x2="32.60" y2="343.80" stroke="#000" stroke-width="1.1" />
<text x="25.2" y="346.3" font-size="7.4" text-anchor="end" textLength="8.2" lengthAdjust="spacingAndGlyphs" fill="#222" >15</text>
<line x1="29.80" y1="331.00" x2="32.60" y2="331.00" stroke="#000" stroke-width="1.1" />
<text x="25.2" y="333.5" font-size="7.4" text-anchor="end" textLength="8.2" lengthAdjust="spacingAndGlyphs" fill="#222" >20</text>
<line x1="29.80" y1="318.20" x2="32.60" y2="318.20" stroke="#000" stroke-width="1.1" />
<text x="25.2" y="320.7" font-size="7.4" text-anchor="end" textLength="8.2" lengthAdjust="spacingAndGlyphs" fill="#222" >25</text>
<line x1="32.00" y1="382.20" x2="255.80" y2="395.30" stroke="#000" stroke-width="1.3" />
<line x1="47.34" y1="383.06" x2="47.34" y2="385.66" stroke="#000" stroke-width="1.0" />
<line x1="59.98" y1="383.81" x2="59.98" y2="386.41" stroke="#000" stroke-width="1.0" />
<line x1="72.80" y1="384.56" x2="72.80" y2="387.16" stroke="#000" stroke-width="1.0" />
<line x1="85.80" y1="385.32" x2="85.80" y2="387.92" stroke="#000" stroke-width="1.0" />
<line x1="98.97" y1="386.10" x2="98.97" y2="388.70" stroke="#000" stroke-width="1.0" />
<line x1="112.32" y1="386.88" x2="112.32" y2="389.48" stroke="#000" stroke-width="1.0" />
<line x1="125.84" y1="387.67" x2="125.84" y2="390.27" stroke="#000" stroke-width="1.0" />
<line x1="139.54" y1="388.48" x2="139.54" y2="391.08" stroke="#000" stroke-width="1.0" />
<line x1="153.42" y1="389.29" x2="153.42" y2="391.89" stroke="#000" stroke-width="1.0" />
<line x1="167.47" y1="390.12" x2="167.47" y2="392.72" stroke="#000" stroke-width="1.0" />
<line x1="181.69" y1="390.95" x2="181.69" y2="393.55" stroke="#000" stroke-width="1.0" />
<line x1="196.10" y1="391.80" x2="196.10" y2="394.40" stroke="#000" stroke-width="1.0" />
<line x1="210.68" y1="392.65" x2="210.68" y2="395.25" stroke="#000" stroke-width="1.0" />
<line x1="225.43" y1="393.52" x2="225.43" y2="396.12" stroke="#000" stroke-width="1.0" />
<line x1="240.36" y1="394.39" x2="240.36" y2="396.99" stroke="#000" stroke-width="1.0" />
<line x1="255.46" y1="395.28" x2="255.46" y2="397.88" stroke="#000" stroke-width="1.0" />
<path d="M44.59,343.80 L44.59,378.79 A3.40,1.1 0 0 0 51.39,378.79 L51.39,343.80 Z" fill="url(#cylR)"/>
<ellipse cx="47.99" cy="343.80" rx="3.40" ry="1.1" fill="#d84a62"/>
<text x="47.99" y="341.80" font-size="7.4" text-anchor="middle" fill="#222" >14</text>
<ellipse cx="60.31" cy="379.44" rx="3.40" ry="1.1" fill="#d9a0a8" opacity="0.8"/>
<text x="62.20" y="374.41" font-size="7.4" text-anchor="middle" fill="#333" >0</text>
<ellipse cx="72.78" cy="380.10" rx="3.40" ry="1.1" fill="#d9a0a8" opacity="0.8"/>
<text x="74.87" y="375.35" font-size="7.4" text-anchor="middle" fill="#333" >0</text>
<ellipse cx="85.41" cy="380.77" rx="3.40" ry="1.1" fill="#d9a0a8" opacity="0.8"/>
<text x="87.70" y="376.30" font-size="7.4" text-anchor="middle" fill="#333" >0</text>
<ellipse cx="98.20" cy="381.45" rx="3.40" ry="1.1" fill="#d9a0a8" opacity="0.8"/>
<text x="100.69" y="377.26" font-size="7.4" text-anchor="middle" fill="#333" >0</text>
<ellipse cx="111.14" cy="382.13" rx="3.40" ry="1.1" fill="#d9a0a8" opacity="0.8"/>
<text x="113.84" y="378.24" font-size="7.4" text-anchor="middle" fill="#333" >0</text>
<ellipse cx="124.23" cy="382.82" rx="3.40" ry="1.1" fill="#d9a0a8" opacity="0.8"/>
<text x="127.14" y="379.22" font-size="7.4" text-anchor="middle" fill="#333" >0</text>
<ellipse cx="137.48" cy="383.52" rx="3.40" ry="1.1" fill="#d9a0a8" opacity="0.8"/>
<text x="140.60" y="380.22" font-size="7.4" text-anchor="middle" fill="#333" >0</text>
<ellipse cx="150.89" cy="384.23" rx="3.40" ry="1.1" fill="#d9a0a8" opacity="0.8"/>
<text x="154.22" y="381.22" font-size="7.4" text-anchor="middle" fill="#333" >0</text>
<ellipse cx="164.45" cy="384.94" rx="3.40" ry="1.1" fill="#d9a0a8" opacity="0.8"/>
<text x="168.00" y="382.24" font-size="7.4" text-anchor="middle" fill="#333" >0</text>
<ellipse cx="178.17" cy="385.67" rx="3.40" ry="1.1" fill="#d9a0a8" opacity="0.8"/>
<text x="181.93" y="383.28" font-size="7.4" text-anchor="middle" fill="#333" >0</text>
<path d="M188.64,367.59 L188.64,386.40 A3.40,1.1 0 0 0 195.44,386.40 L195.44,367.59 Z" fill="url(#cylR)"/>
<ellipse cx="192.04" cy="367.59" rx="3.40" ry="1.1" fill="#d84a62"/>
<text x="192.04" y="365.59" font-size="7.4" text-anchor="middle" fill="#222" >7</text>
<path d="M202.67,381.73 L202.67,387.14 A3.40,1.1 0 0 0 209.47,387.14 L209.47,381.73 Z" fill="url(#cylR)"/>
<ellipse cx="206.07" cy="381.73" rx="3.40" ry="1.1" fill="#d84a62"/>
<text x="206.07" y="379.73" font-size="7.4" text-anchor="middle" fill="#222" >2</text>
<path d="M216.86,382.44 L216.86,387.89 A3.40,1.1 0 0 0 223.66,387.89 L223.66,382.44 Z" fill="url(#cylR)"/>
<ellipse cx="220.26" cy="382.44" rx="3.40" ry="1.1" fill="#d84a62"/>
<text x="220.26" y="380.44" font-size="7.4" text-anchor="middle" fill="#222" >2</text>
<path d="M231.20,383.16 L231.20,388.65 A3.40,1.1 0 0 0 238.00,388.65 L238.00,383.16 Z" fill="url(#cylR)"/>
<ellipse cx="234.60" cy="383.16" rx="3.40" ry="1.1" fill="#d84a62"/>
<text x="234.60" y="381.16" font-size="7.4" text-anchor="middle" fill="#222" >2</text>
<path d="M245.10,321.30 L245.10,389.39 A3.50,1.1 0 0 0 252.10,389.39 L252.10,321.30 Z" fill="url(#cylR)"/>
<ellipse cx="248.60" cy="321.30" rx="3.50" ry="1.1" fill="#d84a62"/>
<path d="M39.79,358.07 L39.79,381.29 A3.40,1.1 0 0 0 46.59,381.29 L46.59,358.07 Z" fill="url(#cylB)"/>
<ellipse cx="43.19" cy="358.07" rx="3.40" ry="1.1" fill="#4a6ab0"/>
<text x="43.19" y="356.07" font-size="7.4" text-anchor="middle" fill="#222" >9</text>
<path d="M52.30,340.57 L52.30,382.07 A3.40,1.1 0 0 0 59.10,382.07 L59.10,340.57 Z" fill="url(#cylB)"/>
<ellipse cx="55.70" cy="340.57" rx="3.40" ry="1.1" fill="#4a6ab0"/>
<text x="55.70" y="338.57" font-size="7.4" text-anchor="middle" fill="#222" >16</text>
<path d="M64.97,356.77 L64.97,382.85 A3.40,1.1 0 0 0 71.77,382.85 L71.77,356.77 Z" fill="url(#cylB)"/>
<ellipse cx="68.37" cy="356.77" rx="3.40" ry="1.1" fill="#4a6ab0"/>
<text x="68.37" y="354.77" font-size="7.4" text-anchor="middle" fill="#222" >10</text>
<path d="M77.80,365.29 L77.80,383.64 A3.40,1.1 0 0 0 84.60,383.64 L84.60,365.29 Z" fill="url(#cylB)"/>
<ellipse cx="81.20" cy="365.29" rx="3.40" ry="1.1" fill="#4a6ab0"/>
<text x="81.20" y="363.29" font-size="7.4" text-anchor="middle" fill="#222" >7</text>
<path d="M90.79,368.62 L90.79,384.44 A3.40,1.1 0 0 0 97.59,384.44 L97.59,368.62 Z" fill="url(#cylB)"/>
<ellipse cx="94.19" cy="368.62" rx="3.40" ry="1.1" fill="#4a6ab0"/>
<text x="94.19" y="366.62" font-size="7.4" text-anchor="middle" fill="#222" >6</text>
<path d="M103.94,372.00 L103.94,385.25 A3.40,1.1 0 0 0 110.74,385.25 L110.74,372.00 Z" fill="url(#cylB)"/>
<ellipse cx="107.34" cy="372.00" rx="3.40" ry="1.1" fill="#4a6ab0"/>
<text x="107.34" y="370.00" font-size="7.4" text-anchor="middle" fill="#222" >5</text>
<path d="M117.24,372.75 L117.24,386.07 A3.40,1.1 0 0 0 124.04,386.07 L124.04,372.75 Z" fill="url(#cylB)"/>
<ellipse cx="120.64" cy="372.75" rx="3.40" ry="1.1" fill="#4a6ab0"/>
<text x="120.64" y="370.75" font-size="7.4" text-anchor="middle" fill="#222" >5</text>
<path d="M130.70,378.86 L130.70,386.90 A3.40,1.1 0 0 0 137.50,386.90 L137.50,378.86 Z" fill="url(#cylB)"/>
<ellipse cx="134.10" cy="378.86" rx="3.40" ry="1.1" fill="#4a6ab0"/>
<text x="134.10" y="376.86" font-size="7.4" text-anchor="middle" fill="#222" >3</text>
<path d="M144.32,382.35 L144.32,387.74 A3.40,1.1 0 0 0 151.12,387.74 L151.12,382.35 Z" fill="url(#cylB)"/>
<ellipse cx="147.72" cy="382.35" rx="3.40" ry="1.1" fill="#4a6ab0"/>
<text x="147.72" y="380.35" font-size="7.4" text-anchor="middle" fill="#222" >2</text>
<path d="M158.10,383.17 L158.10,388.59 A3.40,1.1 0 0 0 164.90,388.59 L164.90,383.17 Z" fill="url(#cylB)"/>
<ellipse cx="161.50" cy="383.17" rx="3.40" ry="1.1" fill="#4a6ab0"/>
<text x="161.50" y="381.17" font-size="7.4" text-anchor="middle" fill="#222" >2</text>
<path d="M172.03,384.00 L172.03,389.45 A3.40,1.1 0 0 0 178.83,389.45 L178.83,384.00 Z" fill="url(#cylB)"/>
<ellipse cx="175.43" cy="384.00" rx="3.40" ry="1.1" fill="#4a6ab0"/>
<text x="175.43" y="382.00" font-size="7.4" text-anchor="middle" fill="#222" >2</text>
<ellipse cx="189.53" cy="390.32" rx="3.40" ry="1.1" fill="#8a9ccc" opacity="0.8"/>
<text x="188.10" y="386.00" font-size="7.4" text-anchor="middle" fill="#333" >0</text>
<ellipse cx="203.78" cy="391.20" rx="3.40" ry="1.1" fill="#8a9ccc" opacity="0.8"/>
<text x="197.80" y="388.50" font-size="7.4" text-anchor="middle" fill="#333" >0</text>
<ellipse cx="218.19" cy="392.09" rx="3.40" ry="1.1" fill="#8a9ccc" opacity="0.8"/>
<text x="213.70" y="391.30" font-size="7.4" text-anchor="middle" fill="#333" >0</text>
<ellipse cx="232.75" cy="392.99" rx="3.40" ry="1.1" fill="#8a9ccc" opacity="0.8"/>
<text x="228.00" y="392.00" font-size="7.4" text-anchor="middle" fill="#333" >0</text>
<path d="M245.10,349.07 L245.10,393.97 A3.50,1.1 0 0 0 252.10,393.97 L252.10,349.07 Z" fill="url(#cylB)"/>
<ellipse cx="248.60" cy="349.07" rx="3.50" ry="1.1" fill="#4a6ab0"/>
<text x="251.5" y="318.9" font-size="7.4" text-anchor="middle" fill="#222" >25</text>
<text x="241.4" y="348.7" font-size="7.4" text-anchor="middle" fill="#222" >16</text>
<text transform="translate(44.38,389.97) rotate(-90)" font-size="8" text-anchor="end" fill="#222">CASSTGDSNQPQHF</text>
<text transform="translate(56.81,390.43) rotate(-90)" font-size="8" text-anchor="end" fill="#222">CASSLETIATEAFF</text>
<text transform="translate(69.42,390.93) rotate(-90)" font-size="8" text-anchor="end" fill="#222">CASSSDREANEQYE</text>
<text transform="translate(82.20,391.47) rotate(-90)" font-size="8" text-anchor="end" fill="#222">CASSGWDRDNSPLHF</text>
<text transform="translate(95.16,392.04) rotate(-90)" font-size="8" text-anchor="end" fill="#222">CASSGKQGFQPQHF</text>
<text transform="translate(108.30,392.66) rotate(-90)" font-size="8" text-anchor="end" fill="#222">CATSTRDSGANVLTF</text>
<text transform="translate(121.61,393.32) rotate(-90)" font-size="8" text-anchor="end" fill="#222">CASSPGLAGENEQFF</text>
<text transform="translate(135.10,394.01) rotate(-90)" font-size="8" text-anchor="end" fill="#222">CASRGGGGAQGYTF</text>
<text transform="translate(148.76,394.75) rotate(-90)" font-size="8" text-anchor="end" fill="#222">CASSSWDRDNSPLHF</text>
<text transform="translate(162.60,395.52) rotate(-90)" font-size="8" text-anchor="end" fill="#222">CASSNVTESPYNEQFF</text>
<text transform="translate(176.61,396.33) rotate(-90)" font-size="8" text-anchor="end" fill="#222">CASSLGGDEAFF</text>
<text transform="translate(190.81,397.19) rotate(-90)" font-size="8" text-anchor="end" fill="#222">CAWESTGGGEETQYE</text>
<text transform="translate(205.17,398.08) rotate(-90)" font-size="8" text-anchor="end" fill="#222">CASSDRTSGVRNEQFF</text>
<text transform="translate(219.71,399.01) rotate(-90)" font-size="8" text-anchor="end" fill="#222">CASRTESSGTSTDTQYF</text>
<text transform="translate(234.43,399.98) rotate(-90)" font-size="8" text-anchor="end" fill="#222">CASAAVSGTGSSPLHF</text>
<text transform="translate(249.33,400.99) rotate(-90)" font-size="8" text-anchor="end" fill="#222">Unique</text>
<rect x="64.10" y="501.40" width="7.00" height="6.60" fill="#2d4b95" />
<text x="74.0" y="508.2" font-size="7.6" textLength="28.5" lengthAdjust="spacingAndGlyphs" fill="#222" >CTL line</text>
<rect x="115.10" y="501.30" width="7.00" height="6.60" fill="#b8082c" />
<text x="124.4" y="508.2" font-size="7.6" fill="#222" textLength="106" lengthAdjust="spacingAndGlyphs">CD8<tspan font-size="5" dy="-2.6">+</tspan><tspan dy="2.6">CD137</tspan><tspan font-size="5" dy="-2.6">+</tspan><tspan dy="2.6">PD-1</tspan><tspan font-size="5" dy="-2.6">+</tspan><tspan dy="2.6"> BMT cells</tspan></text>
<rect x="0" y="0" width="520" height="1.4" fill="#000"/>
<rect x="0" y="0" width="1.4" height="516" fill="#000"/>
<rect x="518.5" y="0" width="1.5" height="516" fill="#000"/>
<rect x="0" y="514.5" width="520" height="1.5" fill="#000"/>
</svg>
</body></html>
